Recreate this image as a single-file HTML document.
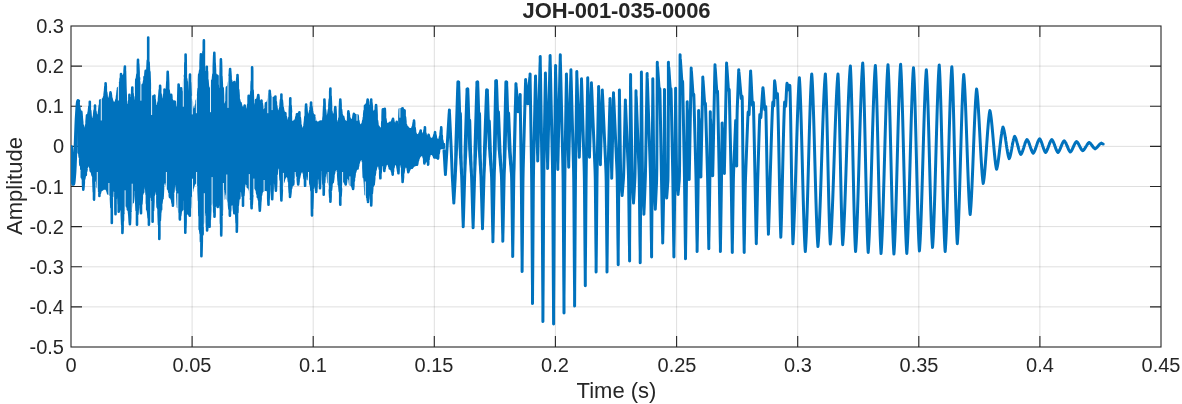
<!DOCTYPE html>
<html><head><meta charset="utf-8"><title>JOH-001-035-0006</title>
<style>
html,body{margin:0;padding:0;background:#fff;}
body{width:1182px;height:404px;position:relative;overflow:hidden;font-family:"Liberation Sans",sans-serif;color:#262626;}
.t,#title,#xlab,#ylab{will-change:transform;}
.t{position:absolute;font-size:20px;line-height:22px;height:22px;white-space:nowrap;}
.xt{width:100px;text-align:center;}
.yt{width:64px;text-align:right;}
#title{position:absolute;left:0;width:1233px;text-align:center;top:-1px;font-size:22px;line-height:24px;font-weight:bold;color:#262626;white-space:nowrap;letter-spacing:-0.1px}
#xlab{position:absolute;left:0;width:1233px;text-align:center;top:378.9px;font-size:22px;line-height:24px;white-space:nowrap;}
#ylab{position:absolute;left:-85px;top:174px;width:200px;height:24px;text-align:center;font-size:22px;line-height:24px;transform:rotate(-90deg);transform-origin:50% 50%;white-space:nowrap;}
</style></head><body>
<svg width="1182" height="404" viewBox="0 0 1182 404" style="position:absolute;left:0;top:0"><rect x="0" y="0" width="1182" height="404" fill="#fff"/><path d="M192.1,26V347M313.2,26V347M434.3,26V347M555.4,26V347M676.6,26V347M797.7,26V347M918.8,26V347M1039.9,26V347M71,66.1H1161M71,106.2H1161M71,146.4H1161M71,186.5H1161M71,226.6H1161M71,266.8H1161M71,306.9H1161" stroke="rgba(38,38,38,0.15)" stroke-width="1" fill="none"/><path d="M192.1,347v-11M192.1,26v11M313.2,347v-11M313.2,26v11M434.3,347v-11M434.3,26v11M555.4,347v-11M555.4,26v11M676.6,347v-11M676.6,26v11M797.7,347v-11M797.7,26v11M918.8,347v-11M918.8,26v11M1039.9,347v-11M1039.9,26v11M71,66.1h11M1161,66.1h-11M71,106.2h11M1161,106.2h-11M71,146.4h11M1161,146.4h-11M71,186.5h11M1161,186.5h-11M71,226.6h11M1161,226.6h-11M71,266.8h11M1161,266.8h-11M71,306.9h11M1161,306.9h-11" stroke="#262626" stroke-width="1.1" fill="none"/><rect x="71" y="26" width="1090" height="321" fill="none" stroke="#262626" stroke-width="1.1"/><clipPath id="c"><rect x="71" y="26" width="1090" height="321"/></clipPath><path clip-path="url(#c)" d="M71.0,147.0 L71.1,147.4 L71.3,148.4 L71.4,150.1 L71.5,152.4 L71.7,155.2 L71.8,158.4 L72.0,161.9 L72.1,165.5 L72.2,169.1 L72.4,172.6 L72.5,175.8 L72.7,178.6 L72.8,180.9 L72.9,182.6 L73.1,183.6 L73.2,184.0 L73.2,184.0 L73.5,183.2 L73.8,180.8 L74.1,177.0 L74.5,171.8 L74.8,165.6 L75.1,158.4 L75.4,150.6 L75.7,142.5 L76.0,134.4 L76.3,126.6 L76.6,119.4 L77.0,113.2 L77.3,108.0 L77.6,104.2 L77.9,101.8 L78.2,101.0" stroke="#0072bd" stroke-width="3.8" fill="none" stroke-linejoin="round" stroke-linecap="round"/><path clip-path="url(#c)" d="M78.6,102.3 L78.6,152.6 L79.0,153.0 L79.0,105.8 L79.4,108.3 L79.4,154.3 L79.8,157.2 L79.8,110.0 L80.2,111.0 L80.2,162.2 L80.4,165.0 L80.4,111.2 L80.6,111.5 L80.6,165.0 L81.0,166.0 L81.0,111.7 L81.3,111.7 L81.3,168.7 L81.4,169.2 L81.4,112.5 L81.8,118.0 L81.8,176.3 L81.8,177.3 L81.8,118.5 L82.2,122.1 L82.2,177.5 L82.6,179.0 L82.6,125.1 L83.0,127.0 L83.0,183.2 L83.3,189.6 L83.3,128.0 L83.4,128.2 L83.4,188.4 L83.8,182.7 L83.8,128.8 L84.2,129.0 L84.2,178.9 L84.6,176.7 L84.6,129.0 L84.6,129.0 L84.6,176.6 L85.0,175.4 L85.0,128.9 L85.4,128.5 L85.4,174.9 L85.8,174.9 L85.8,127.3 L86.2,125.1 L86.2,171.4 L86.6,168.8 L86.6,121.4 L87.0,116.0 L87.0,167.1 L87.0,166.9 L87.0,115.4 L87.4,115.4 L87.4,165.9 L87.8,165.3 L87.8,115.1 L88.2,114.3 L88.2,165.0 L88.6,165.0 L88.6,112.8 L88.8,111.9 L88.8,165.0 L89.0,165.0 L89.0,110.3 L89.4,106.5 L89.4,165.1 L89.8,165.7 L89.8,101.8 L89.8,102.7 L89.8,165.8 L90.2,167.3 L90.2,110.7 L90.6,115.8 L90.6,169.8 L90.8,171.1 L90.8,117.1 L91.0,118.7 L91.0,171.1 L91.4,171.3 L91.4,120.0 L91.8,120.3 L91.8,172.0 L92.0,172.5 L92.0,120.3 L92.2,120.3 L92.2,173.3 L92.5,174.9 L92.5,120.3 L92.6,120.2 L92.6,174.9 L93.0,175.9 L93.0,119.8 L93.4,118.8 L93.4,180.6 L93.8,192.0 L93.8,117.0 L94.0,115.9 L94.0,199.6 L94.2,191.0 L94.2,114.2 L94.6,110.3 L94.6,181.2 L95.0,176.8 L95.0,105.5 L95.0,106.2 L95.0,176.5 L95.4,175.0 L95.4,111.4 L95.7,113.9 L95.7,174.9 L95.8,174.9 L95.8,114.5 L96.2,116.1 L96.2,175.0 L96.6,176.0 L96.6,116.6 L96.9,116.6 L96.9,177.9 L97.0,178.3 L97.0,116.6 L97.4,116.6 L97.4,182.6 L97.7,187.2 L97.7,116.4 L97.8,116.3 L97.8,187.2 L98.2,187.5 L98.2,115.7 L98.6,114.4 L98.6,188.5 L99.0,191.0 L99.0,112.4 L99.4,109.5 L99.4,195.7 L99.4,195.9 L99.4,109.3 L99.8,105.3 L99.8,193.4 L100.2,191.8 L100.2,100.5 L100.2,100.5 L100.2,191.7 L100.6,190.6 L100.6,100.5 L101.0,100.5 L101.0,190.0 L101.4,189.8 L101.4,100.4 L101.8,100.2 L101.8,189.7 L101.9,189.7 L101.9,100.1 L102.2,99.9 L102.2,189.4 L102.6,189.1 L102.6,99.4 L102.6,99.3 L102.6,189.0 L103.0,188.8 L103.0,99.3 L103.4,99.0 L103.4,188.7 L103.8,188.5 L103.8,98.3 L104.2,96.9 L104.2,188.5 L104.6,188.5 L104.6,94.6 L105.0,91.2 L105.0,188.5 L105.1,188.5 L105.1,90.0 L105.4,86.3 L105.4,188.5 L105.6,188.5 L105.6,83.3 L105.8,86.7 L105.8,188.5 L106.2,188.7 L106.2,92.3 L106.6,95.9 L106.6,189.1 L107.0,189.7 L107.0,98.0 L107.4,99.0 L107.4,190.7 L107.8,192.1 L107.8,99.3 L108.1,99.3 L108.1,193.4 L108.2,193.4 L108.2,99.3 L108.6,99.2 L108.6,193.4 L109.0,193.5 L109.0,99.0 L109.4,98.3 L109.4,193.8 L109.8,194.2 L109.8,97.0 L110.1,95.8 L110.1,194.7 L110.2,194.7 L110.2,94.9 L110.5,92.4 L110.5,195.3 L110.6,195.5 L110.6,92.8 L111.0,95.8 L111.0,199.2 L111.4,207.8 L111.4,98.1 L111.8,99.9 L111.8,223.0 L111.8,222.5 L111.8,99.9 L112.2,101.2 L112.2,196.4 L112.6,182.2 L112.6,102.1 L113.0,102.6 L113.0,176.2 L113.4,174.9 L113.4,102.9 L113.5,102.9 L113.5,174.9 L113.8,175.0 L113.8,103.0 L114.2,103.0 L114.2,176.4 L114.3,177.0 L114.3,103.0 L114.6,103.0 L114.6,181.2 L115.0,191.2 L115.0,102.9 L115.4,102.6 L115.4,208.5 L115.5,214.2 L115.5,102.5 L115.8,102.0 L115.8,198.5 L116.2,185.3 L116.2,100.9 L116.6,99.3 L116.6,179.2 L117.0,177.4 L117.0,97.1 L117.2,95.4 L117.2,177.3 L117.4,177.4 L117.4,94.1 L117.8,90.2 L117.8,179.2 L118.0,181.7 L118.0,88.2 L118.2,88.2 L118.2,186.8 L118.6,204.1 L118.6,88.0 L118.7,88.0 L118.7,211.8 L119.0,210.0 L119.0,87.6 L119.4,86.6 L119.4,208.1 L119.8,207.3 L119.8,84.9 L120.2,82.3 L120.2,207.0 L120.5,207.0 L120.5,80.0 L120.6,78.5 L120.6,207.0 L121.0,207.4 L121.0,74.1 L121.0,74.3 L121.0,207.6 L121.4,209.9 L121.4,75.7 L121.8,76.5 L121.8,215.2 L122.2,224.8 L122.2,76.9 L122.4,77.0 L122.4,232.9 L122.6,228.6 L122.6,77.0 L122.9,77.0 L122.9,221.0 L123.0,219.7 L123.0,77.0 L123.4,76.9 L123.4,213.3 L123.8,209.1 L123.8,76.2 L124.2,74.3 L124.2,206.5 L124.6,205.1 L124.6,70.8 L124.9,66.6 L124.9,204.7 L125.0,204.6 L125.0,71.1 L125.4,87.2 L125.4,204.6 L125.4,204.6 L125.4,87.5 L125.8,98.0 L125.8,204.6 L126.2,204.7 L126.2,104.5 L126.6,107.8 L126.6,205.1 L127.0,205.9 L127.0,109.0 L127.4,109.2 L127.4,207.1 L127.4,207.1 L127.4,109.2 L127.8,109.1 L127.8,209.0 L127.9,209.5 L127.9,109.0 L128.2,108.2 L128.2,209.6 L128.6,210.2 L128.6,105.9 L129.0,101.4 L129.0,212.2 L129.4,215.8 L129.4,94.9 L129.4,95.3 L129.4,216.2 L129.8,223.0 L129.8,99.3 L129.9,99.7 L129.9,224.3 L130.2,217.6 L130.2,101.2 L130.6,101.7 L130.6,211.5 L130.8,208.7 L130.8,101.8 L131.0,101.8 L131.0,207.3 L131.4,204.6 L131.4,101.1 L131.8,98.0 L131.8,203.0 L132.2,202.3 L132.2,91.0 L132.3,87.5 L132.3,202.2 L132.6,202.1 L132.6,93.5 L132.8,97.6 L132.8,202.1 L133.0,196.8 L133.0,100.0 L133.4,104.0 L133.4,189.6 L133.8,187.4 L133.8,106.0 L134.1,106.5 L134.1,187.2 L134.2,187.2 L134.2,106.6 L134.6,106.7 L134.6,187.4 L134.6,187.4 L134.6,106.7 L135.0,106.3 L135.0,188.4 L135.4,190.6 L135.4,103.7 L135.8,96.9 L135.8,194.7 L136.2,201.1 L136.2,83.8 L136.3,79.5 L136.3,203.2 L136.6,210.5 L136.6,79.4 L137.0,78.2 L137.0,223.4 L137.0,224.8 L137.0,77.9 L137.4,74.4 L137.4,214.5 L137.8,207.4 L137.8,66.6 L138.0,59.7 L138.0,204.9 L138.2,203.7 L138.2,63.9 L138.6,72.0 L138.6,202.3 L139.0,202.1 L139.0,77.8 L139.0,78.0 L139.0,202.1 L139.4,202.2 L139.4,81.6 L139.8,84.0 L139.8,202.8 L140.2,204.4 L140.2,85.2 L140.6,85.6 L140.6,207.7 L141.0,213.2 L141.0,85.7 L141.4,85.7 L141.4,203.8 L141.8,197.7 L141.8,85.6 L142.2,85.5 L142.2,194.2 L142.6,192.6 L142.6,85.2 L143.0,84.8 L143.0,192.2 L143.2,192.1 L143.2,84.5 L143.4,84.4 L143.4,189.1 L143.8,184.6 L143.8,83.7 L144.2,80.9 L144.2,182.7 L144.5,182.3 L144.5,77.0 L144.6,77.0 L144.6,182.3 L144.7,182.3 L144.7,77.0 L145.0,76.5 L145.0,182.3 L145.4,182.9 L145.4,74.4 L145.7,70.9 L145.7,184.0 L145.8,184.6 L145.8,71.1 L146.2,71.8 L146.2,188.2 L146.6,194.3 L146.6,72.1 L146.9,72.1 L146.9,202.1 L147.0,203.8 L147.0,72.1 L147.2,71.8 L147.2,209.5 L147.4,209.5 L147.4,70.3 L147.8,60.5 L147.8,210.2 L148.2,212.4 L148.2,37.6 L148.2,39.2 L148.2,212.6 L148.6,217.8 L148.6,62.2 L148.9,69.9 L148.9,224.8 L149.0,219.1 L149.0,70.8 L149.4,72.1 L149.4,197.6 L149.4,196.8 L149.4,72.2 L149.8,83.9 L149.8,186.3 L150.2,181.8 L150.2,91.4 L150.6,95.2 L150.6,181.0 L150.7,181.0 L150.7,95.5 L151.0,96.6 L151.0,181.3 L151.4,183.2 L151.4,96.8 L151.8,96.8 L151.8,189.0 L152.2,200.5 L152.2,96.8 L152.6,96.7 L152.6,219.8 L152.6,221.7 L152.6,96.7 L153.0,96.6 L153.0,210.6 L153.4,201.4 L153.4,96.5 L153.8,96.2 L153.8,195.0 L154.2,190.9 L154.2,95.8 L154.4,95.7 L154.4,189.7 L154.6,188.6 L154.6,99.1 L155.0,103.2 L155.0,187.5 L155.4,187.2 L155.4,105.5 L155.6,106.1 L155.6,187.2 L155.8,187.2 L155.8,106.5 L156.2,106.7 L156.2,187.8 L156.3,188.3 L156.3,106.7 L156.6,106.7 L156.6,189.7 L157.0,194.2 L157.0,106.6 L157.4,106.3 L157.4,202.0 L157.6,206.9 L157.6,106.0 L157.8,105.5 L157.8,207.1 L158.2,208.5 L158.2,104.1 L158.6,102.0 L158.6,213.5 L159.0,224.6 L159.0,99.1 L159.3,95.9 L159.3,239.0 L159.4,235.1 L159.4,95.0 L159.8,89.8 L159.8,220.6 L160.1,215.0 L160.1,85.7 L160.2,88.3 L160.2,213.0 L160.6,210.0 L160.6,94.1 L161.0,97.9 L161.0,209.5 L161.1,209.5 L161.1,98.3 L161.4,100.2 L161.4,203.3 L161.8,199.7 L161.8,101.4 L162.2,101.7 L162.2,198.5 L162.5,198.4 L162.5,101.8 L162.6,101.8 L162.6,196.7 L163.0,188.8 L163.0,101.6 L163.4,100.7 L163.4,184.1 L163.8,181.9 L163.8,98.6 L164.2,94.4 L164.2,181.1 L164.5,181.0 L164.5,89.5 L164.6,89.8 L164.6,181.0 L165.0,181.1 L165.0,91.1 L165.4,91.7 L165.4,181.2 L165.8,181.6 L165.8,91.9 L166.0,91.9 L166.0,182.0 L166.2,182.4 L166.2,91.8 L166.6,91.0 L166.6,183.6 L167.0,185.4 L167.0,88.0 L167.4,81.2 L167.4,187.8 L167.5,188.5 L167.5,79.0 L167.7,71.7 L167.7,188.5 L167.8,188.5 L167.8,73.7 L168.2,83.7 L168.2,188.7 L168.6,189.3 L168.6,90.1 L169.0,93.7 L169.0,190.5 L169.4,192.5 L169.4,95.2 L169.8,95.6 L169.8,195.6 L170.0,197.1 L170.0,95.6 L170.2,95.6 L170.2,197.1 L170.6,197.2 L170.6,95.5 L171.0,95.2 L171.0,197.5 L171.2,197.8 L171.2,94.9 L171.4,97.0 L171.4,198.1 L171.8,199.2 L171.8,99.9 L172.2,101.3 L172.2,200.8 L172.6,203.2 L172.6,101.7 L172.9,101.8 L172.9,205.8 L173.0,203.3 L173.0,101.8 L173.4,101.8 L173.4,192.0 L173.8,185.4 L173.8,101.8 L174.2,101.8 L174.2,182.2 L174.6,181.1 L174.6,101.8 L174.9,101.8 L174.9,181.0 L175.0,181.0 L175.0,103.6 L175.4,109.6 L175.4,181.2 L175.8,181.7 L175.8,112.7 L176.2,114.0 L176.2,183.2 L176.6,185.8 L176.6,114.2 L176.6,114.2 L176.6,186.2 L177.0,190.1 L177.0,114.0 L177.4,112.5 L177.4,196.3 L177.8,205.0 L177.8,108.2 L177.9,106.9 L177.9,207.0 L178.2,207.1 L178.2,99.7 L178.6,85.5 L178.6,207.6 L178.6,207.7 L178.6,84.6 L179.0,89.4 L179.0,209.3 L179.4,212.6 L179.4,91.5 L179.8,91.9 L179.8,218.3 L179.9,219.4 L179.9,91.9 L180.2,91.8 L180.2,215.9 L180.6,212.9 L180.6,91.1 L181.0,89.0 L181.0,211.1 L181.1,210.7 L181.1,88.2 L181.4,91.9 L181.4,210.0 L181.8,209.6 L181.8,95.0 L182.2,96.4 L182.2,209.5 L182.3,209.4 L182.3,96.6 L182.6,96.8 L182.6,200.0 L182.8,193.8 L182.8,96.8 L183.0,96.8 L183.0,190.3 L183.4,185.0 L183.4,95.9 L183.8,92.0 L183.8,182.8 L184.2,182.3 L184.2,83.3 L184.3,79.5 L184.3,182.3 L184.6,183.5 L184.6,79.2 L185.0,75.3 L185.0,198.9 L185.3,232.8 L185.3,66.5 L185.4,62.6 L185.4,228.1 L185.6,221.7 L185.6,54.5 L185.8,67.7 L185.8,214.6 L186.2,210.0 L186.2,78.9 L186.5,81.7 L186.5,209.5 L186.6,209.5 L186.6,81.9 L186.8,82.0 L186.8,209.6 L187.0,210.4 L187.0,92.0 L187.3,99.3 L187.3,213.2 L187.4,213.2 L187.4,100.6 L187.8,101.8 L187.8,213.2 L187.8,213.2 L187.8,101.8 L188.2,101.6 L188.2,213.3 L188.6,213.6 L188.6,100.4 L189.0,97.3 L189.0,214.0 L189.4,214.8 L189.4,91.4 L189.8,82.7 L189.8,215.7 L189.8,214.4 L189.8,81.5 L190.0,74.6 L190.0,207.9 L190.2,203.3 L190.2,82.6 L190.6,94.0 L190.6,196.7 L191.0,193.4 L191.0,99.6 L191.4,101.6 L191.4,192.3 L191.7,192.2 L191.7,101.8 L191.8,102.6 L191.8,191.9 L192.2,189.9 L192.2,107.0 L192.6,109.3 L192.6,188.2 L193.0,186.8 L193.0,110.3 L193.4,110.4 L193.4,185.6 L193.5,185.4 L193.5,110.4 L193.8,110.4 L193.8,184.7 L194.2,183.9 L194.2,110.3 L194.6,110.0 L194.6,183.3 L195.0,182.9 L195.0,109.4 L195.4,108.3 L195.4,182.6 L195.8,182.4 L195.8,106.7 L196.2,104.4 L196.2,182.3 L196.6,182.3 L196.6,101.4 L196.7,100.6 L196.7,182.3 L197.0,182.3 L197.0,100.5 L197.2,100.3 L197.2,182.3 L197.4,182.3 L197.4,99.9 L197.8,98.2 L197.8,183.0 L198.2,185.5 L198.2,94.7 L198.6,88.7 L198.6,191.0 L199.0,200.7 L199.0,79.5 L199.2,74.6 L199.2,206.4 L199.4,215.8 L199.4,74.5 L199.7,74.1 L199.7,229.1 L199.8,229.3 L199.8,73.6 L200.2,70.3 L200.2,230.1 L200.6,233.6 L200.6,63.1 L200.9,54.3 L200.9,239.2 L201.0,241.8 L201.0,54.8 L201.4,56.4 L201.4,256.3 L201.8,241.1 L201.8,57.0 L202.2,57.2 L202.2,235.2 L202.4,234.4 L202.4,57.2 L202.6,57.2 L202.6,234.3 L202.6,234.3 L202.6,57.2 L203.0,56.0 L203.0,223.5 L203.4,221.8 L203.4,52.2 L203.4,51.9 L203.4,221.2 L203.8,212.0 L203.8,42.7 L203.9,40.4 L203.9,210.9 L204.2,207.1 L204.2,71.5 L204.6,91.5 L204.6,205.0 L205.0,204.6 L205.0,98.5 L205.1,99.0 L205.1,204.6 L205.4,204.6 L205.4,99.3 L205.4,99.3 L205.4,204.6 L205.8,205.7 L205.8,98.4 L206.2,93.3 L206.2,208.9 L206.6,215.7 L206.6,80.1 L206.8,66.7 L206.8,221.9 L207.0,227.2 L207.0,71.2 L207.1,73.4 L207.1,230.5 L207.4,225.5 L207.4,79.8 L207.8,85.2 L207.8,222.5 L208.2,221.9 L208.2,88.1 L208.3,88.6 L208.3,221.9 L208.6,221.9 L208.6,89.2 L209.0,89.4 L209.0,222.7 L209.1,223.0 L209.1,89.4 L209.4,89.4 L209.4,225.1 L209.6,226.8 L209.6,89.4 L209.8,89.3 L209.8,219.8 L210.2,210.8 L210.2,88.9 L210.6,88.2 L210.6,205.0 L211.0,201.6 L211.0,87.0 L211.4,85.2 L211.4,200.1 L211.8,199.6 L211.8,82.7 L212.0,80.7 L212.0,199.6 L212.2,199.6 L212.2,80.7 L212.6,80.3 L212.6,199.8 L213.0,200.6 L213.0,78.5 L213.4,74.4 L213.4,202.5 L213.8,205.8 L213.8,66.9 L214.2,55.2 L214.2,211.1 L214.3,212.3 L214.3,52.9 L214.5,60.2 L214.5,216.8 L214.6,214.5 L214.6,62.5 L215.0,70.0 L215.0,206.1 L215.4,201.6 L215.4,74.0 L215.8,75.5 L215.8,199.9 L216.2,199.6 L216.2,75.8 L216.2,75.8 L216.2,199.6 L216.6,199.7 L216.6,75.8 L217.0,75.8 L217.0,200.6 L217.4,203.1 L217.4,75.8 L217.5,76.0 L217.5,204.0 L217.7,207.0 L217.7,85.1 L217.8,87.2 L217.8,205.9 L218.2,201.0 L218.2,95.0 L218.6,97.7 L218.6,198.4 L219.0,197.4 L219.0,98.1 L219.0,98.1 L219.0,197.3 L219.4,197.1 L219.4,97.7 L219.5,97.4 L219.5,197.1 L219.8,197.4 L219.8,95.2 L220.2,88.8 L220.2,200.1 L220.6,207.9 L220.6,76.4 L220.9,59.2 L220.9,221.3 L221.0,223.8 L221.0,61.6 L221.2,70.0 L221.2,235.4 L221.4,226.3 L221.4,76.4 L221.8,84.3 L221.8,215.0 L222.2,210.4 L222.2,87.5 L222.6,88.2 L222.6,209.5 L222.7,209.5 L222.7,88.2 L223.0,96.7 L223.0,199.4 L223.4,191.7 L223.4,103.7 L223.8,107.5 L223.8,188.2 L224.2,187.3 L224.2,108.9 L224.4,109.2 L224.4,187.2 L224.6,187.2 L224.6,109.2 L224.7,109.2 L224.7,187.2 L225.0,187.4 L225.0,109.1 L225.4,108.4 L225.4,187.9 L225.8,189.2 L225.8,106.3 L226.2,102.1 L226.2,191.4 L226.6,194.9 L226.6,94.9 L226.9,87.5 L226.9,198.4 L227.0,198.4 L227.0,87.4 L227.4,87.4 L227.4,198.5 L227.8,198.9 L227.8,87.0 L228.2,86.2 L228.2,199.8 L228.6,201.7 L228.6,84.7 L229.0,82.3 L229.0,204.6 L229.4,208.8 L229.4,78.7 L229.8,73.9 L229.8,214.6 L229.9,215.7 L229.9,73.0 L230.1,69.1 L230.1,211.2 L230.2,209.8 L230.2,70.8 L230.6,76.5 L230.6,205.4 L231.0,203.1 L231.0,80.2 L231.4,82.2 L231.4,202.2 L231.8,202.1 L231.8,83.0 L231.8,83.1 L231.8,202.1 L232.2,202.1 L232.2,83.2 L232.3,83.2 L232.3,202.2 L232.6,202.4 L232.6,83.2 L233.0,83.2 L233.0,203.2 L233.4,204.9 L233.4,83.0 L233.8,82.7 L233.8,207.6 L234.2,211.7 L234.2,82.2 L234.3,82.0 L234.3,213.2 L234.6,211.2 L234.6,83.7 L235.0,85.1 L235.0,209.8 L235.4,209.5 L235.4,85.6 L235.6,85.7 L235.6,209.5 L235.8,209.7 L235.8,85.7 L236.2,85.6 L236.2,212.7 L236.6,222.9 L236.6,84.7 L236.8,83.7 L236.8,231.7 L237.0,224.0 L237.0,82.2 L237.4,77.3 L237.4,212.7 L237.5,209.9 L237.5,75.1 L237.8,81.9 L237.8,205.3 L238.2,201.0 L238.2,89.9 L238.6,95.6 L238.6,199.0 L239.0,198.4 L239.0,99.4 L239.3,101.0 L239.3,198.3 L239.4,196.3 L239.4,101.6 L239.8,102.6 L239.8,191.6 L240.2,188.9 L240.2,103.0 L240.5,103.0 L240.5,187.8 L240.6,187.6 L240.6,103.6 L241.0,105.4 L241.0,187.2 L241.2,187.2 L241.2,106.3 L241.4,106.7 L241.4,187.2 L241.8,187.8 L241.8,107.4 L242.2,107.8 L242.2,190.3 L242.6,196.1 L242.6,108.0 L243.0,108.0 L243.0,205.8 L243.0,205.2 L243.0,108.0 L243.4,107.9 L243.4,195.7 L243.8,189.3 L243.8,107.7 L244.2,107.1 L244.2,185.3 L244.6,183.2 L244.6,105.9 L244.7,105.5 L244.7,182.9 L245.0,182.4 L245.0,107.8 L245.4,110.0 L245.4,182.3 L245.5,182.3 L245.5,110.2 L245.8,111.1 L245.8,182.3 L246.2,182.4 L246.2,111.6 L246.6,111.7 L246.6,182.8 L246.7,182.9 L246.7,111.7 L247.0,111.6 L247.0,183.5 L247.4,184.7 L247.4,111.0 L247.8,108.9 L247.8,186.5 L247.9,187.2 L247.9,107.8 L248.2,104.6 L248.2,187.2 L248.6,187.4 L248.6,97.3 L248.7,95.7 L248.7,187.4 L249.0,187.7 L249.0,96.2 L249.4,96.6 L249.4,188.5 L249.8,189.9 L249.8,96.8 L250.2,96.8 L250.2,192.0 L250.4,193.5 L250.4,96.8 L250.6,96.8 L250.6,195.0 L251.0,199.1 L251.0,95.6 L251.4,91.2 L251.4,204.4 L251.6,208.2 L251.6,86.1 L251.8,81.4 L251.8,204.5 L252.1,198.0 L252.1,67.2 L252.2,70.9 L252.2,197.0 L252.6,192.1 L252.6,90.2 L253.0,101.6 L253.0,189.2 L253.4,187.7 L253.4,107.2 L253.8,109.0 L253.8,187.3 L254.1,187.2 L254.1,109.2 L254.2,109.2 L254.2,187.2 L254.6,187.2 L254.6,109.1 L255.0,108.4 L255.0,187.4 L255.4,187.6 L255.4,106.7 L255.8,103.6 L255.8,188.1 L256.1,188.7 L256.1,100.0 L256.2,100.0 L256.2,189.0 L256.6,190.2 L256.6,100.0 L257.0,99.7 L257.0,191.9 L257.4,194.1 L257.4,99.1 L257.8,97.8 L257.8,196.9 L257.8,197.1 L257.8,97.7 L258.2,95.9 L258.2,197.2 L258.3,197.3 L258.3,95.1 L258.6,97.9 L258.6,197.9 L259.0,199.9 L259.0,100.7 L259.4,102.3 L259.4,203.9 L259.8,210.5 L259.8,102.9 L259.8,102.9 L259.8,210.7 L260.2,204.0 L260.2,103.0 L260.3,103.0 L260.3,202.4 L260.6,198.8 L260.6,103.0 L261.0,102.6 L261.0,195.2 L261.4,192.9 L261.4,101.3 L261.5,100.6 L261.5,192.4 L261.8,191.7 L261.8,103.6 L262.2,107.3 L262.2,191.1 L262.6,190.9 L262.6,109.6 L262.8,110.3 L262.8,190.9 L263.0,190.7 L263.0,110.9 L263.4,111.5 L263.4,190.4 L263.8,190.1 L263.8,111.7 L264.0,111.7 L264.0,190.0 L264.2,189.9 L264.2,111.7 L264.6,111.5 L264.6,189.8 L265.0,189.7 L265.0,110.7 L265.4,108.8 L265.4,189.7 L265.8,189.7 L265.8,105.5 L266.0,103.2 L266.0,189.7 L266.2,182.1 L266.2,103.2 L266.6,103.2 L266.6,182.4 L267.0,183.6 L267.0,103.0 L267.4,102.6 L267.4,186.2 L267.8,190.8 L267.8,101.8 L268.2,100.6 L268.2,198.1 L268.5,204.7 L268.5,99.5 L268.6,99.0 L268.6,200.0 L269.0,189.0 L269.0,96.7 L269.4,93.7 L269.4,183.3 L269.7,181.4 L269.7,90.9 L269.8,91.6 L269.8,181.2 L270.2,180.8 L270.2,94.4 L270.2,94.5 L270.2,180.8 L270.6,181.0 L270.6,96.3 L271.0,97.4 L271.0,182.0 L271.4,184.9 L271.4,98.0 L271.8,98.2 L271.8,190.5 L272.2,199.3 L272.2,98.3 L272.2,98.3 L272.2,199.0 L272.6,188.4 L272.6,98.3 L273.0,98.2 L273.0,182.6 L273.4,180.1 L273.4,98.2 L273.8,98.0 L273.8,179.6 L273.9,179.6 L273.9,98.0 L274.2,97.8 L274.2,179.6 L274.6,180.1 L274.6,97.5 L275.0,97.1 L275.0,181.4 L275.4,184.2 L275.4,96.5 L275.4,96.6 L275.4,184.3 L275.8,189.1 L275.8,101.9 L275.9,103.0 L275.9,190.7 L276.2,182.4 L276.2,105.8 L276.6,108.6 L276.6,174.4 L277.0,169.2 L277.0,110.4 L277.4,111.3 L277.4,166.3 L277.8,165.1 L277.8,111.8 L278.2,111.9 L278.2,164.8 L278.4,164.8 L278.4,111.9 L278.6,111.9 L278.6,164.8 L279.0,165.1 L279.0,111.7 L279.4,111.2 L279.4,166.2 L279.8,168.7 L279.8,110.0 L280.2,107.9 L280.2,173.1 L280.6,179.8 L280.6,104.6 L281.0,99.9 L281.0,189.5 L281.4,200.5 L281.4,94.6 L281.4,95.3 L281.4,199.2 L281.8,190.6 L281.8,100.2 L282.2,104.2 L282.2,185.5 L282.6,183.0 L282.6,107.2 L283.0,109.4 L283.0,182.2 L283.3,182.1 L283.3,110.8 L283.4,111.0 L283.4,181.7 L283.8,180.0 L283.8,112.1 L284.2,112.7 L284.2,178.7 L284.6,177.6 L284.6,113.0 L285.0,113.1 L285.0,176.9 L285.3,176.5 L285.3,113.1 L285.4,113.9 L285.4,176.4 L285.8,176.1 L285.8,116.8 L286.2,118.8 L286.2,176.0 L286.6,175.9 L286.6,120.2 L287.0,121.1 L287.0,175.9 L287.0,175.9 L287.0,121.2 L287.4,121.6 L287.4,175.9 L287.8,176.2 L287.8,121.7 L288.2,121.8 L288.2,177.1 L288.3,177.4 L288.3,121.8 L288.6,121.7 L288.6,178.9 L289.0,181.9 L289.0,120.6 L289.4,117.5 L289.4,186.4 L289.8,192.8 L289.8,111.1 L290.0,106.0 L290.0,196.9 L290.2,194.9 L290.2,100.3 L290.3,98.3 L290.3,194.3 L290.6,191.3 L290.6,105.5 L291.0,111.9 L291.0,188.7 L291.4,186.8 L291.4,116.3 L291.8,119.2 L291.8,185.6 L292.2,185.0 L292.2,120.8 L292.6,121.6 L292.6,184.6 L293.0,184.6 L293.0,121.8 L293.2,121.8 L293.2,184.5 L293.4,182.1 L293.4,121.8 L293.8,121.8 L293.8,177.8 L294.2,174.9 L294.2,121.6 L294.6,121.4 L294.6,173.3 L295.0,172.5 L295.0,121.0 L295.4,120.3 L295.4,172.2 L295.7,172.2 L295.7,119.6 L295.8,119.3 L295.8,172.2 L296.2,172.3 L296.2,118.0 L296.6,116.2 L296.6,172.8 L296.9,173.7 L296.9,114.4 L297.0,114.4 L297.0,174.0 L297.4,176.2 L297.4,114.3 L297.8,114.3 L297.8,179.7 L298.2,184.5 L298.2,114.1 L298.2,114.1 L298.2,184.3 L298.6,180.9 L298.6,113.8 L299.0,113.2 L299.0,178.0 L299.4,175.8 L299.4,112.4 L299.4,112.4 L299.4,175.7 L299.8,174.1 L299.8,117.7 L300.2,121.9 L300.2,172.8 L300.6,172.0 L300.6,125.0 L301.0,127.0 L301.0,171.4 L301.4,171.1 L301.4,128.3 L301.8,128.9 L301.8,171.0 L302.2,170.9 L302.2,129.2 L302.4,129.2 L302.4,170.9 L302.6,170.9 L302.6,129.2 L302.6,129.2 L302.6,171.0 L303.0,171.1 L303.0,129.2 L303.4,128.9 L303.4,171.7 L303.8,173.0 L303.8,128.3 L304.2,126.9 L304.2,175.3 L304.6,178.9 L304.6,124.7 L305.0,121.3 L305.0,184.1 L305.1,185.8 L305.1,120.2 L305.4,116.6 L305.4,179.5 L305.8,174.2 L305.8,110.3 L306.1,104.5 L306.1,172.1 L306.2,171.7 L306.2,106.1 L306.6,111.0 L306.6,171.0 L306.8,170.9 L306.8,112.9 L307.0,113.8 L307.0,170.9 L307.4,171.2 L307.4,115.1 L307.8,115.6 L307.8,172.4 L308.1,174.1 L308.1,115.6 L308.2,115.6 L308.2,175.1 L308.6,179.5 L308.6,115.5 L308.6,115.5 L308.6,179.6 L309.0,179.7 L309.0,115.2 L309.4,114.4 L309.4,180.0 L309.8,180.8 L309.8,113.0 L310.2,110.8 L310.2,182.3 L310.6,184.5 L310.6,108.0 L310.6,107.6 L310.6,184.6 L311.0,185.4 L311.0,103.1 L311.1,102.5 L311.1,185.7 L311.4,190.3 L311.4,106.3 L311.8,109.7 L311.8,202.8 L312.0,215.5 L312.0,111.2 L312.2,112.1 L312.2,208.8 L312.6,196.1 L312.6,113.8 L313.0,114.8 L313.0,188.2 L313.4,184.1 L313.4,115.3 L313.8,115.6 L313.8,182.4 L314.2,182.1 L314.2,115.6 L314.3,115.6 L314.3,182.1 L314.6,182.1 L314.6,117.4 L315.0,119.2 L315.0,182.6 L315.4,183.9 L315.4,120.5 L315.8,121.5 L315.8,186.7 L316.2,191.3 L316.2,122.2 L316.2,122.3 L316.2,191.9 L316.6,184.5 L316.6,122.6 L317.0,122.9 L317.0,178.8 L317.4,175.5 L317.4,123.0 L317.8,123.0 L317.8,173.9 L318.0,173.6 L318.0,123.0 L318.2,123.0 L318.2,173.5 L318.5,173.4 L318.5,123.0 L318.6,123.0 L318.6,173.4 L319.0,174.1 L319.0,122.9 L319.4,122.6 L319.4,177.0 L319.8,184.0 L319.8,122.1 L320.0,121.8 L320.0,188.3 L320.2,179.8 L320.2,121.8 L320.6,121.8 L320.6,170.7 L321.0,166.3 L321.0,121.8 L321.4,121.8 L321.4,164.9 L321.7,164.8 L321.7,121.8 L321.8,121.8 L321.8,164.8 L322.2,165.3 L322.2,121.8 L322.4,121.8 L322.4,166.4 L322.6,167.7 L322.6,121.8 L323.0,121.3 L323.0,173.4 L323.4,184.1 L323.4,119.2 L323.7,116.4 L323.7,194.8 L323.8,191.4 L323.8,114.5 L324.2,106.0 L324.2,182.7 L324.4,179.1 L324.4,99.6 L324.6,103.5 L324.6,176.8 L325.0,173.3 L325.0,109.9 L325.4,113.8 L325.4,171.6 L325.8,171.0 L325.8,115.9 L326.1,116.6 L326.1,170.9 L326.2,170.9 L326.2,116.7 L326.6,116.8 L326.6,171.0 L326.6,171.1 L326.6,116.8 L327.0,116.8 L327.0,171.6 L327.4,172.9 L327.4,116.6 L327.8,116.0 L327.8,175.5 L328.2,179.6 L328.2,114.7 L328.4,113.9 L328.4,182.1 L328.6,182.1 L328.6,112.7 L329.0,109.6 L329.0,182.7 L329.4,184.8 L329.4,105.2 L329.8,99.3 L329.8,189.4 L330.2,197.5 L330.2,91.8 L330.4,88.5 L330.4,201.8 L330.6,196.6 L330.6,96.0 L331.0,105.3 L331.0,190.1 L331.4,185.9 L331.4,111.3 L331.8,114.8 L331.8,183.5 L332.2,182.4 L332.2,116.4 L332.6,116.8 L332.6,182.1 L332.8,182.1 L332.8,116.8 L333.0,116.8 L333.0,180.3 L333.4,176.7 L333.4,116.7 L333.8,116.2 L333.8,174.0 L334.2,171.9 L334.2,115.2 L334.6,113.2 L334.6,170.4 L335.0,169.4 L335.0,110.2 L335.3,107.0 L335.3,169.0 L335.4,168.9 L335.4,108.9 L335.8,116.0 L335.8,168.6 L336.2,168.5 L336.2,120.6 L336.5,123.1 L336.5,168.5 L336.6,168.5 L336.6,123.5 L337.0,124.9 L337.0,168.6 L337.4,169.4 L337.4,125.4 L337.8,125.5 L337.8,171.2 L337.8,171.3 L337.8,125.5 L338.2,125.4 L338.2,175.1 L338.6,181.1 L338.6,124.6 L338.8,123.8 L338.8,184.5 L339.0,184.6 L339.0,122.4 L339.4,118.2 L339.4,186.1 L339.8,191.3 L339.8,111.4 L340.2,101.3 L340.2,202.6 L340.3,204.8 L340.3,99.5 L340.6,104.8 L340.6,196.2 L341.0,189.1 L341.0,109.5 L341.4,112.8 L341.4,184.6 L341.8,182.1 L341.8,114.9 L342.2,116.1 L342.2,181.1 L342.6,180.8 L342.6,116.7 L342.7,116.8 L342.7,180.8 L343.0,180.8 L343.0,116.8 L343.2,116.8 L343.2,180.9 L343.4,180.9 L343.4,117.8 L343.8,119.5 L343.8,181.0 L344.2,181.3 L344.2,120.7 L344.6,121.3 L344.6,181.8 L345.0,182.5 L345.0,121.7 L345.4,121.8 L345.4,183.5 L345.7,184.5 L345.7,121.8 L345.8,121.8 L345.8,183.5 L346.2,180.2 L346.2,121.7 L346.6,121.4 L346.6,178.3 L347.0,177.4 L347.0,120.7 L347.4,119.3 L347.4,177.2 L347.7,177.1 L347.7,117.8 L347.8,117.0 L347.8,177.1 L348.2,177.2 L348.2,113.8 L348.4,111.4 L348.4,177.3 L348.6,177.5 L348.6,112.9 L349.0,115.7 L349.0,178.2 L349.4,179.6 L349.4,117.8 L349.8,119.1 L349.8,181.8 L350.2,184.6 L350.2,119.9 L350.2,119.9 L350.2,184.6 L350.6,184.6 L350.6,120.4 L351.0,120.5 L351.0,184.7 L351.4,184.9 L351.4,120.5 L351.8,120.5 L351.8,185.3 L352.2,186.0 L352.2,120.3 L352.6,119.8 L352.6,187.0 L353.0,188.5 L353.0,118.7 L353.1,118.2 L353.1,189.0 L353.4,185.5 L353.4,117.0 L353.8,114.4 L353.8,181.1 L353.9,180.4 L353.9,113.9 L354.2,114.3 L354.2,177.5 L354.6,174.6 L354.6,114.7 L355.0,115.0 L355.0,172.5 L355.4,170.9 L355.4,115.2 L355.8,115.4 L355.8,169.8 L356.2,169.1 L356.2,115.5 L356.6,115.6 L356.6,168.7 L357.0,168.5 L357.0,115.6 L357.4,115.6 L357.4,168.5 L357.6,168.5 L357.6,115.6 L357.8,117.6 L357.8,167.1 L358.2,164.9 L358.2,120.6 L358.6,122.7 L358.6,163.1 L359.0,161.7 L359.0,124.1 L359.4,124.9 L359.4,160.6 L359.8,159.8 L359.8,125.3 L360.2,125.5 L360.2,159.3 L360.6,158.9 L360.6,125.5 L360.6,125.5 L360.6,158.9 L361.0,158.7 L361.0,125.5 L361.4,125.4 L361.4,158.6 L361.8,158.6 L361.8,125.1 L362.0,124.8 L362.0,158.6 L362.2,158.6 L362.2,124.5 L362.6,123.6 L362.6,159.2 L363.0,161.7 L363.0,122.2 L363.4,120.3 L363.4,167.5 L363.8,177.1 L363.8,118.1 L363.8,117.8 L363.8,177.1 L364.2,177.4 L364.2,114.6 L364.6,110.7 L364.6,179.0 L365.0,183.3 L365.0,105.8 L365.0,105.7 L365.0,183.4 L365.4,191.5 L365.4,105.7 L365.5,105.7 L365.5,194.3 L365.8,194.5 L365.8,105.5 L366.2,105.2 L366.2,194.6 L366.6,195.1 L366.6,104.5 L367.0,103.3 L367.0,196.1 L367.4,197.8 L367.4,101.5 L367.7,99.5 L367.7,199.8 L367.8,200.4 L367.8,100.5 L368.0,102.7 L368.0,201.9 L368.2,195.3 L368.2,104.8 L368.6,107.1 L368.6,188.0 L369.0,185.1 L369.0,108.0 L369.4,108.2 L369.4,184.6 L369.5,184.6 L369.5,108.2 L369.8,108.1 L369.8,184.7 L370.2,186.2 L370.2,107.5 L370.6,105.7 L370.6,190.5 L371.0,199.2 L371.0,102.1 L371.2,99.5 L371.2,205.5 L371.4,200.9 L371.4,102.6 L371.8,107.2 L371.8,193.7 L372.2,189.0 L372.2,110.2 L372.6,112.0 L372.6,186.3 L373.0,185.0 L373.0,112.8 L373.4,113.1 L373.4,184.6 L373.7,184.6 L373.7,113.1 L373.8,113.1 L373.8,183.1 L374.2,178.9 L374.2,113.0 L374.6,112.7 L374.6,175.4 L375.0,172.5 L375.0,111.9 L375.4,110.3 L375.4,170.2 L375.8,168.4 L375.8,107.9 L376.1,105.0 L376.1,167.2 L376.2,167.1 L376.2,106.3 L376.6,114.8 L376.6,166.1 L377.0,165.5 L377.0,120.6 L377.4,124.1 L377.4,165.1 L377.8,164.8 L377.8,125.9 L378.2,126.6 L378.2,164.8 L378.6,164.8 L378.6,126.7 L378.6,126.7 L378.6,164.8 L379.0,164.9 L379.0,127.7 L379.4,128.4 L379.4,166.0 L379.8,169.0 L379.8,128.9 L380.2,129.1 L380.2,175.0 L380.4,178.3 L380.4,129.1 L380.6,129.2 L380.6,173.1 L381.0,167.2 L381.0,129.2 L381.1,129.2 L381.1,166.2 L381.4,164.0 L381.4,129.1 L381.8,127.9 L381.8,162.6 L382.2,162.3 L382.2,124.1 L382.3,121.9 L382.3,162.3 L382.6,162.3 L382.6,116.3 L382.8,109.5 L382.8,162.4 L383.0,162.6 L383.0,109.4 L383.4,109.4 L383.4,163.6 L383.8,165.8 L383.8,109.3 L384.2,109.2 L384.2,169.5 L384.3,170.9 L384.3,109.2 L384.6,109.1 L384.6,169.0 L384.8,167.8 L384.8,108.9 L385.0,112.9 L385.0,166.9 L385.4,165.4 L385.4,118.9 L385.8,122.3 L385.8,164.4 L386.2,163.9 L386.2,123.8 L386.6,124.2 L386.6,163.6 L386.8,163.5 L386.8,124.3 L387.0,124.3 L387.0,163.5 L387.3,163.5 L387.3,124.3 L387.4,124.2 L387.4,163.5 L387.8,163.6 L387.8,124.2 L388.2,124.1 L388.2,163.8 L388.6,164.3 L388.6,124.0 L389.0,123.7 L389.0,165.2 L389.4,166.6 L389.4,123.4 L389.8,123.0 L389.8,168.5 L389.8,168.5 L389.8,123.0 L390.2,123.0 L390.2,168.5 L390.6,168.6 L390.6,122.9 L391.0,122.8 L391.0,168.9 L391.4,169.5 L391.4,122.5 L391.8,122.0 L391.8,170.5 L392.2,171.9 L392.2,121.2 L392.6,120.1 L392.6,173.9 L392.7,174.6 L392.7,119.7 L393.0,118.8 L393.0,171.6 L393.0,171.4 L393.0,119.0 L393.4,121.3 L393.4,167.9 L393.8,165.6 L393.8,122.9 L394.2,123.8 L394.2,164.3 L394.6,163.7 L394.6,124.1 L395.0,124.3 L395.0,163.5 L395.2,163.5 L395.2,124.3 L395.4,124.3 L395.4,163.5 L395.8,163.6 L395.8,124.1 L396.2,123.5 L396.2,163.8 L396.6,164.3 L396.6,122.2 L396.7,121.8 L396.7,164.5 L397.0,165.2 L397.0,126.1 L397.4,128.6 L397.4,166.6 L397.8,168.7 L397.8,129.2 L397.9,129.2 L397.9,169.5 L398.2,171.5 L398.2,129.1 L398.4,128.7 L398.4,173.3 L398.6,170.0 L398.6,128.1 L399.0,124.6 L399.0,164.7 L399.4,162.1 L399.4,117.1 L399.7,109.5 L399.7,161.3 L399.8,161.1 L399.8,109.4 L400.2,109.4 L400.2,161.0 L400.2,161.0 L400.2,109.4 L400.6,109.4 L400.6,161.2 L401.0,161.9 L401.0,109.3 L401.4,109.2 L401.4,163.7 L401.8,167.2 L401.8,108.9 L402.2,108.6 L402.2,172.8 L402.6,181.2 L402.6,108.2 L402.6,108.2 L402.6,182.0 L403.0,177.2 L403.0,109.3 L403.4,110.1 L403.4,173.1 L403.8,170.2 L403.8,110.5 L404.2,110.6 L404.2,168.2 L404.6,166.9 L404.6,110.6 L404.6,110.6 L404.6,166.9 L405.0,166.3 L405.0,117.1 L405.4,121.6 L405.4,166.0 L405.8,166.0 L405.8,124.5 L405.9,124.7 L405.9,166.0 L406.2,166.0 L406.2,126.0 L406.6,126.6 L406.6,166.2 L407.0,166.6 L407.0,126.7 L407.1,126.7 L407.1,166.8 L407.4,167.5 L407.4,127.3 L407.8,127.9 L407.8,169.0 L408.2,171.3 L408.2,128.4 L408.3,128.5 L408.3,172.2 L408.6,171.3 L408.6,128.7 L409.0,128.9 L409.0,170.2 L409.4,169.3 L409.4,129.1 L409.8,129.2 L409.8,168.7 L410.2,168.3 L410.2,129.2 L410.6,129.2 L410.6,168.0 L410.8,167.9 L410.8,129.2 L411.0,129.2 L411.0,167.8 L411.4,167.7 L411.4,129.2 L411.8,128.9 L411.8,167.7 L412.0,167.7 L412.0,128.7 L412.2,128.5 L412.2,167.4 L412.6,166.8 L412.6,127.7 L413.0,126.4 L413.0,166.3 L413.4,165.9 L413.4,124.6 L413.8,122.2 L413.8,165.5 L414.0,165.4 L414.0,120.5 L414.2,123.1 L414.2,165.3 L414.6,165.1 L414.6,127.7 L415.0,130.9 L415.0,164.9 L415.4,164.9 L415.4,133.1 L415.8,134.4 L415.8,164.8 L416.2,164.8 L416.2,135.1 L416.6,135.4 L416.6,164.8 L417.0,164.8 L417.0,135.4 L417.0,135.4 L417.0,164.7 L417.4,162.7 L417.4,135.4 L417.8,135.3 L417.8,161.0 L418.2,159.5 L418.2,135.2 L418.6,135.0 L418.6,158.3 L419.0,157.3 L419.0,134.6 L419.4,134.0 L419.4,156.6 L419.8,156.0 L419.8,133.3 L420.2,132.2 L420.2,155.5 L420.6,155.2 L420.6,130.8 L420.7,130.5 L420.7,155.2 L421.0,155.0 L421.0,132.6 L421.4,134.3 L421.4,154.9 L421.8,154.9 L421.8,135.2 L422.2,135.4 L422.2,154.9 L422.4,154.9 L422.4,135.4 L422.6,135.4 L422.6,154.9 L423.0,155.1 L423.0,135.3 L423.4,134.9 L423.4,155.9 L423.8,157.7 L423.8,134.0 L424.2,132.4 L424.2,161.0 L424.4,163.5 L424.4,131.2 L424.6,129.9 L424.6,162.6 L424.9,161.4 L424.9,127.2 L425.0,128.6 L425.0,161.1 L425.4,160.3 L425.4,133.3 L425.8,136.1 L425.8,159.9 L426.2,159.8 L426.2,137.4 L426.4,137.7 L426.4,159.8 L426.6,159.8 L426.6,137.8 L426.9,137.9 L426.9,159.9 L427.0,160.0 L427.0,137.9 L427.4,137.8 L427.4,160.8 L427.8,162.4 L427.8,137.4 L428.1,136.7 L428.1,164.7 L428.2,163.8 L428.2,136.5 L428.6,134.8 L428.6,159.5 L428.6,159.3 L428.6,134.7 L429.0,136.3 L429.0,156.6 L429.4,154.9 L429.4,137.5 L429.8,138.3 L429.8,154.0 L430.2,153.7 L430.2,138.8 L430.6,139.0 L430.6,153.6 L431.0,153.6 L431.0,139.1 L431.4,139.1 L431.4,153.6 L431.4,153.7 L431.4,139.1 L431.8,139.1 L431.8,153.7 L432.2,153.9 L432.2,139.0 L432.6,138.8 L432.6,154.2 L433.0,154.6 L433.0,138.5 L433.4,137.9 L433.4,155.2 L433.8,156.0 L433.8,137.1 L434.2,136.0 L434.2,157.0 L434.3,157.3 L434.3,135.5 L434.6,134.4 L434.6,157.3 L435.0,157.3 L435.0,132.5 L435.1,132.2 L435.1,157.3 L435.4,157.4 L435.4,134.7 L435.8,136.9 L435.8,157.4 L436.2,157.5 L436.2,138.4 L436.6,139.4 L436.6,157.6 L437.0,157.8 L437.0,140.0 L437.4,140.3 L437.4,158.0 L437.8,158.3 L437.8,140.3 L438.0,140.3 L438.0,158.6 L438.2,156.9 L438.2,140.3 L438.6,140.3 L438.6,153.7 L439.0,151.2 L439.0,140.0 L439.4,139.3 L439.4,149.3 L439.8,148.0 L439.8,138.2 L440.2,136.3 L440.2,147.9 L440.6,147.9 L440.6,133.7 L441.0,130.0 L441.0,147.9 L441.2,147.9 L441.2,127.3 L441.4,130.2 L441.4,147.9 L441.7,147.9 L441.7,135.4 L441.8,136.2 L441.8,147.9 L442.2,147.9 L442.2,140.1 L442.6,142.5 L442.6,147.9 L443.0,147.9 L443.0,143.6 L443.4,144.0 L443.4,147.9 L443.7,147.9 L443.7,144.1 L443.8,144.1 L443.8,147.9" stroke="#0072bd" stroke-width="2.6" fill="none" stroke-linejoin="round" stroke-linecap="butt"/><path clip-path="url(#c)" d="M101.3,97.3V120.1M118.4,83.2V100.1M140.9,80.3V100.3M151.6,89.5V114.6M183.3,77.0V106.3M192.3,96.2V114.0M196.4,96.4V112.8M210.5,80.2V111.8M228.0,76.5V107.5M267.8,93.7V112.8M272.1,94.5V109.7M292.6,112.8V120.4M316.1,116.1V120.4M346.4,115.2V120.4M357.0,113.3V120.4M399.9,107.2V117.3M97.3,191.0V172.4M108.9,196.8V183.4M125.1,212.3V190.7M132.2,210.8V184.1M166.4,190.5V172.4M177.8,212.8V193.8M192.5,195.0V179.1M196.6,186.0V172.4M204.3,226.6V193.6M212.1,206.0V177.5M223.4,213.9V183.4M226.8,201.8V174.9M249.3,198.0V174.5M253.9,194.9V179.0M264.1,192.9V180.4M283.4,189.3V173.3M295.2,179.7V172.4M308.5,183.2V172.4M328.2,189.0V172.4M342.6,188.0V172.4M349.9,186.8V176.8M365.3,197.2V181.9" stroke="#fff" stroke-width="0.9" fill="none" stroke-linecap="round"/><path clip-path="url(#c)" d="M444.0,150.8 L444.1,152.1 L444.2,153.4 L444.3,154.8 L444.4,156.6 L444.5,158.4 L444.6,160.2 L444.7,162.0 L444.8,163.8 L444.9,165.6 L445.0,167.4 L445.1,169.2 L445.2,170.8 L445.3,172.1 L445.4,173.1 L445.4,174.6 L445.5,172.2 L445.6,171.1 L445.7,169.7 L445.8,168.1 L445.9,166.5 L446.0,164.8 L446.1,163.2 L446.2,161.6 L446.3,159.9 L446.4,158.3 L446.5,156.7 L446.6,155.1 L446.7,153.4 L446.8,151.8 L446.9,150.2 L447.0,148.5 L447.1,146.9 L447.2,145.3 L447.3,143.7 L447.4,142.0 L447.5,140.4 L447.6,138.8 L447.7,137.1 L447.8,135.5 L447.9,133.9 L448.0,132.3 L448.1,130.6 L448.2,129.0 L448.3,127.4 L448.4,125.7 L448.5,124.1 L448.6,122.5 L448.7,120.9 L448.8,119.2 L448.9,117.6 L449.0,116.0 L449.1,114.4 L449.2,113.2 L449.3,112.2 L449.4,110.0 L449.4,112.1 L449.5,113.5 L449.6,115.1 L449.7,117.1 L449.8,119.2 L449.9,121.3 L450.0,123.4 L450.1,125.5 L450.2,127.6 L450.3,129.7 L450.4,131.8 L450.5,133.9 L450.6,136.0 L450.7,138.2 L450.8,140.3 L450.9,142.4 L451.0,144.5 L451.1,146.7 L451.2,148.9 L451.3,151.4 L451.4,153.8 L451.5,156.3 L451.6,158.8 L451.7,161.3 L451.8,163.8 L451.9,166.4 L452.0,168.9 L452.1,171.3 L452.2,173.7 L452.3,176.1 L452.4,178.0 L452.5,179.9 L452.6,181.7 L452.7,183.5 L452.8,185.3 L452.9,187.1 L453.0,188.9 L453.1,190.6 L453.2,192.4 L453.3,194.2 L453.4,196.0 L453.5,197.8 L453.6,199.3 L453.7,200.6 L453.8,201.6 L453.8,203.1 L453.9,200.6 L454.0,199.3 L454.1,197.8 L454.2,196.0 L454.3,194.2 L454.4,192.4 L454.5,190.6 L454.6,188.9 L454.7,187.1 L454.8,185.3 L454.9,183.5 L455.0,181.7 L455.1,179.9 L455.2,177.9 L455.3,175.8 L455.4,173.0 L455.5,170.0 L455.6,167.0 L455.7,163.9 L455.8,160.7 L455.9,157.6 L456.0,154.5 L456.1,151.3 L456.2,148.2 L456.3,145.0 L456.4,141.8 L456.5,138.6 L456.6,135.4 L456.7,132.3 L456.8,129.1 L456.9,125.9 L457.0,122.7 L457.1,119.5 L457.2,116.3 L457.3,113.2 L457.4,110.0 L457.5,106.8 L457.6,103.6 L457.7,100.4 L457.8,97.2 L457.9,94.1 L458.0,91.0 L458.1,88.4 L458.2,86.2 L458.3,82.0 L458.3,85.3 L458.4,87.3 L458.5,89.8 L458.6,92.7 L458.7,96.0 L458.8,99.3 L458.9,102.6 L459.0,105.8 L459.1,108.8 L459.2,111.5 L459.3,113.6 L459.4,114.0 L459.5,114.1 L459.6,114.0 L459.7,113.6 L459.8,113.3 L459.9,113.2 L460.0,114.4 L460.1,116.7 L460.2,121.1 L460.3,132.1 L460.4,143.3 L460.5,147.5 L460.6,151.7 L460.7,154.9 L460.8,157.0 L460.9,159.2 L461.0,161.3 L461.1,163.5 L461.2,165.6 L461.3,167.8 L461.4,169.9 L461.5,172.2 L461.6,174.5 L461.7,176.9 L461.8,180.0 L461.9,183.2 L462.0,186.5 L462.1,189.8 L462.2,193.2 L462.3,196.6 L462.4,199.9 L462.5,203.3 L462.6,206.6 L462.7,210.0 L462.8,213.4 L462.9,216.7 L463.0,219.6 L463.1,222.0 L463.2,223.9 L463.2,226.8 L463.3,222.0 L463.4,219.6 L463.5,216.7 L463.6,213.4 L463.7,210.0 L463.8,206.6 L463.9,203.3 L464.0,199.9 L464.1,196.6 L464.2,193.2 L464.3,189.8 L464.4,186.5 L464.5,183.1 L464.6,179.7 L464.7,176.4 L464.8,173.0 L464.9,169.6 L465.0,166.2 L465.1,162.8 L465.2,159.3 L465.3,155.9 L465.4,152.6 L465.5,149.2 L465.6,146.0 L465.7,142.9 L465.8,139.7 L465.9,136.6 L466.0,133.5 L466.1,130.4 L466.2,127.3 L466.3,124.2 L466.4,121.1 L466.5,118.0 L466.6,114.9 L466.7,111.8 L466.8,108.7 L466.9,105.6 L467.0,102.5 L467.1,99.4 L467.2,96.6 L467.3,94.2 L467.4,92.3 L467.4,89.0 L467.5,93.0 L467.6,95.2 L467.7,97.9 L467.8,101.0 L467.9,104.3 L468.0,107.6 L468.1,110.9 L468.2,114.0 L468.3,116.9 L468.4,119.5 L468.5,120.7 L468.6,121.0 L468.7,121.0 L468.8,120.8 L468.9,120.4 L469.0,120.1 L469.1,120.0 L469.2,120.2 L469.3,120.7 L469.4,123.1 L469.5,126.6 L469.6,130.5 L469.7,134.7 L469.8,138.9 L469.9,142.8 L470.0,146.6 L470.1,149.2 L470.2,151.4 L470.3,153.4 L470.4,155.2 L470.5,156.9 L470.6,158.7 L470.7,160.5 L470.8,162.2 L470.9,164.0 L471.0,165.8 L471.1,167.6 L471.2,169.3 L471.3,171.1 L471.4,173.0 L471.5,175.0 L471.6,177.1 L471.7,180.2 L471.8,183.4 L471.9,186.7 L472.0,190.1 L472.1,193.5 L472.2,197.0 L472.3,200.4 L472.4,203.8 L472.5,207.2 L472.6,210.7 L472.7,214.1 L472.8,217.5 L472.9,220.5 L473.0,222.9 L473.1,224.9 L473.1,227.8 L473.2,222.9 L473.3,220.5 L473.4,217.5 L473.5,214.1 L473.6,210.7 L473.7,207.2 L473.8,203.8 L473.9,200.4 L474.0,197.0 L474.1,193.5 L474.2,190.1 L474.3,186.7 L474.4,183.3 L474.5,179.8 L474.6,176.4 L474.7,173.0 L474.8,169.6 L474.9,166.2 L475.0,162.8 L475.1,159.3 L475.2,155.9 L475.3,152.5 L475.4,149.1 L475.5,145.6 L475.6,142.2 L475.7,138.7 L475.8,135.3 L475.9,131.8 L476.0,128.3 L476.1,124.9 L476.2,121.4 L476.3,118.0 L476.4,114.5 L476.5,111.0 L476.6,107.6 L476.7,104.1 L476.8,100.6 L476.9,97.2 L477.0,93.7 L477.1,90.5 L477.2,87.9 L477.3,85.7 L477.3,82.0 L477.4,86.1 L477.5,88.3 L477.6,90.9 L477.7,94.0 L477.8,97.3 L477.9,100.6 L478.0,103.9 L478.1,107.1 L478.2,109.9 L478.3,112.6 L478.4,113.8 L478.5,114.0 L478.6,114.1 L478.7,113.8 L478.8,113.5 L478.9,113.2 L479.0,113.3 L479.1,114.1 L479.2,115.7 L479.3,121.2 L479.4,128.8 L479.5,136.5 L479.6,144.4 L479.7,148.5 L479.8,151.6 L479.9,154.2 L480.0,156.3 L480.1,158.3 L480.2,160.3 L480.3,162.3 L480.4,164.3 L480.5,166.3 L480.6,168.4 L480.7,170.4 L480.8,172.5 L480.9,174.7 L481.0,177.0 L481.1,180.2 L481.2,183.5 L481.3,186.9 L481.4,190.4 L481.5,193.9 L481.6,197.4 L481.7,200.9 L481.8,204.3 L481.9,207.8 L482.0,211.3 L482.1,214.8 L482.2,218.3 L482.3,221.3 L482.4,223.8 L482.5,225.8 L482.5,228.8 L482.6,223.8 L482.7,221.3 L482.8,218.3 L482.9,214.8 L483.0,211.3 L483.1,207.8 L483.2,204.3 L483.3,200.9 L483.4,197.4 L483.5,193.9 L483.6,190.4 L483.7,186.9 L483.8,183.4 L483.9,180.0 L484.0,176.6 L484.1,173.4 L484.2,170.2 L484.3,167.0 L484.4,163.9 L484.5,160.8 L484.6,157.7 L484.7,154.6 L484.8,151.5 L484.9,148.5 L485.0,145.6 L485.1,142.8 L485.2,139.9 L485.3,137.1 L485.4,134.4 L485.5,131.6 L485.6,128.8 L485.7,126.0 L485.8,123.2 L485.9,120.4 L486.0,117.6 L486.1,114.8 L486.2,112.0 L486.3,109.2 L486.4,106.4 L486.5,103.6 L486.6,100.9 L486.7,98.1 L486.8,95.8 L486.9,93.9 L487.0,90.0 L487.0,92.8 L487.1,94.8 L487.2,97.3 L487.3,100.2 L487.4,103.5 L487.5,106.8 L487.6,110.1 L487.7,113.4 L487.8,116.4 L487.9,119.1 L488.0,121.4 L488.1,121.9 L488.2,122.0 L488.3,121.9 L488.4,121.6 L488.5,121.3 L488.6,121.0 L488.7,120.9 L488.8,121.0 L488.9,121.6 L489.0,123.8 L489.1,126.3 L489.2,129.0 L489.3,131.9 L489.4,134.8 L489.5,137.7 L489.6,140.6 L489.7,143.4 L489.8,146.1 L489.9,148.4 L490.0,150.3 L490.1,152.0 L490.2,153.7 L490.3,155.3 L490.4,156.8 L490.5,158.4 L490.6,160.0 L490.7,161.6 L490.8,163.2 L490.9,164.8 L491.0,166.4 L491.1,168.0 L491.2,169.5 L491.3,171.1 L491.4,172.9 L491.5,174.9 L491.6,177.1 L491.7,180.8 L491.8,185.3 L491.9,190.0 L492.0,194.9 L492.1,199.9 L492.2,205.0 L492.3,210.0 L492.4,215.0 L492.5,220.0 L492.6,225.1 L492.7,229.6 L492.8,233.4 L492.9,236.5 L492.9,241.7 L493.0,235.4 L493.1,232.0 L493.2,227.9 L493.3,223.1 L493.4,218.1 L493.5,213.1 L493.6,208.0 L493.7,203.0 L493.8,198.0 L493.9,193.0 L494.0,188.0 L494.1,182.9 L494.2,178.0 L494.3,173.0 L494.4,168.1 L494.5,163.3 L494.6,158.4 L494.7,153.5 L494.8,148.6 L494.9,143.6 L495.0,138.6 L495.1,133.6 L495.2,128.5 L495.3,123.5 L495.4,118.5 L495.5,113.4 L495.6,108.4 L495.7,103.4 L495.8,98.3 L495.9,93.6 L496.0,89.5 L496.1,86.0 L496.1,80.8 L496.2,85.2 L496.3,87.0 L496.4,89.4 L496.5,92.4 L496.6,95.7 L496.7,99.0 L496.8,102.3 L496.9,105.5 L497.0,108.4 L497.1,111.0 L497.2,112.5 L497.3,112.8 L497.4,112.8 L497.5,112.6 L497.6,112.3 L497.7,112.0 L497.8,111.7 L497.9,111.7 L498.0,111.9 L498.1,113.1 L498.2,115.2 L498.3,117.5 L498.4,120.0 L498.5,122.6 L498.6,125.3 L498.7,127.9 L498.8,130.5 L498.9,133.1 L499.0,135.8 L499.1,138.4 L499.2,141.0 L499.3,143.5 L499.4,145.9 L499.5,148.2 L499.6,149.8 L499.7,151.3 L499.8,152.8 L499.9,154.1 L500.0,155.5 L500.1,156.9 L500.2,158.2 L500.3,159.6 L500.4,161.0 L500.5,162.4 L500.6,163.7 L500.7,165.1 L500.8,166.5 L500.9,167.8 L501.0,169.2 L501.1,170.6 L501.2,171.9 L501.3,173.5 L501.4,175.3 L501.5,177.4 L501.6,181.1 L501.7,185.5 L501.8,190.1 L501.9,195.0 L502.0,200.0 L502.1,204.9 L502.2,209.9 L502.3,214.8 L502.4,219.8 L502.5,224.7 L502.6,229.2 L502.7,233.0 L502.8,236.0 L502.8,241.2 L502.9,235.0 L503.0,231.7 L503.1,227.7 L503.2,222.9 L503.3,218.0 L503.4,213.0 L503.5,208.1 L503.6,203.1 L503.7,198.1 L503.8,193.2 L503.9,188.3 L504.0,183.4 L504.1,178.5 L504.2,173.9 L504.3,169.5 L504.4,165.1 L504.5,160.8 L504.6,156.4 L504.7,152.1 L504.8,147.8 L504.9,143.4 L505.0,139.0 L505.1,134.6 L505.2,130.2 L505.3,125.8 L505.4,121.4 L505.5,117.0 L505.6,112.7 L505.7,108.3 L505.8,103.9 L505.9,99.5 L506.0,95.1 L506.1,91.3 L506.2,88.0 L506.3,82.0 L506.3,85.4 L506.4,87.1 L506.5,89.3 L506.6,92.0 L506.7,95.3 L506.8,98.6 L506.9,101.9 L507.0,105.2 L507.1,108.3 L507.2,111.0 L507.3,113.5 L507.4,113.9 L507.5,114.1 L507.6,114.0 L507.7,113.7 L507.8,113.4 L507.9,113.0 L508.0,112.9 L508.1,113.0 L508.2,113.3 L508.3,115.3 L508.4,117.4 L508.5,119.7 L508.6,122.3 L508.7,124.8 L508.8,127.4 L508.9,129.9 L509.0,132.4 L509.1,135.0 L509.2,137.5 L509.3,140.1 L509.4,142.6 L509.5,145.0 L509.6,147.3 L509.7,149.1 L509.8,150.6 L509.9,152.1 L510.0,153.5 L510.1,154.9 L510.2,156.3 L510.3,157.6 L510.4,159.0 L510.5,160.4 L510.6,161.7 L510.7,163.1 L510.8,164.5 L510.9,165.9 L511.0,167.2 L511.1,168.6 L511.2,170.0 L511.3,171.3 L511.4,172.8 L511.5,174.8 L511.6,177.2 L511.7,181.0 L511.8,187.3 L511.9,194.1 L512.0,201.3 L512.1,208.9 L512.2,216.4 L512.3,223.9 L512.4,231.5 L512.5,238.3 L512.6,244.0 L512.7,248.7 L512.7,256.5 L512.8,247.2 L512.9,242.1 L513.0,236.0 L513.1,228.9 L513.2,221.3 L513.3,213.8 L513.4,206.3 L513.5,198.7 L513.6,191.4 L513.7,184.4 L513.8,177.6 L513.9,172.6 L514.0,167.8 L514.1,163.2 L514.2,158.9 L514.3,154.6 L514.4,150.3 L514.5,146.0 L514.6,141.7 L514.7,137.4 L514.8,133.1 L514.9,128.8 L515.0,124.5 L515.1,120.2 L515.2,115.9 L515.3,111.7 L515.4,107.4 L515.5,103.1 L515.6,98.8 L515.7,94.7 L515.8,91.0 L515.9,87.7 L516.0,83.8 L516.0,86.2 L516.1,86.5 L516.2,87.1 L516.3,88.2 L516.4,89.4 L516.5,90.7 L516.6,91.9 L516.7,93.2 L516.8,94.5 L516.9,95.7 L517.0,97.0 L517.1,98.2 L517.2,99.5 L517.3,100.8 L517.4,102.0 L517.5,103.3 L517.6,104.5 L517.7,105.8 L517.8,107.0 L517.9,108.3 L518.0,109.3 L518.1,110.3 L518.2,111.8 L518.2,110.8 L518.3,110.3 L518.4,109.7 L518.5,109.0 L518.6,108.1 L518.7,107.2 L518.8,106.3 L518.9,105.5 L519.0,104.6 L519.1,103.7 L519.2,102.8 L519.3,102.0 L519.4,101.1 L519.5,100.2 L519.6,99.3 L519.7,98.4 L519.8,97.6 L519.9,96.9 L520.0,96.9 L520.1,97.4 L520.2,94.4 L520.2,100.2 L520.3,105.9 L520.4,112.3 L520.5,119.2 L520.6,126.4 L520.7,133.7 L520.8,141.0 L520.9,148.2 L521.0,155.5 L521.1,163.1 L521.2,170.9 L521.3,179.3 L521.4,189.6 L521.5,200.3 L521.6,211.2 L521.7,222.4 L521.8,233.5 L521.9,243.7 L522.0,252.3 L522.1,259.3 L522.1,271.4 L522.2,257.9 L522.3,250.5 L522.4,241.6 L522.5,231.0 L522.6,219.8 L522.7,208.7 L522.8,198.1 L522.9,188.1 L523.0,179.0 L523.1,173.8 L523.2,169.0 L523.3,164.9 L523.4,161.2 L523.5,157.5 L523.6,153.8 L523.7,150.1 L523.8,146.4 L523.9,142.7 L524.0,139.0 L524.1,135.3 L524.2,131.5 L524.3,127.8 L524.4,124.1 L524.5,120.4 L524.6,116.7 L524.7,113.0 L524.8,109.3 L524.9,105.6 L525.0,101.9 L525.1,98.2 L525.2,94.5 L525.3,90.8 L525.4,87.4 L525.5,84.4 L525.6,81.7 L525.6,79.6 L525.7,81.7 L525.8,82.1 L525.9,82.8 L526.0,83.9 L526.1,85.0 L526.2,86.1 L526.3,87.1 L526.4,88.2 L526.5,89.3 L526.6,90.4 L526.7,91.5 L526.8,92.6 L526.9,93.7 L527.0,94.8 L527.1,95.8 L527.2,96.9 L527.3,98.0 L527.4,99.1 L527.5,100.2 L527.6,101.2 L527.7,102.0 L527.8,102.6 L527.8,103.8 L527.9,102.2 L528.0,101.3 L528.1,100.1 L528.2,98.9 L528.3,97.5 L528.4,96.2 L528.5,94.8 L528.6,93.5 L528.7,92.1 L528.8,90.8 L528.9,89.4 L529.0,88.1 L529.1,86.8 L529.2,85.4 L529.3,84.1 L529.4,82.7 L529.5,81.4 L529.6,80.0 L529.7,78.7 L529.8,77.6 L529.9,77.0 L530.0,77.0 L530.1,73.9 L530.1,79.0 L530.2,83.9 L530.3,89.4 L530.4,95.4 L530.5,101.7 L530.6,108.0 L530.7,114.3 L530.8,120.6 L530.9,126.9 L531.0,133.2 L531.1,139.5 L531.2,145.8 L531.3,152.1 L531.4,158.5 L531.5,165.6 L531.6,173.2 L531.7,182.1 L531.8,195.3 L531.9,209.1 L532.0,223.6 L532.1,238.5 L532.2,253.5 L532.3,267.1 L532.4,278.5 L532.5,287.8 L532.5,303.6 L532.6,285.1 L532.7,275.2 L532.8,263.1 L532.9,248.9 L533.0,233.9 L533.1,219.1 L533.2,205.0 L533.3,191.6 L533.4,179.7 L533.5,172.9 L533.6,166.8 L533.7,161.4 L533.8,156.7 L533.9,152.0 L534.0,147.2 L534.1,142.5 L534.2,137.7 L534.3,133.0 L534.4,128.3 L534.5,123.5 L534.6,118.8 L534.7,114.0 L534.8,109.3 L534.9,104.5 L535.0,99.8 L535.1,95.1 L535.2,90.3 L535.3,86.2 L535.4,82.6 L535.5,79.7 L535.5,75.9 L535.6,81.4 L535.7,84.0 L535.8,87.2 L535.9,90.9 L536.0,94.8 L536.1,98.6 L536.2,102.4 L536.3,106.2 L536.4,110.1 L536.5,113.9 L536.6,117.7 L536.7,121.5 L536.8,125.3 L536.9,129.2 L537.0,133.0 L537.1,136.8 L537.2,140.6 L537.3,144.4 L537.4,148.3 L537.5,151.7 L537.6,154.6 L537.7,156.8 L537.7,161.0 L537.8,155.9 L537.9,153.0 L538.0,149.5 L538.1,145.5 L538.2,141.3 L538.3,137.0 L538.4,132.8 L538.5,128.6 L538.6,124.4 L538.7,120.2 L538.8,115.9 L538.9,111.7 L539.0,107.5 L539.1,103.3 L539.2,99.1 L539.3,94.9 L539.4,90.6 L539.5,86.4 L539.6,82.2 L539.7,78.0 L539.8,73.8 L539.9,69.5 L540.0,66.0 L540.1,63.3 L540.2,61.3 L540.2,56.5 L540.3,64.9 L540.4,69.7 L540.5,75.3 L540.6,81.6 L540.7,88.0 L540.8,94.4 L540.9,100.8 L541.0,107.2 L541.1,113.6 L541.2,120.0 L541.3,126.4 L541.4,132.8 L541.5,139.2 L541.6,145.6 L541.7,152.0 L541.8,158.6 L541.9,165.9 L542.0,174.0 L542.1,183.8 L542.2,198.8 L542.3,214.5 L542.4,231.0 L542.5,248.0 L542.6,265.1 L542.7,280.5 L542.8,293.5 L542.9,304.0 L542.9,321.6 L543.0,300.2 L543.1,288.8 L543.2,274.9 L543.3,258.5 L543.4,241.4 L543.5,224.5 L543.6,208.3 L543.7,192.9 L543.8,179.3 L543.9,170.8 L544.0,163.0 L544.1,156.1 L544.2,149.7 L544.3,143.3 L544.4,137.0 L544.5,130.6 L544.6,124.2 L544.7,117.8 L544.8,111.5 L544.9,105.1 L545.0,98.7 L545.1,92.4 L545.2,86.7 L545.3,81.8 L545.4,77.7 L545.4,72.9 L545.5,79.3 L545.6,82.1 L545.7,85.5 L545.8,89.8 L545.9,94.1 L546.0,98.4 L546.1,102.6 L546.2,106.9 L546.3,111.2 L546.4,115.5 L546.5,119.8 L546.6,124.1 L546.7,128.4 L546.8,132.7 L546.9,136.9 L547.0,141.2 L547.1,145.5 L547.2,149.8 L547.3,154.1 L547.4,158.0 L547.5,161.2 L547.6,163.8 L547.6,168.4 L547.7,162.8 L547.8,159.8 L547.9,156.0 L548.0,151.7 L548.1,147.1 L548.2,142.6 L548.3,138.0 L548.4,133.5 L548.5,128.9 L548.6,124.3 L548.7,119.8 L548.8,115.2 L548.9,110.7 L549.0,106.1 L549.1,101.6 L549.2,97.0 L549.3,92.4 L549.4,87.9 L549.5,83.3 L549.6,78.8 L549.7,74.2 L549.8,69.6 L549.9,65.7 L550.0,62.4 L550.1,59.7 L550.1,55.6 L550.2,61.9 L550.3,65.2 L550.4,69.1 L550.5,73.6 L550.6,78.2 L550.7,82.9 L550.8,87.5 L550.9,92.1 L551.0,96.7 L551.1,101.4 L551.2,106.0 L551.3,110.6 L551.4,115.2 L551.5,119.8 L551.6,124.5 L551.7,129.1 L551.8,133.7 L551.9,138.3 L552.0,142.9 L552.1,147.6 L552.2,152.2 L552.3,156.8 L552.4,161.4 L552.5,166.7 L552.6,172.9 L552.7,180.1 L552.8,193.0 L552.9,208.3 L553.0,224.5 L553.1,241.7 L553.2,259.1 L553.3,275.8 L553.4,290.1 L553.5,301.8 L553.6,324.1 L553.6,306.6 L553.7,296.1 L553.8,283.0 L553.9,267.5 L554.0,250.1 L554.1,232.7 L554.2,215.8 L554.3,199.3 L554.4,183.5 L554.5,171.0 L554.6,160.0 L554.7,149.5 L554.8,139.5 L554.9,129.7 L555.0,119.9 L555.1,110.1 L555.2,100.3 L555.3,90.9 L555.4,82.6 L555.5,75.3 L555.6,65.5 L555.6,72.4 L555.7,74.4 L555.8,77.5 L555.9,81.6 L556.0,86.3 L556.1,91.0 L556.2,95.6 L556.3,100.3 L556.4,105.0 L556.5,109.7 L556.6,114.4 L556.7,119.0 L556.8,123.7 L556.9,128.4 L557.0,133.1 L557.1,137.7 L557.2,142.4 L557.3,147.1 L557.4,151.8 L557.5,156.3 L557.6,160.2 L557.7,163.4 L557.8,169.6 L557.8,165.2 L557.9,162.4 L558.0,159.0 L558.1,154.9 L558.2,150.3 L558.3,145.6 L558.4,141.0 L558.5,136.3 L558.6,131.7 L558.7,127.1 L558.8,122.4 L558.9,117.8 L559.0,113.1 L559.1,108.5 L559.2,103.9 L559.3,99.2 L559.4,94.6 L559.5,90.0 L559.6,85.3 L559.7,80.7 L559.8,76.0 L559.9,71.4 L560.0,67.0 L560.1,63.3 L560.2,60.2 L560.3,54.8 L560.3,59.6 L560.4,62.2 L560.5,65.5 L560.6,69.4 L560.7,73.6 L560.8,77.9 L560.9,82.1 L561.0,86.4 L561.1,90.6 L561.2,94.8 L561.3,99.1 L561.4,103.3 L561.5,107.6 L561.6,111.8 L561.7,116.1 L561.8,120.3 L561.9,124.6 L562.0,128.8 L562.1,133.1 L562.2,137.3 L562.3,141.6 L562.4,145.8 L562.5,150.1 L562.6,154.3 L562.7,158.5 L562.8,162.8 L562.9,167.7 L563.0,173.5 L563.1,180.1 L563.2,192.3 L563.3,206.5 L563.4,221.5 L563.5,237.4 L563.6,253.5 L563.7,268.9 L563.8,281.9 L563.9,292.7 L564.0,313.0 L564.0,296.5 L564.1,286.6 L564.2,274.4 L564.3,260.0 L564.4,243.9 L564.5,227.9 L564.6,212.3 L564.7,197.5 L564.8,183.4 L564.9,173.9 L565.0,166.0 L565.1,158.9 L565.2,152.4 L565.3,146.1 L565.4,139.8 L565.5,133.5 L565.6,127.2 L565.7,120.9 L565.8,114.6 L565.9,108.3 L566.0,102.0 L566.1,95.7 L566.2,89.8 L566.3,84.6 L566.4,80.2 L566.4,73.9 L566.5,79.4 L566.6,81.8 L566.7,84.9 L566.8,88.7 L566.9,92.9 L567.0,97.1 L567.1,101.3 L567.2,105.5 L567.3,109.7 L567.4,113.8 L567.5,118.0 L567.6,122.2 L567.7,126.4 L567.8,130.6 L567.9,134.8 L568.0,139.0 L568.1,143.2 L568.2,147.3 L568.3,151.5 L568.4,155.6 L568.5,159.0 L568.6,161.8 L568.7,167.2 L568.7,162.8 L568.8,160.1 L568.9,156.8 L569.0,152.9 L569.1,148.5 L569.2,144.1 L569.3,139.7 L569.4,135.4 L569.5,131.0 L569.6,126.6 L569.7,122.2 L569.8,117.9 L569.9,113.5 L570.0,109.1 L570.1,104.7 L570.2,100.3 L570.3,96.0 L570.4,91.6 L570.5,87.2 L570.6,82.8 L570.7,79.0 L570.8,75.8 L570.9,73.2 L570.9,69.7 L571.0,75.1 L571.1,77.7 L571.2,80.8 L571.3,84.5 L571.4,88.3 L571.5,92.0 L571.6,95.7 L571.7,99.5 L571.8,103.2 L571.9,106.9 L572.0,110.6 L572.1,114.4 L572.2,118.1 L572.3,121.8 L572.4,125.6 L572.5,129.3 L572.6,133.0 L572.7,136.7 L572.8,140.5 L572.9,144.2 L573.0,147.9 L573.1,151.6 L573.2,155.4 L573.3,159.1 L573.4,162.8 L573.5,166.9 L573.6,171.7 L573.7,177.4 L573.8,186.0 L573.9,199.0 L574.0,212.9 L574.1,227.7 L574.2,242.9 L574.3,258.2 L574.4,271.5 L574.5,282.7 L574.6,291.7 L574.6,306.0 L574.7,285.4 L574.8,274.9 L574.9,262.1 L575.0,247.1 L575.1,231.9 L575.2,216.8 L575.3,202.3 L575.4,188.4 L575.5,176.3 L575.6,167.3 L575.7,158.8 L575.8,150.8 L575.9,143.2 L576.0,135.6 L576.1,128.0 L576.2,120.4 L576.3,112.8 L576.4,105.2 L576.5,97.6 L576.6,90.5 L576.7,84.1 L576.8,78.6 L576.8,71.6 L576.9,77.0 L577.0,78.6 L577.1,80.9 L577.2,84.0 L577.3,87.5 L577.4,91.0 L577.5,94.4 L577.6,97.9 L577.7,101.3 L577.8,104.8 L577.9,108.3 L578.0,111.7 L578.1,115.2 L578.2,118.6 L578.3,122.1 L578.4,125.6 L578.5,129.0 L578.6,132.5 L578.7,135.9 L578.8,139.4 L578.9,142.8 L579.0,146.3 L579.1,149.4 L579.2,151.9 L579.3,153.9 L579.3,157.3 L579.4,152.6 L579.5,150.1 L579.6,147.2 L579.7,143.8 L579.8,140.3 L579.9,136.7 L580.0,133.2 L580.1,129.7 L580.2,126.2 L580.3,122.6 L580.4,119.1 L580.5,115.6 L580.6,112.1 L580.7,108.6 L580.8,105.0 L580.9,101.5 L581.0,98.0 L581.1,94.5 L581.2,91.0 L581.3,87.7 L581.4,85.0 L581.5,82.7 L581.5,78.8 L581.6,82.9 L581.7,85.1 L581.8,87.8 L581.9,90.9 L582.0,94.3 L582.1,97.8 L582.2,101.2 L582.3,104.6 L582.4,108.0 L582.5,111.4 L582.6,114.8 L582.7,118.2 L582.8,121.6 L582.9,125.0 L583.0,128.4 L583.1,131.8 L583.2,135.2 L583.3,138.7 L583.4,142.1 L583.5,145.5 L583.6,148.9 L583.7,152.3 L583.8,155.7 L583.9,159.1 L584.0,162.5 L584.1,165.9 L584.2,170.0 L584.3,174.7 L584.4,180.0 L584.5,190.5 L584.6,201.9 L584.7,214.1 L584.8,226.9 L584.9,239.8 L585.0,251.8 L585.1,262.1 L585.2,270.5 L585.3,285.7 L585.3,271.6 L585.4,263.4 L585.5,253.5 L585.6,241.7 L585.7,228.8 L585.8,215.9 L585.9,203.5 L586.0,191.6 L586.1,180.2 L586.2,172.4 L586.3,165.3 L586.4,158.7 L586.5,152.6 L586.6,146.5 L586.7,140.5 L586.8,134.4 L586.9,128.3 L587.0,122.3 L587.1,116.2 L587.2,110.1 L587.3,104.1 L587.4,98.0 L587.5,92.5 L587.6,87.7 L587.7,83.6 L587.7,77.8 L587.8,83.9 L587.9,86.8 L588.0,90.3 L588.1,94.7 L588.2,99.3 L588.3,103.8 L588.4,108.4 L588.5,113.0 L588.6,117.6 L588.7,122.2 L588.8,126.8 L588.9,131.3 L589.0,135.9 L589.1,140.5 L589.2,144.9 L589.3,148.7 L589.4,151.9 L589.5,157.3 L589.5,153.0 L589.6,150.8 L589.7,148.0 L589.8,144.7 L589.9,140.9 L590.0,137.2 L590.1,133.4 L590.2,129.6 L590.3,125.9 L590.4,122.1 L590.5,118.3 L590.6,114.6 L590.7,110.8 L590.8,107.1 L590.9,103.3 L591.0,99.5 L591.1,95.8 L591.2,92.3 L591.3,89.2 L591.4,86.5 L591.4,82.8 L591.5,86.0 L591.6,87.4 L591.7,89.2 L591.8,91.4 L591.9,93.8 L592.0,96.3 L592.1,98.7 L592.2,101.1 L592.3,103.5 L592.4,106.0 L592.5,108.4 L592.6,110.8 L592.7,113.3 L592.8,115.7 L592.9,118.1 L593.0,120.6 L593.1,123.0 L593.2,125.4 L593.3,127.8 L593.4,130.3 L593.5,132.7 L593.6,135.1 L593.7,137.6 L593.8,140.0 L593.9,142.4 L594.0,144.8 L594.1,147.3 L594.2,149.7 L594.3,152.1 L594.4,154.6 L594.5,157.0 L594.6,159.4 L594.7,161.9 L594.8,164.3 L594.9,166.7 L595.0,169.2 L595.1,172.2 L595.2,175.9 L595.3,180.3 L595.4,189.7 L595.5,199.7 L595.6,210.3 L595.7,221.6 L595.8,232.9 L595.9,243.3 L596.0,252.1 L596.1,259.3 L596.1,272.1 L596.2,259.2 L596.3,251.9 L596.4,243.0 L596.5,232.5 L596.6,221.3 L596.7,210.0 L596.8,199.2 L596.9,188.7 L597.0,178.8 L597.1,172.0 L597.2,165.7 L597.3,159.7 L597.4,154.2 L597.5,148.7 L597.6,143.1 L597.7,137.6 L597.8,132.1 L597.9,126.5 L598.0,121.0 L598.1,115.5 L598.2,109.9 L598.3,104.4 L598.4,99.4 L598.5,95.2 L598.6,91.6 L598.6,86.5 L598.7,92.6 L598.8,95.5 L598.9,99.1 L599.0,103.5 L599.1,108.0 L599.2,112.5 L599.3,117.0 L599.4,121.5 L599.5,126.0 L599.6,130.6 L599.7,135.1 L599.8,139.6 L599.9,144.1 L600.0,148.6 L600.1,152.9 L600.2,156.5 L600.3,159.6 L600.4,164.7 L600.4,160.3 L600.5,158.0 L600.6,155.2 L600.7,151.7 L600.8,148.0 L600.9,144.2 L601.0,140.4 L601.1,136.6 L601.2,132.9 L601.3,129.1 L601.4,125.3 L601.5,121.5 L601.6,117.8 L601.7,114.0 L601.8,110.2 L601.9,106.4 L602.0,102.7 L602.1,99.2 L602.2,96.1 L602.3,93.5 L602.3,90.0 L602.4,93.1 L602.5,94.4 L602.6,96.0 L602.7,98.1 L602.8,100.4 L602.9,102.6 L603.0,104.8 L603.1,107.1 L603.2,109.3 L603.3,111.6 L603.4,113.8 L603.5,116.1 L603.6,118.3 L603.7,120.5 L603.8,122.8 L603.9,125.0 L604.0,127.3 L604.1,129.5 L604.2,131.8 L604.3,134.0 L604.4,136.3 L604.5,138.5 L604.6,140.7 L604.7,143.0 L604.8,145.2 L604.9,147.5 L605.0,149.7 L605.1,152.0 L605.2,154.2 L605.3,156.4 L605.4,158.7 L605.5,160.9 L605.6,163.2 L605.7,165.4 L605.8,167.7 L605.9,170.0 L606.0,172.9 L606.1,176.5 L606.2,181.2 L606.3,190.6 L606.4,200.7 L606.5,211.4 L606.6,222.6 L606.7,233.9 L606.8,244.2 L606.9,252.8 L607.0,259.9 L607.0,272.1 L607.1,258.6 L607.2,251.2 L607.3,242.2 L607.4,231.5 L607.5,220.3 L607.6,209.1 L607.7,198.4 L607.8,188.3 L607.9,179.1 L608.0,173.9 L608.1,169.2 L608.2,165.0 L608.3,161.3 L608.4,157.7 L608.5,154.0 L608.6,150.3 L608.7,146.7 L608.8,143.0 L608.9,139.3 L609.0,135.7 L609.1,132.0 L609.2,128.3 L609.3,124.7 L609.4,121.0 L609.5,117.3 L609.6,113.7 L609.7,110.0 L609.8,106.9 L609.9,104.3 L610.0,102.4 L610.0,98.6 L610.1,104.7 L610.2,108.1 L610.3,112.0 L610.4,116.6 L610.5,121.2 L610.6,125.8 L610.7,130.4 L610.8,135.0 L610.9,139.6 L611.0,144.2 L611.1,148.8 L611.2,153.4 L611.3,158.0 L611.4,162.6 L611.5,166.8 L611.6,170.3 L611.7,173.1 L611.7,178.3 L611.8,172.6 L611.9,169.3 L612.0,165.3 L612.1,160.6 L612.2,155.7 L612.3,150.8 L612.4,145.8 L612.5,140.9 L612.6,135.9 L612.7,131.0 L612.8,126.1 L612.9,121.1 L613.0,116.2 L613.1,111.2 L613.2,106.4 L613.3,102.1 L613.4,98.3 L613.5,92.7 L613.5,95.9 L613.6,96.7 L613.7,98.1 L613.8,99.9 L613.9,102.1 L614.0,104.3 L614.1,106.6 L614.2,108.8 L614.3,111.0 L614.4,113.2 L614.5,115.4 L614.6,117.7 L614.7,119.9 L614.8,122.1 L614.9,124.3 L615.0,126.6 L615.1,128.8 L615.2,131.0 L615.3,133.2 L615.4,135.4 L615.5,137.7 L615.6,139.9 L615.7,142.1 L615.8,144.3 L615.9,146.5 L616.0,148.8 L616.1,151.0 L616.2,153.2 L616.3,155.4 L616.4,157.7 L616.5,159.9 L616.6,162.1 L616.7,164.3 L616.8,166.5 L616.9,168.8 L617.0,171.3 L617.1,174.3 L617.2,177.8 L617.3,183.9 L617.4,192.1 L617.5,200.8 L617.6,210.0 L617.7,219.5 L617.8,228.9 L617.9,238.0 L618.0,245.4 L618.1,251.1 L618.2,264.7 L618.2,252.6 L618.3,243.2 L618.4,232.1 L618.5,219.3 L618.6,205.1 L618.7,191.0 L618.8,176.9 L618.9,162.8 L619.0,148.7 L619.1,134.6 L619.2,121.7 L619.3,110.4 L619.4,100.6 L619.4,90.0 L619.5,101.2 L619.6,105.0 L619.7,110.3 L619.8,117.1 L619.9,124.2 L620.0,131.3 L620.1,138.3 L620.2,145.4 L620.3,152.5 L620.4,159.3 L620.5,165.7 L620.6,171.7 L620.7,175.5 L620.8,177.7 L620.9,179.6 L621.0,181.0 L621.1,182.3 L621.2,183.6 L621.3,184.9 L621.4,186.2 L621.5,187.4 L621.6,188.7 L621.7,190.0 L621.8,191.3 L621.9,192.5 L622.0,193.4 L622.1,194.2 L622.1,195.6 L622.2,194.1 L622.3,193.2 L622.4,192.2 L622.5,191.0 L622.6,189.7 L622.7,188.4 L622.8,187.2 L622.9,185.9 L623.0,184.6 L623.1,183.3 L623.2,182.0 L623.3,180.7 L623.4,179.3 L623.5,177.7 L623.6,175.8 L623.7,172.7 L623.8,168.8 L623.9,164.7 L624.0,160.3 L624.1,155.8 L624.2,151.4 L624.3,146.9 L624.4,142.5 L624.5,138.0 L624.6,133.6 L624.7,129.1 L624.8,124.7 L624.9,120.2 L625.0,115.7 L625.1,111.5 L625.2,107.7 L625.3,104.5 L625.4,99.9 L625.4,103.2 L625.5,104.3 L625.6,105.9 L625.7,108.0 L625.8,110.4 L625.9,112.8 L626.0,115.2 L626.1,117.6 L626.2,119.9 L626.3,122.3 L626.4,124.7 L626.5,127.1 L626.6,129.5 L626.7,131.8 L626.8,134.2 L626.9,136.6 L627.0,139.0 L627.1,141.4 L627.2,143.8 L627.3,146.1 L627.4,148.5 L627.5,150.9 L627.6,153.3 L627.7,155.7 L627.8,158.0 L627.9,160.4 L628.0,162.8 L628.1,165.2 L628.2,167.6 L628.3,170.1 L628.4,173.0 L628.5,176.4 L628.6,181.1 L628.7,188.4 L628.8,196.2 L628.9,204.4 L629.0,212.9 L629.1,221.4 L629.2,229.9 L629.3,237.8 L629.4,243.6 L629.5,247.6 L629.6,261.0 L629.6,244.6 L629.7,231.0 L629.8,215.4 L629.9,197.8 L630.0,179.0 L630.1,160.2 L630.2,141.3 L630.3,123.3 L630.4,107.2 L630.5,92.9 L630.6,74.6 L630.6,86.3 L630.7,88.5 L630.8,92.6 L630.9,98.5 L631.0,105.5 L631.1,112.4 L631.2,119.3 L631.3,126.2 L631.4,133.2 L631.5,140.1 L631.6,147.0 L631.7,153.9 L631.8,160.6 L631.9,166.8 L632.0,172.8 L632.1,176.4 L632.2,179.0 L632.3,181.2 L632.4,183.1 L632.5,184.8 L632.6,186.6 L632.7,188.4 L632.8,190.2 L632.9,192.0 L633.0,193.7 L633.1,195.5 L633.2,197.3 L633.3,198.9 L633.4,200.2 L633.5,201.3 L633.5,203.1 L633.6,200.8 L633.7,199.6 L633.8,198.1 L633.9,196.4 L634.0,194.6 L634.1,192.8 L634.2,191.1 L634.3,189.3 L634.4,187.5 L634.5,185.7 L634.6,183.9 L634.7,182.2 L634.8,180.0 L634.9,177.4 L635.0,174.2 L635.1,167.9 L635.2,160.3 L635.3,152.1 L635.4,143.4 L635.5,134.6 L635.6,125.9 L635.7,117.1 L635.8,109.1 L635.9,101.9 L636.0,90.7 L636.0,95.6 L636.1,95.8 L636.2,96.8 L636.3,98.6 L636.4,101.3 L636.5,103.9 L636.6,106.6 L636.7,109.2 L636.8,111.9 L636.9,114.5 L637.0,117.1 L637.1,119.8 L637.2,122.4 L637.3,125.1 L637.4,127.7 L637.5,130.4 L637.6,133.0 L637.7,135.6 L637.8,138.3 L637.9,140.9 L638.0,143.6 L638.1,146.2 L638.2,148.9 L638.3,151.5 L638.4,154.2 L638.5,156.8 L638.6,159.4 L638.7,162.1 L638.8,164.7 L638.9,167.4 L639.0,170.3 L639.1,173.6 L639.2,177.4 L639.3,183.5 L639.4,191.4 L639.5,199.7 L639.6,208.4 L639.7,217.3 L639.8,226.2 L639.9,235.2 L640.0,242.5 L640.1,248.1 L640.2,251.9 L640.2,262.7 L640.3,242.9 L640.4,231.1 L640.5,217.6 L640.6,202.3 L640.7,186.9 L640.8,171.5 L640.9,156.1 L641.0,140.7 L641.1,125.3 L641.2,111.0 L641.3,98.4 L641.4,87.8 L641.4,72.1 L641.5,86.1 L641.6,92.2 L641.7,100.2 L641.8,110.0 L641.9,120.7 L642.0,131.4 L642.1,142.1 L642.2,152.3 L642.3,162.0 L642.4,171.0 L642.5,176.3 L642.6,180.1 L642.7,183.3 L642.8,186.0 L642.9,188.5 L643.0,191.0 L643.1,193.5 L643.2,196.0 L643.3,198.6 L643.4,201.1 L643.5,203.6 L643.6,206.1 L643.7,208.3 L643.8,210.2 L643.9,211.7 L643.9,214.2 L644.0,210.9 L644.1,209.2 L644.2,207.1 L644.3,204.6 L644.4,202.1 L644.5,199.6 L644.6,197.1 L644.7,194.6 L644.8,192.0 L644.9,189.5 L645.0,187.0 L645.1,184.5 L645.2,181.8 L645.3,178.8 L645.4,175.6 L645.5,170.7 L645.6,165.3 L645.7,159.6 L645.8,153.7 L645.9,147.7 L646.0,141.7 L646.1,135.7 L646.2,129.7 L646.3,123.7 L646.4,117.7 L646.5,111.7 L646.6,105.7 L646.7,99.7 L646.8,93.7 L646.9,88.1 L647.0,83.1 L647.1,78.8 L647.1,73.4 L647.2,77.9 L647.3,79.4 L647.4,81.6 L647.5,84.3 L647.6,87.4 L647.7,90.4 L647.8,93.4 L647.9,96.5 L648.0,99.5 L648.1,102.5 L648.2,105.5 L648.3,108.6 L648.4,111.6 L648.5,114.6 L648.6,117.7 L648.7,120.7 L648.8,123.7 L648.9,126.8 L649.0,129.8 L649.1,132.8 L649.2,135.9 L649.3,138.9 L649.4,141.9 L649.5,145.0 L649.6,148.0 L649.7,151.0 L649.8,154.0 L649.9,157.1 L650.0,160.1 L650.1,163.1 L650.2,166.2 L650.3,169.4 L650.4,173.0 L650.5,176.9 L650.6,182.5 L650.7,189.4 L650.8,196.5 L650.9,204.0 L651.0,211.7 L651.1,219.3 L651.2,226.9 L651.3,234.5 L651.4,240.4 L651.5,244.8 L651.6,257.0 L651.6,247.0 L651.7,237.2 L651.8,225.8 L651.9,212.9 L652.0,198.5 L652.1,184.1 L652.2,169.7 L652.3,155.4 L652.4,141.0 L652.5,126.6 L652.6,113.4 L652.7,101.9 L652.8,92.2 L652.8,78.8 L652.9,92.5 L653.0,98.5 L653.1,106.2 L653.2,115.7 L653.3,125.7 L653.4,135.7 L653.5,145.7 L653.6,155.2 L653.7,164.1 L653.8,172.5 L653.9,176.6 L654.0,180.0 L654.1,182.8 L654.2,185.0 L654.3,187.2 L654.4,189.4 L654.5,191.6 L654.6,193.8 L654.7,196.0 L654.8,198.1 L654.9,200.3 L655.0,202.5 L655.1,204.4 L655.2,206.0 L655.3,207.3 L655.3,209.2 L655.4,206.2 L655.5,204.7 L655.6,202.8 L655.7,200.6 L655.8,198.4 L655.9,196.3 L656.0,194.1 L656.1,191.9 L656.2,189.7 L656.3,187.5 L656.4,185.3 L656.5,183.1 L656.6,179.5 L656.7,174.3 L656.8,167.6 L656.9,149.3 L657.0,129.0 L657.1,108.9 L657.2,89.1 L657.3,62.2 L657.3,72.6 L657.4,68.8 L657.5,66.9 L657.6,66.9 L657.7,68.3 L657.8,69.8 L657.9,71.3 L658.0,72.7 L658.1,74.2 L658.2,75.7 L658.3,77.2 L658.4,78.6 L658.5,80.1 L658.6,81.6 L658.7,83.1 L658.8,84.5 L658.9,86.0 L659.0,87.3 L659.1,88.5 L659.2,89.4 L659.3,89.4 L659.4,89.2 L659.5,88.9 L659.6,88.5 L659.7,88.6 L659.8,89.1 L659.9,90.4 L660.0,94.9 L660.1,99.7 L660.2,105.1 L660.3,110.8 L660.4,116.5 L660.5,122.1 L660.6,127.8 L660.7,133.5 L660.8,139.2 L660.9,144.9 L661.0,150.6 L661.1,156.3 L661.2,162.0 L661.3,167.6 L661.4,173.3 L661.5,178.7 L661.6,184.0 L661.7,189.2 L661.8,194.4 L661.9,199.6 L662.0,204.8 L662.1,210.0 L662.2,215.2 L662.3,220.4 L662.4,225.6 L662.5,230.3 L662.6,234.2 L662.7,237.4 L662.7,242.9 L662.8,236.4 L662.9,232.9 L663.0,228.7 L663.1,223.8 L663.2,218.6 L663.3,213.4 L663.4,208.2 L663.5,203.0 L663.6,197.8 L663.7,192.6 L663.8,186.6 L663.9,179.5 L664.0,171.5 L664.1,156.3 L664.2,140.0 L664.3,124.9 L664.4,111.0 L664.5,89.5 L664.5,104.6 L664.6,110.7 L664.7,119.0 L664.8,129.4 L664.9,141.3 L665.0,152.5 L665.1,162.9 L665.2,172.2 L665.3,175.8 L665.4,178.7 L665.5,180.8 L665.6,182.3 L665.7,183.7 L665.8,185.2 L665.9,186.6 L666.0,188.1 L666.1,189.5 L666.2,191.0 L666.3,192.4 L666.4,193.9 L666.5,195.1 L666.6,196.1 L666.7,198.1 L666.7,196.8 L666.8,196.0 L666.9,194.9 L667.0,193.7 L667.1,192.2 L667.2,190.8 L667.3,189.3 L667.4,187.9 L667.5,186.4 L667.6,185.0 L667.7,183.5 L667.8,182.1 L667.9,180.4 L668.0,175.3 L668.1,166.8 L668.2,156.0 L668.3,123.2 L668.4,90.6 L668.4,62.2 L668.5,77.0 L668.6,70.3 L668.7,67.2 L668.8,67.8 L668.9,69.2 L669.0,70.7 L669.1,72.2 L669.2,73.6 L669.3,75.1 L669.4,76.6 L669.5,78.1 L669.6,79.5 L669.7,81.0 L669.8,82.5 L669.9,84.0 L670.0,85.4 L670.1,86.8 L670.2,88.0 L670.3,89.1 L670.4,89.4 L670.5,89.3 L670.6,89.0 L670.7,88.6 L670.8,88.5 L670.9,88.7 L671.0,89.4 L671.1,92.4 L671.2,96.5 L671.3,101.0 L671.4,105.9 L671.5,110.9 L671.6,115.9 L671.7,120.8 L671.8,125.8 L671.9,130.8 L672.0,135.8 L672.1,140.8 L672.2,145.8 L672.3,150.7 L672.4,155.7 L672.5,160.7 L672.6,165.9 L672.7,171.2 L672.8,176.7 L672.9,183.6 L673.0,190.8 L673.1,198.2 L673.2,205.8 L673.3,213.4 L673.4,221.0 L673.5,228.7 L673.6,236.0 L673.7,242.2 L673.8,247.3 L673.9,257.0 L673.9,249.2 L674.0,244.5 L674.1,238.8 L674.2,231.9 L674.3,224.3 L674.4,216.7 L674.5,209.0 L674.6,201.4 L674.7,193.5 L674.8,185.2 L674.9,176.5 L675.0,165.5 L675.1,153.4 L675.2,140.8 L675.3,127.9 L675.4,116.3 L675.5,106.4 L675.6,98.0 L675.6,88.2 L675.7,101.8 L675.8,107.7 L675.9,115.1 L676.0,124.0 L676.1,133.1 L676.2,142.1 L676.3,151.0 L676.4,159.4 L676.5,167.2 L676.6,173.6 L676.7,176.4 L676.8,178.6 L676.9,180.2 L677.0,181.4 L677.1,182.6 L677.2,183.8 L677.3,185.0 L677.4,186.2 L677.5,187.4 L677.6,188.6 L677.7,189.8 L677.8,191.0 L677.9,192.0 L678.0,192.8 L678.1,194.4 L678.1,193.2 L678.2,192.5 L678.3,191.6 L678.4,190.5 L678.5,189.3 L678.6,188.1 L678.7,186.9 L678.8,185.7 L678.9,184.5 L679.0,183.3 L679.1,182.1 L679.2,180.9 L679.3,179.4 L679.4,176.1 L679.5,171.1 L679.6,161.9 L679.7,141.4 L679.8,119.9 L679.9,98.6 L680.0,77.9 L680.1,54.8 L680.1,64.6 L680.2,61.1 L680.3,59.5 L680.4,59.8 L680.5,61.3 L680.6,62.8 L680.7,64.3 L680.8,65.7 L680.9,67.2 L681.0,68.7 L681.1,70.1 L681.2,71.6 L681.3,73.1 L681.4,74.6 L681.5,76.0 L681.6,77.5 L681.7,78.9 L681.8,80.2 L681.9,81.4 L682.0,82.0 L682.1,81.9 L682.2,81.7 L682.3,81.4 L682.4,81.1 L682.5,81.2 L682.6,81.8 L682.7,83.9 L682.8,88.2 L682.9,92.9 L683.0,97.9 L683.1,103.2 L683.2,108.6 L683.3,113.9 L683.4,119.2 L683.5,124.5 L683.6,129.8 L683.7,135.1 L683.8,140.5 L683.9,145.8 L684.0,151.1 L684.1,156.4 L684.2,161.8 L684.3,167.3 L684.4,173.1 L684.5,179.3 L684.6,186.8 L684.7,194.5 L684.8,202.3 L684.9,210.3 L685.0,218.3 L685.1,226.3 L685.2,234.3 L685.3,241.2 L685.4,247.0 L685.5,251.6 L685.5,258.7 L685.6,247.5 L685.7,241.8 L685.8,235.0 L685.9,227.1 L686.0,219.1 L686.1,211.1 L686.2,203.1 L686.3,195.0 L686.4,186.7 L686.5,178.2 L686.6,168.7 L686.7,158.5 L686.8,148.2 L686.9,137.6 L687.0,127.7 L687.1,118.8 L687.2,110.9 L687.2,101.8 L687.3,108.6 L687.4,110.0 L687.5,112.5 L687.6,116.1 L687.7,120.0 L687.8,123.9 L687.9,127.8 L688.0,131.8 L688.1,135.7 L688.2,139.6 L688.3,143.5 L688.4,147.5 L688.5,151.4 L688.6,155.3 L688.7,159.2 L688.8,163.1 L688.9,167.1 L689.0,170.4 L689.1,173.1 L689.2,175.1 L689.2,179.5 L689.3,172.5 L689.4,168.3 L689.5,163.5 L689.6,158.0 L689.7,152.4 L689.8,146.7 L689.9,141.1 L690.0,135.5 L690.1,129.8 L690.2,124.2 L690.3,118.5 L690.4,112.9 L690.5,107.3 L690.6,101.6 L690.7,96.0 L690.8,90.4 L690.9,84.7 L691.0,79.6 L691.1,75.0 L691.2,67.9 L691.2,71.0 L691.3,70.9 L691.4,71.4 L691.5,72.4 L691.6,73.9 L691.7,75.3 L691.8,76.8 L691.9,78.3 L692.0,79.8 L692.1,81.2 L692.2,82.7 L692.3,84.2 L692.4,85.6 L692.5,87.1 L692.6,88.6 L692.7,90.1 L692.8,91.5 L692.9,92.9 L693.0,94.1 L693.1,95.1 L693.2,95.1 L693.3,94.9 L693.4,94.6 L693.5,94.2 L693.6,94.1 L693.7,94.3 L693.8,94.8 L693.9,97.7 L694.0,100.9 L694.1,104.4 L694.2,108.2 L694.3,112.0 L694.4,115.8 L694.5,119.6 L694.6,123.4 L694.7,127.2 L694.8,131.0 L694.9,134.8 L695.0,138.6 L695.1,142.4 L695.2,146.2 L695.3,150.0 L695.4,153.8 L695.5,157.6 L695.6,161.4 L695.7,165.2 L695.8,169.2 L695.9,173.4 L696.0,177.8 L696.1,183.8 L696.2,190.0 L696.3,196.4 L696.4,203.0 L696.5,209.5 L696.6,216.1 L696.7,222.7 L696.8,229.3 L696.9,235.3 L697.0,240.3 L697.1,244.4 L697.1,251.5 L697.2,243.6 L697.3,239.3 L697.4,234.0 L697.5,227.8 L697.6,221.2 L697.7,214.6 L697.8,208.1 L697.9,201.5 L698.0,194.7 L698.1,187.1 L698.2,178.5 L698.3,167.9 L698.4,152.4 L698.5,137.6 L698.6,123.5 L698.6,110.5 L698.7,118.7 L698.8,118.1 L698.9,119.1 L699.0,121.7 L699.1,124.7 L699.2,127.7 L699.3,130.7 L699.4,133.7 L699.5,136.7 L699.6,139.7 L699.7,142.7 L699.8,145.7 L699.9,148.6 L700.0,151.6 L700.1,154.6 L700.2,157.6 L700.3,160.6 L700.4,163.6 L700.5,166.6 L700.6,169.3 L700.7,171.4 L700.8,173.0 L700.9,177.1 L700.9,172.0 L701.0,168.4 L701.1,164.2 L701.2,159.5 L701.3,154.4 L701.4,149.4 L701.5,144.3 L701.6,139.3 L701.7,134.2 L701.8,129.2 L701.9,124.1 L702.0,119.1 L702.1,114.0 L702.2,109.0 L702.3,103.9 L702.4,98.9 L702.5,93.8 L702.6,89.1 L702.7,84.8 L702.8,81.0 L702.8,77.1 L702.9,79.9 L703.0,80.3 L703.1,81.2 L703.2,82.5 L703.3,84.0 L703.4,85.5 L703.5,86.9 L703.6,88.4 L703.7,89.9 L703.8,91.4 L703.9,92.8 L704.0,94.3 L704.1,95.8 L704.2,97.3 L704.3,98.7 L704.4,100.2 L704.5,101.6 L704.6,102.8 L704.7,103.9 L704.8,104.3 L704.9,104.1 L705.0,103.9 L705.1,103.5 L705.2,103.3 L705.3,103.3 L705.4,103.6 L705.5,105.5 L705.6,108.3 L705.7,111.4 L705.8,114.8 L705.9,118.2 L706.0,121.7 L706.1,125.1 L706.2,128.6 L706.3,132.0 L706.4,135.5 L706.5,138.9 L706.6,142.4 L706.7,145.8 L706.8,149.3 L706.9,152.7 L707.0,156.2 L707.1,159.6 L707.2,163.1 L707.3,166.6 L707.4,170.2 L707.5,174.1 L707.6,178.3 L707.7,183.9 L707.8,189.6 L707.9,195.6 L708.0,201.7 L708.1,207.8 L708.2,213.9 L708.3,220.0 L708.4,226.1 L708.5,231.9 L708.6,236.9 L708.7,241.0 L708.8,248.8 L708.8,242.6 L708.9,238.9 L709.0,234.3 L709.1,228.8 L709.2,222.7 L709.3,216.6 L709.4,210.5 L709.5,204.4 L709.6,198.3 L709.7,191.7 L709.8,184.0 L709.9,175.3 L710.0,162.9 L710.1,146.6 L710.2,130.9 L710.3,111.7 L710.3,121.0 L710.4,119.2 L710.5,119.0 L710.6,120.6 L710.7,123.2 L710.8,125.8 L710.9,128.4 L711.0,131.0 L711.1,133.6 L711.2,136.1 L711.3,138.7 L711.4,141.3 L711.5,143.9 L711.6,146.5 L711.7,149.1 L711.8,151.7 L711.9,154.3 L712.0,156.9 L712.1,159.4 L712.2,162.0 L712.3,164.6 L712.4,167.2 L712.5,169.4 L712.6,171.1 L712.7,172.3 L712.7,175.8 L712.8,170.3 L712.9,166.6 L713.0,162.3 L713.1,157.5 L713.2,152.5 L713.3,147.5 L713.4,142.5 L713.5,137.6 L713.6,132.6 L713.7,127.6 L713.8,122.6 L713.9,117.6 L714.0,112.6 L714.1,107.6 L714.2,102.6 L714.3,97.7 L714.4,92.7 L714.5,87.7 L714.6,82.7 L714.7,77.9 L714.8,73.5 L714.9,69.7 L715.0,64.7 L715.0,67.5 L715.1,67.8 L715.2,68.5 L715.3,69.7 L715.4,71.2 L715.5,72.7 L715.6,74.1 L715.7,75.6 L715.8,77.1 L715.9,78.6 L716.0,80.0 L716.1,81.5 L716.2,83.0 L716.3,84.5 L716.4,85.9 L716.5,87.4 L716.6,88.8 L716.7,90.1 L716.8,91.3 L716.9,91.9 L717.0,91.8 L717.1,91.6 L717.2,91.3 L717.3,91.0 L717.4,91.1 L717.5,91.6 L717.6,93.6 L717.7,97.7 L717.8,102.2 L717.9,107.0 L718.0,112.1 L718.1,117.2 L718.2,122.3 L718.3,127.4 L718.4,132.5 L718.5,137.6 L718.6,142.6 L718.7,147.7 L718.8,152.8 L718.9,157.9 L719.0,163.0 L719.1,168.3 L719.2,173.6 L719.3,179.3 L719.4,185.6 L719.5,192.0 L719.6,198.5 L719.7,205.1 L719.8,211.7 L719.9,218.3 L720.0,224.8 L720.1,231.4 L720.2,237.1 L720.3,241.9 L720.4,245.7 L720.4,251.5 L720.5,242.4 L720.6,237.7 L720.7,232.1 L720.8,225.6 L720.9,219.0 L721.0,212.5 L721.1,205.9 L721.2,199.3 L721.3,192.7 L721.4,185.8 L721.5,178.8 L721.6,171.0 L721.7,162.3 L721.8,153.5 L721.9,145.0 L722.0,137.3 L722.1,130.3 L722.1,122.9 L722.2,127.6 L722.3,128.0 L722.4,129.1 L722.5,131.1 L722.6,133.3 L722.7,135.6 L722.8,137.9 L722.9,140.1 L723.0,142.4 L723.1,144.7 L723.2,146.9 L723.3,149.2 L723.4,151.5 L723.5,153.7 L723.6,156.0 L723.7,158.3 L723.8,160.5 L723.9,162.8 L724.0,165.1 L724.1,167.1 L724.2,168.7 L724.3,169.8 L724.4,173.4 L724.4,169.1 L724.5,165.5 L724.6,161.4 L724.7,156.8 L724.8,151.9 L724.9,146.9 L725.0,142.0 L725.1,137.0 L725.2,132.1 L725.3,127.1 L725.4,122.1 L725.5,117.2 L725.6,112.2 L725.7,107.3 L725.8,102.3 L725.9,97.4 L726.0,92.4 L726.1,87.5 L726.2,82.5 L726.3,77.6 L726.4,73.1 L726.5,69.1 L726.6,63.0 L726.6,65.7 L726.7,65.9 L726.8,66.4 L726.9,67.5 L727.0,69.0 L727.1,70.4 L727.2,71.9 L727.3,73.4 L727.4,74.9 L727.5,76.3 L727.6,77.8 L727.7,79.3 L727.8,80.8 L727.9,82.2 L728.0,83.7 L728.1,85.2 L728.2,86.6 L728.3,88.0 L728.4,89.2 L728.5,90.2 L728.6,90.1 L728.7,90.0 L728.8,89.7 L728.9,89.3 L729.0,89.2 L729.1,89.5 L729.2,90.3 L729.3,93.8 L729.4,97.6 L729.5,101.7 L729.6,106.2 L729.7,110.7 L729.8,115.2 L729.9,119.7 L730.0,124.2 L730.1,128.7 L730.2,133.2 L730.3,137.7 L730.4,142.2 L730.5,146.7 L730.6,151.2 L730.7,155.7 L730.8,160.2 L730.9,164.8 L731.0,169.5 L731.1,174.4 L731.2,179.9 L731.3,186.2 L731.4,192.7 L731.5,199.4 L731.6,206.1 L731.7,212.9 L731.8,219.6 L731.9,226.4 L732.0,233.0 L732.1,238.7 L732.2,243.4 L732.3,252.5 L732.3,246.2 L732.4,242.2 L732.5,237.3 L732.6,231.4 L732.7,224.6 L732.8,217.9 L732.9,211.1 L733.0,204.4 L733.1,197.6 L733.2,191.1 L733.3,185.0 L733.4,179.1 L733.5,175.3 L733.6,172.2 L733.7,169.4 L733.8,166.9 L733.9,164.4 L734.0,162.0 L734.1,159.5 L734.2,157.1 L734.3,154.6 L734.4,152.1 L734.5,149.7 L734.5,153.9 L734.6,147.2 L734.7,144.7 L734.8,142.3 L734.9,139.8 L735.0,137.4 L735.1,134.9 L735.2,132.5 L735.3,130.1 L735.4,127.7 L735.5,125.3 L735.6,122.9 L735.7,120.6 L735.8,121.9 L735.9,123.4 L736.0,125.1 L736.1,152.7 L736.2,156.3 L736.3,160.1 L736.4,164.1 L736.5,163.7 L736.6,161.5 L736.7,158.4 L736.7,165.9 L736.8,148.0 L736.9,131.8 L737.0,121.1 L737.1,115.5 L737.2,110.7 L737.3,107.4 L737.4,104.7 L737.5,102.1 L737.6,99.4 L737.7,96.7 L737.8,94.1 L737.9,91.4 L738.0,88.7 L738.1,86.0 L738.2,83.3 L738.3,80.7 L738.4,78.0 L738.5,75.6 L738.6,73.5 L738.7,71.6 L738.7,69.7 L738.8,71.4 L738.9,72.0 L739.0,72.8 L739.1,73.8 L739.2,75.0 L739.3,76.1 L739.4,77.2 L739.5,78.4 L739.6,79.5 L739.7,80.7 L739.8,81.8 L739.9,83.0 L740.0,84.2 L740.1,85.3 L740.2,86.5 L740.3,87.7 L740.4,88.8 L740.5,90.0 L740.6,91.1 L740.7,92.3 L740.8,93.4 L740.9,94.6 L741.0,95.7 L741.1,96.7 L741.2,97.7 L741.3,98.5 L741.4,98.7 L741.5,98.5 L741.6,98.1 L741.7,97.6 L741.8,97.0 L741.9,96.4 L742.0,96.2 L742.1,96.7 L742.2,97.9 L742.3,102.4 L742.4,110.4 L742.5,119.1 L742.6,128.7 L742.7,138.8 L742.8,148.8 L742.9,158.7 L743.0,168.4 L743.1,177.1 L743.2,184.9 L743.3,192.5 L743.4,199.8 L743.5,207.1 L743.6,214.2 L743.7,221.3 L743.8,228.2 L743.9,234.8 L744.0,240.3 L744.1,244.9 L744.2,252.5 L744.2,246.4 L744.3,242.6 L744.4,238.0 L744.5,232.5 L744.6,226.4 L744.7,220.3 L744.8,214.2 L744.9,208.0 L745.0,201.8 L745.1,195.9 L745.2,190.2 L745.3,184.9 L745.4,181.6 L745.5,178.5 L745.6,175.7 L745.7,173.1 L745.8,170.5 L745.9,167.8 L746.0,165.2 L746.1,162.5 L746.2,159.8 L746.3,157.1 L746.4,154.4 L746.5,151.7 L746.6,149.1 L746.7,146.4 L746.8,143.7 L746.9,141.1 L747.0,138.5 L747.1,135.9 L747.2,133.3 L747.3,130.7 L747.4,128.2 L747.5,125.8 L747.6,123.4 L747.7,121.0 L747.8,118.6 L747.9,116.4 L748.0,114.5 L748.1,112.7 L748.2,111.9 L748.3,112.0 L748.4,112.3 L748.5,112.8 L748.6,113.4 L748.7,114.0 L748.8,114.5 L748.9,114.7 L749.0,114.8 L749.1,113.8 L749.2,111.6 L749.3,109.1 L749.4,106.4 L749.5,103.5 L749.6,100.4 L749.7,97.4 L749.8,94.2 L749.9,91.1 L750.0,88.0 L750.1,85.0 L750.2,82.0 L750.3,79.0 L750.4,76.5 L750.5,74.3 L750.6,72.5 L750.6,70.9 L750.7,73.3 L750.8,74.5 L750.9,76.0 L751.0,77.9 L751.1,79.8 L751.2,81.8 L751.3,83.8 L751.4,85.8 L751.5,87.9 L751.6,90.0 L751.7,92.0 L751.8,94.1 L751.9,96.1 L752.0,98.0 L752.1,99.9 L752.2,101.7 L752.3,103.3 L752.4,104.6 L752.5,105.2 L752.6,105.0 L752.7,104.6 L752.8,104.1 L752.9,103.5 L753.0,102.9 L753.1,102.4 L753.2,102.3 L753.3,102.4 L753.4,104.1 L753.5,107.3 L753.6,110.9 L753.7,115.0 L753.8,119.3 L753.9,123.7 L754.0,128.2 L754.1,132.8 L754.2,137.6 L754.3,142.4 L754.4,147.3 L754.5,152.3 L754.6,157.3 L754.7,162.4 L754.8,167.5 L754.9,172.7 L755.0,177.9 L755.1,183.3 L755.2,188.9 L755.3,194.4 L755.4,199.9 L755.5,205.3 L755.6,210.6 L755.7,215.8 L755.8,220.9 L755.9,225.8 L756.0,230.6 L756.1,234.7 L756.2,238.1 L756.3,243.8 L756.3,240.7 L756.4,238.1 L756.5,234.9 L756.6,231.1 L756.7,226.7 L756.8,222.3 L756.9,217.7 L757.0,213.1 L757.1,208.4 L757.2,203.6 L757.3,198.8 L757.4,194.0 L757.5,189.3 L757.6,185.0 L757.7,181.3 L757.8,177.7 L757.9,174.2 L758.0,170.7 L758.1,167.2 L758.2,163.7 L758.3,160.2 L758.4,156.7 L758.5,153.3 L758.6,149.9 L758.7,146.5 L758.8,143.2 L758.9,139.9 L759.0,136.7 L759.1,133.6 L759.2,130.6 L759.3,127.7 L759.4,124.9 L759.5,122.1 L759.6,119.6 L759.7,117.3 L759.8,115.3 L759.9,114.4 L760.0,114.5 L760.1,114.8 L760.2,115.4 L760.3,116.0 L760.4,116.6 L760.5,117.2 L760.6,117.6 L760.7,117.9 L760.8,117.6 L760.9,116.7 L761.0,115.6 L761.1,114.4 L761.2,113.1 L761.3,111.7 L761.4,110.3 L761.5,108.8 L761.6,107.3 L761.7,105.7 L761.8,104.1 L761.9,102.6 L762.0,101.0 L762.1,99.4 L762.2,97.9 L762.3,96.4 L762.4,94.9 L762.5,93.5 L762.6,92.2 L762.7,90.9 L762.8,89.9 L762.9,89.0 L763.0,87.7 L763.0,88.5 L763.1,89.1 L763.2,90.0 L763.3,91.0 L763.4,92.2 L763.5,93.4 L763.6,94.7 L763.7,96.1 L763.8,97.4 L763.9,98.8 L764.0,100.2 L764.1,101.6 L764.2,102.9 L764.3,104.2 L764.4,105.5 L764.5,106.7 L764.6,107.8 L764.7,108.8 L764.8,109.5 L764.9,109.8 L765.0,109.5 L765.1,109.0 L765.2,108.4 L765.3,107.8 L765.4,107.2 L765.5,106.7 L765.6,106.5 L765.7,106.6 L765.8,108.3 L765.9,111.9 L766.0,115.9 L766.1,120.4 L766.2,125.2 L766.3,130.3 L766.4,135.5 L766.5,141.0 L766.6,146.6 L766.7,152.3 L766.8,158.1 L766.9,163.9 L767.0,169.8 L767.1,175.2 L767.2,180.6 L767.3,185.8 L767.4,191.0 L767.5,196.1 L767.6,201.0 L767.7,205.8 L767.8,210.4 L767.9,214.9 L768.0,219.1 L768.1,223.1 L768.2,226.6 L768.3,229.5 L768.4,231.9 L768.4,234.2 L768.5,231.2 L768.6,229.1 L768.7,226.6 L768.8,223.8 L768.9,220.8 L769.0,217.7 L769.1,214.5 L769.2,211.3 L769.3,207.9 L769.4,204.5 L769.5,200.9 L769.6,197.4 L769.7,193.8 L769.8,190.2 L769.9,186.8 L770.0,183.6 L770.1,180.4 L770.2,177.1 L770.3,173.9 L770.4,170.6 L770.5,167.3 L770.6,164.0 L770.7,160.7 L770.8,157.4 L770.9,154.1 L771.0,150.8 L771.1,147.5 L771.2,144.3 L771.3,141.1 L771.4,137.9 L771.5,134.8 L771.6,131.8 L771.7,128.8 L771.8,126.0 L771.9,123.2 L772.0,120.4 L772.1,117.8 L772.2,115.3 L772.3,112.8 L772.4,110.5 L772.5,108.3 L772.6,106.3 L772.7,104.4 L772.8,102.8 L772.9,102.1 L773.0,102.3 L773.1,102.8 L773.2,103.3 L773.3,104.0 L773.4,104.7 L773.5,105.2 L773.6,105.6 L773.7,105.8 L773.8,105.0 L773.9,102.8 L774.0,99.9 L774.1,96.6 L774.2,93.0 L774.3,89.5 L774.4,86.3 L774.5,83.6 L774.6,81.7 L774.6,80.8 L774.7,81.7 L774.8,82.1 L774.9,82.8 L775.0,83.6 L775.1,84.5 L775.2,85.4 L775.3,86.4 L775.4,87.5 L775.5,88.5 L775.6,89.6 L775.7,90.7 L775.8,91.7 L775.9,92.8 L776.0,93.8 L776.1,94.7 L776.2,95.6 L776.3,96.3 L776.4,97.0 L776.5,97.5 L776.6,97.6 L776.7,97.3 L776.8,96.8 L776.9,96.2 L777.0,95.5 L777.1,94.8 L777.2,94.3 L777.3,93.9 L777.4,93.7 L777.5,94.9 L777.6,97.4 L777.7,100.3 L777.8,103.5 L777.9,107.1 L778.0,110.8 L778.1,114.8 L778.2,119.0 L778.3,123.4 L778.4,127.9 L778.5,132.6 L778.6,137.5 L778.7,142.5 L778.8,147.6 L778.9,152.7 L779.0,158.0 L779.1,163.2 L779.2,168.5 L779.3,173.8 L779.4,179.0 L779.5,184.2 L779.6,189.3 L779.7,194.4 L779.8,199.3 L779.9,204.0 L780.0,208.6 L780.1,213.0 L780.2,217.2 L780.3,221.1 L780.4,224.8 L780.5,228.3 L780.6,231.3 L780.7,233.9 L780.8,236.0 L780.8,237.2 L780.9,234.3 L781.0,232.1 L781.1,229.5 L781.2,226.6 L781.3,223.5 L781.4,220.2 L781.5,216.7 L781.6,213.1 L781.7,209.4 L781.8,205.5 L781.9,201.4 L782.0,197.3 L782.1,193.1 L782.2,188.9 L782.3,184.8 L782.4,180.6 L782.5,176.4 L782.6,172.2 L782.7,167.9 L782.8,163.7 L782.9,159.4 L783.0,155.2 L783.1,151.0 L783.2,146.8 L783.3,142.8 L783.4,138.8 L783.5,134.9 L783.6,131.2 L783.7,127.5 L783.8,124.1 L783.9,120.7 L784.0,117.6 L784.1,114.6 L784.2,111.8 L784.3,109.1 L784.4,106.8 L784.5,104.6 L784.6,102.8 L784.7,102.0 L784.8,102.3 L784.9,102.8 L785.0,103.4 L785.1,104.1 L785.2,104.8 L785.3,105.4 L785.4,105.9 L785.5,106.3 L785.6,106.0 L785.7,104.9 L785.8,103.6 L785.9,102.1 L786.0,100.3 L786.1,98.4 L786.2,96.4 L786.3,94.3 L786.4,92.3 L786.5,90.3 L786.6,88.5 L786.7,86.8 L786.8,85.4 L786.9,84.2 L787.0,83.3 L787.0,83.5 L787.1,83.6 L787.2,83.8 L787.3,84.0 L787.4,84.3 L787.5,84.7 L787.6,85.1 L787.7,85.5 L787.8,85.9 L787.9,86.3 L788.0,86.8 L788.1,87.2 L788.2,87.6 L788.3,88.0 L788.4,88.4 L788.5,88.8 L788.6,89.1 L788.7,89.4 L788.8,89.7 L788.9,89.9 L789.0,89.8 L789.1,89.4 L789.2,88.9 L789.3,88.2 L789.4,87.5 L789.5,86.8 L789.6,86.2 L789.7,85.7 L789.8,85.4 L789.9,86.6 L790.0,89.4 L790.1,92.6 L790.2,96.3 L790.3,100.5 L790.4,105.0 L790.5,109.8 L790.6,115.0 L790.7,120.5 L790.8,126.3 L790.9,132.4 L791.0,138.6 L791.1,145.0 L791.2,151.5 L791.3,158.1 L791.4,164.8 L791.5,171.5 L791.6,178.1 L791.7,184.7 L791.8,191.1 L791.9,197.4 L792.0,203.5 L792.1,209.3 L792.2,214.8 L792.3,220.0 L792.4,224.9 L792.5,229.3 L792.6,233.4 L792.7,237.0 L792.8,240.1 L792.9,242.7 L792.9,243.8 L793.0,242.5 L793.1,241.0 L793.2,239.4 L793.3,237.7 L793.4,235.8 L793.5,233.8 L793.6,231.7 L793.7,229.6 L793.8,227.3 L793.9,225.0 L794.0,222.6 L794.1,220.1 L794.2,217.6 L794.3,215.2 L794.4,212.7 L794.5,210.1 L794.6,207.5 L794.7,204.8 L794.8,202.0 L794.9,199.2 L795.0,196.2 L795.1,193.3 L795.2,190.2 L795.3,187.2 L795.4,184.0 L795.5,180.9 L795.6,177.6 L795.7,174.4 L795.8,171.1 L795.9,167.8 L796.0,164.5 L796.1,161.2 L796.2,157.8 L796.3,154.5 L796.4,151.2 L796.5,147.8 L796.6,144.5 L796.7,141.2 L796.8,138.0 L796.9,134.7 L797.0,131.5 L797.1,128.4 L797.2,125.3 L797.3,122.2 L797.4,119.2 L797.5,116.3 L797.6,113.4 L797.7,110.6 L797.8,107.9 L797.9,105.2 L798.0,102.6 L798.1,100.2 L798.2,97.8 L798.3,95.5 L798.4,93.3 L798.5,91.2 L798.6,89.3 L798.7,87.4 L798.8,85.6 L798.9,84.0 L799.0,82.4 L799.1,81.0 L799.2,79.7 L799.3,78.6 L799.4,77.8 L799.4,78.3 L799.5,79.6 L799.6,81.0 L799.7,82.6 L799.8,84.3 L799.9,86.1 L800.0,88.1 L800.1,90.3 L800.2,92.6 L800.3,95.0 L800.4,97.5 L800.5,100.2 L800.6,103.0 L800.7,105.9 L800.8,108.9 L800.9,112.0 L801.0,115.2 L801.1,118.5 L801.2,121.9 L801.3,125.4 L801.4,129.0 L801.5,132.6 L801.6,136.3 L801.7,140.0 L801.8,143.8 L801.9,147.6 L802.0,151.5 L802.1,155.4 L802.2,159.3 L802.3,163.2 L802.4,167.2 L802.5,171.1 L802.6,175.0 L802.7,178.9 L802.8,182.7 L802.9,186.6 L803.0,190.3 L803.1,194.1 L803.2,197.7 L803.3,201.4 L803.4,204.9 L803.5,208.4 L803.6,211.7 L803.7,215.0 L803.8,218.2 L803.9,221.3 L804.0,224.3 L804.1,227.1 L804.2,229.9 L804.3,232.5 L804.4,235.0 L804.5,237.4 L804.6,239.7 L804.7,241.8 L804.8,243.7 L804.9,245.6 L805.0,247.2 L805.1,248.8 L805.2,250.2 L805.3,251.4 L805.3,251.5 L805.4,250.4 L805.5,249.2 L805.6,247.7 L805.7,246.2 L805.8,244.5 L805.9,242.8 L806.0,240.8 L806.1,238.8 L806.2,236.7 L806.3,234.4 L806.4,232.0 L806.5,229.6 L806.6,227.0 L806.7,224.3 L806.8,221.5 L806.9,218.6 L807.0,215.6 L807.1,212.6 L807.2,209.4 L807.3,206.2 L807.4,202.9 L807.5,199.6 L807.6,196.2 L807.7,192.7 L807.8,189.2 L807.9,185.6 L808.0,182.0 L808.1,178.4 L808.2,174.7 L808.3,171.0 L808.4,167.3 L808.5,163.6 L808.6,159.9 L808.7,156.2 L808.8,152.5 L808.9,148.8 L809.0,145.2 L809.1,141.6 L809.2,138.0 L809.3,134.4 L809.4,130.9 L809.5,127.5 L809.6,124.1 L809.7,120.8 L809.8,117.5 L809.9,114.4 L810.0,111.3 L810.1,108.2 L810.2,105.3 L810.3,102.5 L810.4,99.7 L810.5,97.1 L810.6,94.6 L810.7,92.1 L810.8,89.8 L810.9,87.6 L811.0,85.5 L811.1,83.6 L811.2,81.7 L811.3,80.0 L811.4,78.4 L811.5,76.9 L811.6,75.6 L811.7,74.4 L811.7,73.9 L811.8,74.5 L811.9,75.8 L812.0,77.2 L812.1,78.7 L812.2,80.4 L812.3,82.2 L812.4,84.1 L812.5,86.1 L812.6,88.3 L812.7,90.6 L812.8,93.0 L812.9,95.5 L813.0,98.1 L813.1,100.8 L813.2,103.7 L813.3,106.6 L813.4,109.7 L813.5,112.8 L813.6,116.0 L813.7,119.3 L813.8,122.6 L813.9,126.0 L814.0,129.5 L814.1,133.1 L814.2,136.7 L814.3,140.3 L814.4,144.0 L814.5,147.7 L814.6,151.4 L814.7,155.1 L814.8,158.9 L814.9,162.6 L815.0,166.3 L815.1,170.1 L815.2,173.8 L815.3,177.5 L815.4,181.1 L815.5,184.7 L815.6,188.3 L815.7,191.8 L815.8,195.3 L815.9,198.7 L816.0,202.1 L816.1,205.3 L816.2,208.5 L816.3,211.6 L816.4,214.6 L816.5,217.5 L816.6,220.3 L816.7,223.0 L816.8,225.6 L816.9,228.1 L817.0,230.5 L817.1,232.8 L817.2,234.9 L817.3,236.9 L817.4,238.8 L817.5,240.5 L817.6,242.2 L817.7,243.6 L817.8,245.0 L817.9,246.2 L817.9,246.6 L818.0,245.9 L818.1,244.9 L818.2,243.7 L818.3,242.5 L818.4,241.2 L818.5,239.8 L818.6,238.3 L818.7,236.7 L818.8,235.0 L818.9,233.3 L819.0,231.4 L819.1,229.5 L819.2,227.5 L819.3,225.4 L819.4,223.2 L819.5,221.0 L819.6,218.7 L819.7,216.3 L819.8,213.8 L819.9,211.3 L820.0,208.7 L820.1,206.1 L820.2,203.4 L820.3,200.6 L820.4,197.8 L820.5,195.0 L820.6,192.1 L820.7,189.1 L820.8,186.2 L820.9,183.2 L821.0,180.1 L821.1,177.1 L821.2,174.0 L821.3,170.9 L821.4,167.8 L821.5,164.7 L821.6,161.6 L821.7,158.5 L821.8,155.3 L821.9,152.2 L822.0,149.1 L822.1,146.0 L822.2,143.0 L822.3,139.9 L822.4,136.9 L822.5,133.9 L822.6,130.9 L822.7,128.0 L822.8,125.1 L822.9,122.3 L823.0,119.5 L823.1,116.7 L823.2,114.0 L823.3,111.4 L823.4,108.8 L823.5,106.3 L823.6,103.9 L823.7,101.5 L823.8,99.2 L823.9,97.0 L824.0,94.8 L824.1,92.7 L824.2,90.7 L824.3,88.8 L824.4,87.0 L824.5,85.2 L824.6,83.5 L824.7,82.0 L824.8,80.5 L824.9,79.1 L825.0,77.8 L825.1,76.6 L825.2,75.4 L825.3,74.4 L825.4,73.9 L825.4,74.5 L825.5,76.1 L825.6,77.8 L825.7,79.8 L825.8,82.0 L825.9,84.4 L826.0,86.9 L826.1,89.7 L826.2,92.6 L826.3,95.7 L826.4,99.0 L826.5,102.5 L826.6,106.1 L826.7,109.8 L826.8,113.7 L826.9,117.7 L827.0,121.8 L827.1,126.1 L827.2,130.4 L827.3,134.8 L827.4,139.2 L827.5,143.8 L827.6,148.3 L827.7,152.9 L827.8,157.5 L827.9,162.1 L828.0,166.7 L828.1,171.3 L828.2,175.9 L828.3,180.4 L828.4,184.8 L828.5,189.2 L828.6,193.5 L828.7,197.7 L828.8,201.7 L828.9,205.7 L829.0,209.5 L829.1,213.2 L829.2,216.8 L829.3,220.2 L829.4,223.4 L829.5,226.4 L829.6,229.3 L829.7,232.0 L829.8,234.5 L829.9,236.8 L830.0,238.9 L830.1,240.8 L830.2,242.5 L830.3,244.0 L830.3,244.1 L830.4,243.2 L830.5,242.2 L830.6,241.1 L830.7,239.9 L830.8,238.7 L830.9,237.3 L831.0,235.9 L831.1,234.4 L831.2,232.8 L831.3,231.1 L831.4,229.4 L831.5,227.5 L831.6,225.6 L831.7,223.7 L831.8,221.6 L831.9,219.5 L832.0,217.3 L832.1,215.0 L832.2,212.7 L832.3,210.3 L832.4,207.9 L832.5,205.4 L832.6,202.8 L832.7,200.2 L832.8,197.6 L832.9,194.9 L833.0,192.2 L833.1,189.4 L833.2,186.6 L833.3,183.8 L833.4,180.9 L833.5,178.0 L833.6,175.1 L833.7,172.1 L833.8,169.2 L833.9,166.2 L834.0,163.3 L834.1,160.3 L834.2,157.3 L834.3,154.3 L834.4,151.4 L834.5,148.4 L834.6,145.4 L834.7,142.5 L834.8,139.6 L834.9,136.7 L835.0,133.8 L835.1,131.0 L835.2,128.2 L835.3,125.4 L835.4,122.7 L835.5,120.0 L835.6,117.4 L835.7,114.8 L835.8,112.2 L835.9,109.8 L836.0,107.3 L836.1,105.0 L836.2,102.6 L836.3,100.4 L836.4,98.2 L836.5,96.1 L836.6,94.1 L836.7,92.1 L836.8,90.2 L836.9,88.4 L837.0,86.6 L837.1,85.0 L837.2,83.4 L837.3,81.9 L837.4,80.5 L837.5,79.1 L837.6,77.9 L837.7,76.7 L837.8,75.6 L837.9,74.6 L838.0,73.9 L838.0,74.2 L838.1,75.8 L838.2,77.6 L838.3,79.7 L838.4,82.0 L838.5,84.5 L838.6,87.2 L838.7,90.1 L838.8,93.3 L838.9,96.6 L839.0,100.1 L839.1,103.8 L839.2,107.7 L839.3,111.7 L839.4,115.9 L839.5,120.2 L839.6,124.6 L839.7,129.1 L839.8,133.7 L839.9,138.4 L840.0,143.2 L840.1,148.0 L840.2,152.9 L840.3,157.7 L840.4,162.6 L840.5,167.5 L840.6,172.3 L840.7,177.1 L840.8,181.9 L840.9,186.5 L841.0,191.1 L841.1,195.6 L841.2,200.0 L841.3,204.2 L841.4,208.3 L841.5,212.3 L841.6,216.1 L841.7,219.7 L841.8,223.2 L841.9,226.5 L842.0,229.5 L842.1,232.4 L842.2,235.0 L842.3,237.5 L842.4,239.7 L842.5,241.6 L842.6,243.4 L842.7,244.7 L842.7,244.5 L842.8,243.5 L842.9,242.5 L843.0,241.3 L843.1,240.0 L843.2,238.7 L843.3,237.2 L843.4,235.7 L843.5,234.1 L843.6,232.4 L843.7,230.6 L843.8,228.8 L843.9,226.8 L844.0,224.8 L844.1,222.7 L844.2,220.5 L844.3,218.3 L844.4,216.0 L844.5,213.6 L844.6,211.1 L844.7,208.6 L844.8,206.1 L844.9,203.4 L845.0,200.7 L845.1,198.0 L845.2,195.2 L845.3,192.4 L845.4,189.5 L845.5,186.6 L845.6,183.6 L845.7,180.6 L845.8,177.6 L845.9,174.6 L846.0,171.5 L846.1,168.4 L846.2,165.3 L846.3,162.2 L846.4,159.1 L846.5,155.9 L846.6,152.8 L846.7,149.7 L846.8,146.6 L846.9,143.5 L847.0,140.4 L847.1,137.3 L847.2,134.2 L847.3,131.2 L847.4,128.2 L847.5,125.2 L847.6,122.3 L847.7,119.4 L847.8,116.6 L847.9,113.7 L848.0,111.0 L848.1,108.3 L848.2,105.6 L848.3,103.0 L848.4,100.5 L848.5,98.0 L848.6,95.6 L848.7,93.3 L848.8,91.0 L848.9,88.8 L849.0,86.6 L849.1,84.6 L849.2,82.6 L849.3,80.7 L849.4,78.9 L849.5,77.2 L849.6,75.6 L849.7,74.0 L849.8,72.5 L849.9,71.1 L850.0,69.8 L850.1,68.6 L850.2,67.5 L850.3,66.5 L850.4,66.0 L850.4,66.6 L850.5,68.2 L850.6,70.0 L850.7,72.1 L850.8,74.3 L850.9,76.7 L851.0,79.3 L851.1,82.1 L851.2,85.1 L851.3,88.2 L851.4,91.6 L851.5,95.1 L851.6,98.7 L851.7,102.5 L851.8,106.5 L851.9,110.5 L852.0,114.7 L852.1,119.0 L852.2,123.4 L852.3,127.9 L852.4,132.5 L852.5,137.1 L852.6,141.8 L852.7,146.6 L852.8,151.3 L852.9,156.1 L853.0,160.9 L853.1,165.7 L853.2,170.5 L853.3,175.2 L853.4,179.9 L853.5,184.6 L853.6,189.2 L853.7,193.7 L853.8,198.1 L853.9,202.4 L854.0,206.6 L854.1,210.7 L854.2,214.6 L854.3,218.4 L854.4,222.1 L854.5,225.6 L854.6,229.0 L854.7,232.1 L854.8,235.2 L854.9,238.0 L855.0,240.6 L855.1,243.0 L855.2,245.3 L855.3,247.3 L855.4,249.2 L855.5,250.8 L855.6,251.6 L855.6,251.1 L855.7,250.0 L855.8,248.7 L855.9,247.3 L856.0,245.9 L856.1,244.3 L856.2,242.6 L856.3,240.8 L856.4,238.9 L856.5,236.9 L856.6,234.8 L856.7,232.6 L856.8,230.3 L856.9,227.9 L857.0,225.5 L857.1,222.9 L857.2,220.3 L857.3,217.5 L857.4,214.7 L857.5,211.9 L857.6,208.9 L857.7,205.9 L857.8,202.8 L857.9,199.7 L858.0,196.5 L858.1,193.2 L858.2,189.9 L858.3,186.6 L858.4,183.2 L858.5,179.8 L858.6,176.4 L858.7,172.9 L858.8,169.4 L858.9,165.9 L859.0,162.4 L859.1,158.8 L859.2,155.3 L859.3,151.8 L859.4,148.3 L859.5,144.8 L859.6,141.3 L859.7,137.8 L859.8,134.4 L859.9,131.0 L860.0,127.6 L860.1,124.2 L860.2,121.0 L860.3,117.7 L860.4,114.5 L860.5,111.4 L860.6,108.3 L860.7,105.3 L860.8,102.4 L860.9,99.5 L861.0,96.7 L861.1,94.0 L861.2,91.4 L861.3,88.8 L861.4,86.3 L861.5,84.0 L861.6,81.7 L861.7,79.5 L861.8,77.4 L861.9,75.5 L862.0,73.6 L862.1,71.8 L862.2,70.1 L862.3,68.5 L862.4,67.1 L862.5,65.7 L862.6,64.5 L862.7,63.3 L862.7,63.0 L862.8,64.0 L862.9,65.6 L863.0,67.4 L863.1,69.4 L863.2,71.5 L863.3,73.9 L863.4,76.4 L863.5,79.1 L863.6,82.0 L863.7,85.1 L863.8,88.3 L863.9,91.6 L864.0,95.1 L864.1,98.8 L864.2,102.6 L864.3,106.5 L864.4,110.5 L864.5,114.6 L864.6,118.9 L864.7,123.2 L864.8,127.6 L864.9,132.1 L865.0,136.6 L865.1,141.2 L865.2,145.8 L865.3,150.4 L865.4,155.1 L865.5,159.8 L865.6,164.4 L865.7,169.1 L865.8,173.7 L865.9,178.3 L866.0,182.8 L866.1,187.3 L866.2,191.7 L866.3,196.0 L866.4,200.3 L866.5,204.4 L866.6,208.4 L866.7,212.4 L866.8,216.2 L866.9,219.8 L867.0,223.3 L867.1,226.7 L867.2,229.9 L867.3,233.0 L867.4,235.9 L867.5,238.6 L867.6,241.2 L867.7,243.6 L867.8,245.8 L867.9,247.8 L868.0,249.6 L868.1,251.2 L868.2,252.4 L868.2,252.1 L868.3,251.0 L868.4,249.8 L868.5,248.5 L868.6,247.0 L868.7,245.5 L868.8,243.8 L868.9,242.1 L869.0,240.2 L869.1,238.3 L869.2,236.2 L869.3,234.1 L869.4,231.8 L869.5,229.5 L869.6,227.0 L869.7,224.5 L869.8,221.9 L869.9,219.3 L870.0,216.5 L870.1,213.7 L870.2,210.8 L870.3,207.8 L870.4,204.7 L870.5,201.6 L870.6,198.5 L870.7,195.3 L870.8,192.0 L870.9,188.7 L871.0,185.4 L871.1,182.0 L871.2,178.6 L871.3,175.2 L871.4,171.7 L871.5,168.2 L871.6,164.8 L871.7,161.3 L871.8,157.8 L871.9,154.3 L872.0,150.8 L872.1,147.3 L872.2,143.8 L872.3,140.4 L872.4,137.0 L872.5,133.6 L872.6,130.3 L872.7,126.9 L872.8,123.7 L872.9,120.4 L873.0,117.3 L873.1,114.1 L873.2,111.1 L873.3,108.1 L873.4,105.2 L873.5,102.3 L873.6,99.5 L873.7,96.8 L873.8,94.2 L873.9,91.6 L874.0,89.2 L874.1,86.8 L874.2,84.5 L874.3,82.3 L874.4,80.3 L874.5,78.3 L874.6,76.4 L874.7,74.6 L874.8,72.9 L874.9,71.3 L875.0,69.9 L875.1,68.5 L875.2,67.2 L875.3,66.1 L875.4,65.5 L875.4,66.0 L875.5,67.5 L875.6,69.2 L875.7,71.0 L875.8,73.0 L875.9,75.2 L876.0,77.5 L876.1,80.0 L876.2,82.6 L876.3,85.4 L876.4,88.3 L876.5,91.4 L876.6,94.6 L876.7,98.0 L876.8,101.5 L876.9,105.1 L877.0,108.8 L877.1,112.6 L877.2,116.5 L877.3,120.5 L877.4,124.6 L877.5,128.8 L877.6,133.0 L877.7,137.3 L877.8,141.7 L877.9,146.0 L878.0,150.4 L878.1,154.8 L878.2,159.3 L878.3,163.7 L878.4,168.1 L878.5,172.5 L878.6,176.9 L878.7,181.2 L878.8,185.5 L878.9,189.8 L879.0,193.9 L879.1,198.0 L879.2,202.0 L879.3,206.0 L879.4,209.8 L879.5,213.5 L879.6,217.1 L879.7,220.6 L879.8,224.0 L879.9,227.2 L880.0,230.3 L880.1,233.3 L880.2,236.1 L880.3,238.7 L880.4,241.2 L880.5,243.5 L880.6,245.7 L880.7,247.7 L880.8,249.5 L880.9,251.2 L881.0,252.7 L881.0,253.4 L881.1,252.8 L881.2,251.6 L881.3,250.3 L881.4,248.8 L881.5,247.3 L881.6,245.6 L881.7,243.8 L881.8,241.9 L881.9,239.9 L882.0,237.8 L882.1,235.6 L882.2,233.3 L882.3,230.9 L882.4,228.4 L882.5,225.8 L882.6,223.1 L882.7,220.3 L882.8,217.4 L882.9,214.4 L883.0,211.4 L883.1,208.3 L883.2,205.1 L883.3,201.9 L883.4,198.6 L883.5,195.2 L883.6,191.8 L883.7,188.3 L883.8,184.8 L883.9,181.3 L884.0,177.7 L884.1,174.1 L884.2,170.5 L884.3,166.9 L884.4,163.2 L884.5,159.6 L884.6,155.9 L884.7,152.3 L884.8,148.6 L884.9,145.0 L885.0,141.4 L885.1,137.8 L885.2,134.3 L885.3,130.8 L885.4,127.3 L885.5,123.9 L885.6,120.5 L885.7,117.2 L885.8,113.9 L885.9,110.7 L886.0,107.6 L886.1,104.5 L886.2,101.5 L886.3,98.6 L886.4,95.8 L886.5,93.1 L886.6,90.5 L886.7,87.9 L886.8,85.5 L886.9,83.1 L887.0,80.9 L887.1,78.7 L887.2,76.7 L887.3,74.8 L887.4,73.0 L887.5,71.3 L887.6,69.7 L887.7,68.2 L887.8,66.9 L887.9,65.6 L888.0,64.7 L888.0,65.0 L888.1,66.4 L888.2,67.9 L888.3,69.6 L888.4,71.5 L888.5,73.5 L888.6,75.6 L888.7,78.0 L888.8,80.4 L888.9,83.0 L889.0,85.8 L889.1,88.7 L889.2,91.7 L889.3,94.8 L889.4,98.1 L889.5,101.5 L889.6,105.0 L889.7,108.6 L889.8,112.3 L889.9,116.0 L890.0,119.9 L890.1,123.9 L890.2,127.9 L890.3,131.9 L890.4,136.1 L890.5,140.3 L890.6,144.5 L890.7,148.7 L890.8,153.0 L890.9,157.2 L891.0,161.5 L891.1,165.8 L891.2,170.1 L891.3,174.3 L891.4,178.5 L891.5,182.7 L891.6,186.8 L891.7,190.9 L891.8,194.9 L891.9,198.9 L892.0,202.7 L892.1,206.5 L892.2,210.2 L892.3,213.8 L892.4,217.3 L892.5,220.7 L892.6,223.9 L892.7,227.1 L892.8,230.1 L892.9,233.0 L893.0,235.8 L893.1,238.4 L893.2,240.8 L893.3,243.1 L893.4,245.3 L893.5,247.3 L893.6,249.2 L893.7,250.9 L893.8,252.4 L893.9,253.8 L893.9,254.1 L894.0,253.2 L894.1,251.9 L894.2,250.4 L894.3,248.9 L894.4,247.2 L894.5,245.4 L894.6,243.5 L894.7,241.5 L894.8,239.3 L894.9,237.0 L895.0,234.7 L895.1,232.2 L895.2,229.6 L895.3,226.9 L895.4,224.1 L895.5,221.2 L895.6,218.2 L895.7,215.1 L895.8,211.9 L895.9,208.7 L896.0,205.4 L896.1,202.0 L896.2,198.5 L896.3,195.0 L896.4,191.4 L896.5,187.8 L896.6,184.1 L896.7,180.4 L896.8,176.7 L896.9,172.9 L897.0,169.1 L897.1,165.3 L897.2,161.5 L897.3,157.7 L897.4,153.9 L897.5,150.1 L897.6,146.3 L897.7,142.5 L897.8,138.8 L897.9,135.1 L898.0,131.4 L898.1,127.8 L898.2,124.2 L898.3,120.7 L898.4,117.2 L898.5,113.8 L898.6,110.5 L898.7,107.2 L898.8,104.0 L898.9,100.9 L899.0,97.9 L899.1,95.0 L899.2,92.1 L899.3,89.4 L899.4,86.8 L899.5,84.3 L899.6,81.9 L899.7,79.6 L899.8,77.4 L899.9,75.3 L900.0,73.4 L900.1,71.5 L900.2,69.8 L900.3,68.3 L900.4,66.8 L900.5,65.5 L900.6,64.3 L900.6,64.2 L900.7,65.5 L900.8,66.9 L900.9,68.5 L901.0,70.2 L901.1,72.1 L901.2,74.1 L901.3,76.2 L901.4,78.5 L901.5,80.9 L901.6,83.5 L901.7,86.2 L901.8,89.0 L901.9,91.9 L902.0,95.0 L902.1,98.1 L902.2,101.4 L902.3,104.7 L902.4,108.2 L902.5,111.7 L902.6,115.3 L902.7,119.1 L902.8,122.8 L902.9,126.7 L903.0,130.6 L903.1,134.5 L903.2,138.5 L903.3,142.5 L903.4,146.6 L903.5,150.7 L903.6,154.8 L903.7,158.9 L903.8,163.0 L903.9,167.1 L904.0,171.1 L904.1,175.2 L904.2,179.2 L904.3,183.2 L904.4,187.2 L904.5,191.1 L904.6,194.9 L904.7,198.7 L904.8,202.4 L904.9,206.0 L905.0,209.5 L905.1,213.0 L905.2,216.3 L905.3,219.6 L905.4,222.7 L905.5,225.8 L905.6,228.7 L905.7,231.5 L905.8,234.2 L905.9,236.7 L906.0,239.1 L906.1,241.4 L906.2,243.6 L906.3,245.6 L906.4,247.4 L906.5,249.2 L906.6,250.7 L906.7,252.2 L906.8,253.4 L906.8,253.3 L906.9,252.1 L907.0,250.8 L907.1,249.4 L907.2,247.8 L907.3,246.1 L907.4,244.3 L907.5,242.4 L907.6,240.4 L907.7,238.3 L907.8,236.0 L907.9,233.7 L908.0,231.2 L908.1,228.6 L908.2,225.9 L908.3,223.2 L908.4,220.3 L908.5,217.4 L908.6,214.3 L908.7,211.2 L908.8,208.0 L908.9,204.8 L909.0,201.4 L909.1,198.0 L909.2,194.6 L909.3,191.1 L909.4,187.5 L909.5,183.9 L909.6,180.3 L909.7,176.6 L909.8,172.9 L909.9,169.2 L910.0,165.5 L910.1,161.8 L910.2,158.0 L910.3,154.3 L910.4,150.6 L910.5,146.9 L910.6,143.2 L910.7,139.6 L910.8,136.0 L910.9,132.4 L911.0,128.8 L911.1,125.3 L911.2,121.9 L911.3,118.5 L911.4,115.2 L911.5,112.0 L911.6,108.8 L911.7,105.7 L911.8,102.7 L911.9,99.8 L912.0,96.9 L912.1,94.2 L912.2,91.6 L912.3,89.0 L912.4,86.6 L912.5,84.3 L912.6,82.1 L912.7,80.0 L912.8,78.0 L912.9,76.1 L913.0,74.4 L913.1,72.7 L913.2,71.2 L913.3,69.8 L913.4,68.6 L913.5,67.7 L913.5,68.0 L913.6,69.3 L913.7,70.8 L913.8,72.5 L913.9,74.3 L914.0,76.3 L914.1,78.4 L914.2,80.6 L914.3,83.0 L914.4,85.5 L914.5,88.2 L914.6,91.0 L914.7,93.9 L914.8,97.0 L914.9,100.1 L915.0,103.4 L915.1,106.8 L915.2,110.3 L915.3,113.9 L915.4,117.5 L915.5,121.3 L915.6,125.1 L915.7,129.0 L915.8,132.9 L915.9,136.9 L916.0,141.0 L916.1,145.0 L916.2,149.1 L916.3,153.3 L916.4,157.4 L916.5,161.5 L916.6,165.7 L916.7,169.8 L916.8,173.9 L916.9,178.0 L917.0,182.0 L917.1,186.0 L917.2,189.9 L917.3,193.8 L917.4,197.6 L917.5,201.4 L917.6,205.0 L917.7,208.6 L917.8,212.1 L917.9,215.4 L918.0,218.7 L918.1,221.9 L918.2,224.9 L918.3,227.8 L918.4,230.6 L918.5,233.3 L918.6,235.8 L918.7,238.2 L918.8,240.4 L918.9,242.5 L919.0,244.4 L919.1,246.2 L919.2,247.9 L919.3,249.3 L919.4,250.7 L919.4,250.9 L919.5,250.0 L919.6,248.8 L919.7,247.5 L919.8,246.0 L919.9,244.5 L920.0,242.9 L920.1,241.1 L920.2,239.3 L920.3,237.3 L920.4,235.3 L920.5,233.1 L920.6,230.8 L920.7,228.5 L920.8,226.0 L920.9,223.5 L921.0,220.9 L921.1,218.2 L921.2,215.4 L921.3,212.5 L921.4,209.6 L921.5,206.6 L921.6,203.5 L921.7,200.4 L921.8,197.2 L921.9,193.9 L922.0,190.6 L922.1,187.3 L922.2,183.9 L922.3,180.5 L922.4,177.1 L922.5,173.6 L922.6,170.1 L922.7,166.6 L922.8,163.1 L922.9,159.6 L923.0,156.1 L923.1,152.6 L923.2,149.1 L923.3,145.6 L923.4,142.2 L923.5,138.8 L923.6,135.4 L923.7,132.0 L923.8,128.7 L923.9,125.4 L924.0,122.2 L924.1,119.0 L924.2,115.9 L924.3,112.8 L924.4,109.8 L924.5,106.9 L924.6,104.1 L924.7,101.3 L924.8,98.7 L924.9,96.1 L925.0,93.6 L925.1,91.2 L925.2,88.8 L925.3,86.6 L925.4,84.5 L925.5,82.5 L925.6,80.6 L925.7,78.7 L925.8,77.0 L925.9,75.4 L926.0,74.0 L926.1,72.6 L926.2,71.3 L926.3,70.2 L926.3,69.7 L926.4,70.3 L926.5,71.6 L926.6,73.0 L926.7,74.6 L926.8,76.3 L926.9,78.1 L927.0,80.1 L927.1,82.2 L927.2,84.4 L927.3,86.7 L927.4,89.2 L927.5,91.8 L927.6,94.5 L927.7,97.3 L927.8,100.2 L927.9,103.3 L928.0,106.4 L928.1,109.6 L928.2,112.9 L928.3,116.3 L928.4,119.7 L928.5,123.2 L928.6,126.8 L928.7,130.5 L928.8,134.1 L928.9,137.9 L929.0,141.6 L929.1,145.5 L929.2,149.3 L929.3,153.1 L929.4,157.0 L929.5,160.8 L929.6,164.7 L929.7,168.5 L929.8,172.3 L929.9,176.1 L930.0,179.9 L930.1,183.6 L930.2,187.3 L930.3,190.9 L930.4,194.5 L930.5,198.0 L930.6,201.5 L930.7,204.8 L930.8,208.1 L930.9,211.3 L931.0,214.4 L931.1,217.4 L931.2,220.3 L931.3,223.1 L931.4,225.8 L931.5,228.3 L931.6,230.8 L931.7,233.1 L931.8,235.3 L931.9,237.4 L932.0,239.3 L932.1,241.1 L932.2,242.8 L932.3,244.3 L932.4,245.7 L932.5,247.0 L932.5,247.4 L932.6,246.7 L932.7,245.4 L932.8,244.1 L932.9,242.6 L933.0,241.0 L933.1,239.3 L933.2,237.5 L933.3,235.6 L933.4,233.5 L933.5,231.3 L933.6,229.1 L933.7,226.7 L933.8,224.2 L933.9,221.6 L934.0,218.9 L934.1,216.2 L934.2,213.3 L934.3,210.3 L934.4,207.3 L934.5,204.2 L934.6,201.0 L934.7,197.8 L934.8,194.5 L934.9,191.1 L935.0,187.7 L935.1,184.2 L935.2,180.7 L935.3,177.1 L935.4,173.5 L935.5,169.9 L935.6,166.3 L935.7,162.6 L935.8,159.0 L935.9,155.3 L936.0,151.7 L936.1,148.0 L936.2,144.4 L936.3,140.7 L936.4,137.1 L936.5,133.6 L936.6,130.0 L936.7,126.5 L936.8,123.1 L936.9,119.7 L937.0,116.3 L937.1,113.0 L937.2,109.8 L937.3,106.7 L937.4,103.6 L937.5,100.6 L937.6,97.7 L937.7,94.9 L937.8,92.2 L937.9,89.5 L938.0,87.0 L938.1,84.6 L938.2,82.2 L938.3,80.0 L938.4,77.9 L938.5,75.9 L938.6,74.0 L938.7,72.2 L938.8,70.6 L938.9,69.0 L939.0,67.6 L939.1,66.3 L939.2,65.2 L939.2,65.0 L939.3,66.0 L939.4,67.5 L939.5,69.1 L939.6,70.9 L939.7,72.8 L939.8,74.9 L939.9,77.1 L940.0,79.5 L940.1,82.0 L940.2,84.7 L940.3,87.5 L940.4,90.4 L940.5,93.5 L940.6,96.6 L940.7,99.9 L940.8,103.3 L940.9,106.8 L941.0,110.4 L941.1,114.1 L941.2,117.9 L941.3,121.8 L941.4,125.7 L941.5,129.7 L941.6,133.8 L941.7,137.9 L941.8,142.0 L941.9,146.2 L942.0,150.4 L942.1,154.6 L942.2,158.8 L942.3,163.0 L942.4,167.2 L942.5,171.4 L942.6,175.6 L942.7,179.7 L942.8,183.8 L942.9,187.8 L943.0,191.8 L943.1,195.7 L943.2,199.6 L943.3,203.3 L943.4,207.0 L943.5,210.6 L943.6,214.1 L943.7,217.4 L943.8,220.7 L943.9,223.9 L944.0,226.9 L944.1,229.8 L944.2,232.5 L944.3,235.2 L944.4,237.6 L944.5,240.0 L944.6,242.2 L944.7,244.2 L944.8,246.1 L944.9,247.9 L945.0,249.4 L945.1,250.9 L945.2,251.6 L945.2,251.2 L945.3,249.9 L945.4,248.6 L945.5,247.1 L945.6,245.5 L945.7,243.8 L945.8,242.0 L945.9,240.1 L946.0,238.0 L946.1,235.9 L946.2,233.6 L946.3,231.2 L946.4,228.7 L946.5,226.1 L946.6,223.4 L946.7,220.6 L946.8,217.7 L946.9,214.8 L947.0,211.7 L947.1,208.6 L947.2,205.4 L947.3,202.1 L947.4,198.8 L947.5,195.4 L947.6,191.9 L947.7,188.4 L947.8,184.8 L947.9,181.2 L948.0,177.6 L948.1,174.0 L948.2,170.3 L948.3,166.6 L948.4,162.9 L948.5,159.2 L948.6,155.4 L948.7,151.7 L948.8,148.0 L948.9,144.4 L949.0,140.7 L949.1,137.1 L949.2,133.5 L949.3,129.9 L949.4,126.4 L949.5,123.0 L949.6,119.6 L949.7,116.2 L949.8,112.9 L949.9,109.7 L950.0,106.6 L950.1,103.5 L950.2,100.6 L950.3,97.7 L950.4,94.9 L950.5,92.2 L950.6,89.6 L950.7,87.1 L950.8,84.7 L950.9,82.5 L951.0,80.3 L951.1,78.2 L951.2,76.3 L951.3,74.5 L951.4,72.8 L951.5,71.2 L951.6,69.7 L951.7,68.4 L951.8,67.2 L951.8,66.7 L951.9,67.5 L952.0,69.0 L952.1,70.6 L952.2,72.5 L952.3,74.5 L952.4,76.7 L952.5,79.0 L952.6,81.6 L952.7,84.2 L952.8,87.1 L952.9,90.1 L953.0,93.2 L953.1,96.4 L953.2,99.8 L953.3,103.4 L953.4,107.0 L953.5,110.8 L953.6,114.6 L953.7,118.6 L953.8,122.6 L953.9,126.7 L954.0,130.9 L954.1,135.1 L954.2,139.4 L954.3,143.7 L954.4,148.0 L954.5,152.4 L954.6,156.8 L954.7,161.1 L954.8,165.5 L954.9,169.8 L955.0,174.1 L955.1,178.3 L955.2,182.5 L955.3,186.6 L955.4,190.7 L955.5,194.7 L955.6,198.5 L955.7,202.3 L955.8,206.0 L955.9,209.6 L956.0,213.0 L956.1,216.3 L956.2,219.5 L956.3,222.5 L956.4,225.4 L956.5,228.1 L956.6,230.6 L956.7,233.0 L956.8,235.3 L956.9,237.3 L957.0,239.2 L957.1,241.0 L957.2,242.5 L957.3,243.7 L957.3,243.6 L957.4,242.4 L957.5,241.2 L957.6,239.8 L957.7,238.3 L957.8,236.7 L957.9,235.0 L958.0,233.2 L958.1,231.2 L958.2,229.2 L958.3,227.0 L958.4,224.7 L958.5,222.3 L958.6,219.8 L958.7,217.3 L958.8,214.6 L958.9,211.8 L959.0,209.0 L959.1,206.0 L959.2,203.0 L959.3,200.0 L959.4,196.8 L959.5,193.6 L959.6,190.4 L959.7,187.0 L959.8,183.7 L959.9,180.3 L960.0,176.8 L960.1,173.4 L960.2,169.9 L960.3,166.4 L960.4,162.9 L960.5,159.3 L960.6,155.8 L960.7,152.3 L960.8,148.8 L960.9,145.3 L961.0,141.8 L961.1,138.4 L961.2,135.0 L961.3,131.6 L961.4,128.3 L961.5,125.0 L961.6,121.8 L961.7,118.7 L961.8,115.6 L961.9,112.6 L962.0,109.6 L962.1,106.8 L962.2,104.0 L962.3,101.3 L962.4,98.7 L962.5,96.2 L962.6,93.8 L962.7,91.6 L962.8,89.4 L962.9,87.3 L963.0,85.3 L963.1,83.5 L963.2,81.8 L963.3,80.1 L963.4,78.6 L963.5,77.3 L963.6,76.0 L963.7,74.9 L963.7,74.6 L963.8,75.3 L963.9,76.3 L964.0,77.4 L964.1,78.6 L964.2,79.9 L964.3,81.3 L964.4,82.8 L964.5,84.4 L964.6,86.0 L964.7,87.8 L964.8,89.7 L964.9,91.6 L965.0,93.6 L965.1,95.7 L965.2,97.9 L965.3,100.2 L965.4,102.5 L965.5,104.9 L965.6,107.4 L965.7,109.9 L965.8,112.5 L965.9,115.1 L966.0,117.8 L966.1,120.5 L966.2,123.3 L966.3,126.1 L966.4,128.9 L966.5,131.8 L966.6,134.6 L966.7,137.5 L966.8,140.5 L966.9,143.4 L967.0,146.3 L967.1,149.2 L967.2,152.1 L967.3,155.0 L967.4,157.9 L967.5,160.7 L967.6,163.6 L967.7,166.4 L967.8,169.1 L967.9,171.8 L968.0,174.5 L968.1,177.1 L968.2,179.7 L968.3,182.2 L968.4,184.7 L968.5,187.1 L968.6,189.4 L968.7,191.6 L968.8,193.8 L968.9,195.9 L969.0,197.9 L969.1,199.8 L969.2,201.7 L969.3,203.4 L969.4,205.1 L969.5,206.6 L969.6,208.1 L969.7,209.5 L969.8,210.7 L969.9,211.9 L970.0,213.0 L970.1,214.0 L970.2,214.5 L970.2,214.2 L970.3,213.3 L970.4,212.3 L970.5,211.3 L970.6,210.2 L970.7,209.0 L970.8,207.7 L970.9,206.3 L971.0,204.8 L971.1,203.2 L971.2,201.6 L971.3,199.9 L971.4,198.1 L971.5,196.2 L971.6,194.3 L971.7,192.3 L971.8,190.2 L971.9,188.1 L972.0,185.9 L972.1,183.7 L972.2,181.4 L972.3,179.0 L972.4,176.6 L972.5,174.2 L972.6,171.7 L972.7,169.2 L972.8,166.7 L972.9,164.1 L973.0,161.5 L973.1,159.0 L973.2,156.3 L973.3,153.7 L973.4,151.1 L973.5,148.5 L973.6,145.9 L973.7,143.3 L973.8,140.7 L973.9,138.1 L974.0,135.6 L974.1,133.1 L974.2,130.6 L974.3,128.1 L974.4,125.7 L974.5,123.3 L974.6,121.0 L974.7,118.7 L974.8,116.5 L974.9,114.3 L975.0,112.2 L975.1,110.2 L975.2,108.2 L975.3,106.3 L975.4,104.5 L975.5,102.8 L975.6,101.1 L975.7,99.5 L975.8,98.0 L975.9,96.5 L976.0,95.2 L976.1,93.9 L976.2,92.7 L976.3,91.7 L976.4,90.7 L976.5,89.7 L976.6,89.0 L976.6,89.0 L976.7,89.6 L976.8,90.3 L976.9,91.0 L977.0,91.8 L977.1,92.7 L977.2,93.6 L977.3,94.6 L977.4,95.6 L977.5,96.7 L977.6,97.9 L977.7,99.1 L977.8,100.4 L977.9,101.7 L978.0,103.1 L978.1,104.5 L978.2,106.0 L978.3,107.5 L978.4,109.0 L978.5,110.6 L978.6,112.3 L978.7,114.0 L978.8,115.7 L978.9,117.4 L979.0,119.2 L979.1,121.0 L979.2,122.9 L979.3,124.7 L979.4,126.6 L979.5,128.5 L979.6,130.3 L979.7,132.3 L979.8,134.2 L979.9,136.1 L980.0,138.0 L980.1,139.9 L980.2,141.8 L980.3,143.7 L980.4,145.6 L980.5,147.5 L980.6,149.3 L980.7,151.1 L980.8,152.9 L980.9,154.7 L981.0,156.5 L981.1,158.2 L981.2,159.9 L981.3,161.5 L981.4,163.1 L981.5,164.7 L981.6,166.2 L981.7,167.7 L981.8,169.2 L981.9,170.5 L982.0,171.9 L982.1,173.1 L982.2,174.4 L982.3,175.5 L982.4,176.6 L982.5,177.7 L982.6,178.7 L982.7,179.6 L982.8,180.5 L982.9,181.3 L983.0,182.0 L983.1,182.7 L983.2,183.3 L983.2,183.4 L983.3,183.0 L983.4,182.5 L983.5,182.0 L983.6,181.4 L983.7,180.7 L983.8,180.1 L983.9,179.3 L984.0,178.5 L984.1,177.7 L984.2,176.8 L984.3,175.9 L984.4,175.0 L984.5,174.0 L984.6,172.9 L984.7,171.8 L984.8,170.7 L984.9,169.6 L985.0,168.4 L985.1,167.2 L985.2,165.9 L985.3,164.7 L985.4,163.4 L985.5,162.0 L985.6,160.7 L985.7,159.3 L985.8,157.9 L985.9,156.5 L986.0,155.1 L986.1,153.7 L986.2,152.2 L986.3,150.8 L986.4,149.3 L986.5,147.8 L986.6,146.4 L986.7,144.9 L986.8,143.5 L986.9,142.0 L987.0,140.6 L987.1,139.1 L987.2,137.7 L987.3,136.3 L987.4,134.9 L987.5,133.5 L987.6,132.2 L987.7,130.8 L987.8,129.5 L987.9,128.3 L988.0,127.0 L988.1,125.8 L988.2,124.6 L988.3,123.4 L988.4,122.3 L988.5,121.2 L988.6,120.2 L988.7,119.2 L988.8,118.2 L988.9,117.3 L989.0,116.4 L989.1,115.6 L989.2,114.8 L989.3,114.0 L989.4,113.3 L989.5,112.7 L989.6,112.1 L989.7,111.5 L989.8,111.0 L989.9,110.6 L989.9,110.6 L990.0,110.9 L990.1,111.3 L990.2,111.8 L990.3,112.3 L990.4,112.8 L990.5,113.4 L990.6,114.0 L990.7,114.6 L990.8,115.3 L990.9,116.0 L991.0,116.7 L991.1,117.5 L991.2,118.3 L991.3,119.2 L991.4,120.0 L991.5,120.9 L991.6,121.9 L991.7,122.8 L991.8,123.8 L991.9,124.8 L992.0,125.8 L992.1,126.9 L992.2,128.0 L992.3,129.1 L992.4,130.2 L992.5,131.3 L992.6,132.4 L992.7,133.6 L992.8,134.7 L992.9,135.9 L993.0,137.1 L993.1,138.2 L993.2,139.4 L993.3,140.6 L993.4,141.8 L993.5,143.0 L993.6,144.1 L993.7,145.3 L993.8,146.5 L993.9,147.6 L994.0,148.7 L994.1,149.9 L994.2,151.0 L994.3,152.0 L994.4,153.1 L994.5,154.2 L994.6,155.2 L994.7,156.2 L994.8,157.2 L994.9,158.1 L995.0,159.1 L995.1,160.0 L995.2,160.8 L995.3,161.7 L995.4,162.5 L995.5,163.2 L995.6,164.0 L995.7,164.7 L995.8,165.4 L995.9,166.0 L996.0,166.6 L996.1,167.1 L996.2,167.7 L996.3,168.1 L996.4,168.6 L996.5,169.0 L996.6,169.3 L996.6,169.3 L996.7,169.0 L996.8,168.7 L996.9,168.3 L997.0,167.9 L997.1,167.5 L997.2,167.1 L997.3,166.7 L997.4,166.2 L997.5,165.7 L997.6,165.1 L997.7,164.5 L997.8,163.9 L997.9,163.3 L998.0,162.7 L998.1,162.0 L998.2,161.3 L998.3,160.6 L998.4,159.9 L998.5,159.1 L998.6,158.4 L998.7,157.6 L998.8,156.8 L998.9,156.0 L999.0,155.1 L999.1,154.3 L999.2,153.5 L999.3,152.6 L999.4,151.7 L999.5,150.9 L999.6,150.0 L999.7,149.1 L999.8,148.2 L999.9,147.4 L1000.0,146.5 L1000.1,145.6 L1000.2,144.7 L1000.3,143.9 L1000.4,143.0 L1000.5,142.2 L1000.6,141.3 L1000.7,140.5 L1000.8,139.7 L1000.9,138.9 L1001.0,138.1 L1001.1,137.3 L1001.2,136.6 L1001.3,135.8 L1001.4,135.1 L1001.5,134.4 L1001.6,133.8 L1001.7,133.1 L1001.8,132.5 L1001.9,131.9 L1002.0,131.3 L1002.1,130.8 L1002.2,130.3 L1002.3,129.8 L1002.4,129.3 L1002.5,128.9 L1002.6,128.5 L1002.7,128.1 L1002.8,127.8 L1002.9,127.5 L1003.0,127.2 L1003.0,127.1 L1003.1,127.3 L1003.2,127.5 L1003.3,127.8 L1003.4,128.1 L1003.5,128.4 L1003.6,128.7 L1003.7,129.1 L1003.8,129.5 L1003.9,129.9 L1004.0,130.3 L1004.1,130.7 L1004.2,131.2 L1004.3,131.7 L1004.4,132.2 L1004.5,132.7 L1004.6,133.2 L1004.7,133.8 L1004.8,134.4 L1004.9,135.0 L1005.0,135.6 L1005.1,136.2 L1005.2,136.8 L1005.3,137.4 L1005.4,138.1 L1005.5,138.7 L1005.6,139.4 L1005.7,140.1 L1005.8,140.8 L1005.9,141.4 L1006.0,142.1 L1006.1,142.8 L1006.2,143.5 L1006.3,144.2 L1006.4,144.8 L1006.5,145.5 L1006.6,146.2 L1006.7,146.9 L1006.8,147.5 L1006.9,148.2 L1007.0,148.8 L1007.1,149.4 L1007.2,150.1 L1007.3,150.7 L1007.4,151.3 L1007.5,151.8 L1007.6,152.4 L1007.7,152.9 L1007.8,153.5 L1007.9,154.0 L1008.0,154.5 L1008.1,154.9 L1008.2,155.4 L1008.3,155.8 L1008.4,156.2 L1008.5,156.6 L1008.6,157.0 L1008.7,157.3 L1008.8,157.6 L1008.9,157.9 L1009.0,158.2 L1009.1,158.4 L1009.2,158.6 L1009.2,158.7 L1009.3,158.5 L1009.4,158.3 L1009.5,158.1 L1009.6,157.8 L1009.7,157.6 L1009.8,157.3 L1009.9,157.0 L1010.0,156.7 L1010.1,156.3 L1010.2,156.0 L1010.3,155.6 L1010.4,155.2 L1010.5,154.8 L1010.6,154.3 L1010.7,153.9 L1010.8,153.4 L1010.9,152.9 L1011.0,152.4 L1011.1,151.9 L1011.2,151.4 L1011.3,150.9 L1011.4,150.4 L1011.5,149.8 L1011.6,149.3 L1011.7,148.7 L1011.8,148.2 L1011.9,147.6 L1012.0,147.1 L1012.1,146.5 L1012.2,146.0 L1012.3,145.5 L1012.4,144.9 L1012.5,144.4 L1012.6,143.9 L1012.7,143.3 L1012.8,142.8 L1012.9,142.3 L1013.0,141.8 L1013.1,141.4 L1013.2,140.9 L1013.3,140.5 L1013.4,140.0 L1013.5,139.6 L1013.6,139.2 L1013.7,138.9 L1013.8,138.5 L1013.9,138.2 L1014.0,137.8 L1014.1,137.5 L1014.2,137.3 L1014.3,137.0 L1014.4,136.8 L1014.5,136.6 L1014.6,136.4 L1014.7,136.3 L1014.7,136.4 L1014.8,136.5 L1014.9,136.6 L1015.0,136.8 L1015.1,137.0 L1015.2,137.1 L1015.3,137.3 L1015.4,137.6 L1015.5,137.8 L1015.6,138.0 L1015.7,138.3 L1015.8,138.5 L1015.9,138.8 L1016.0,139.1 L1016.1,139.4 L1016.2,139.7 L1016.3,140.0 L1016.4,140.4 L1016.5,140.7 L1016.6,141.0 L1016.7,141.4 L1016.8,141.7 L1016.9,142.1 L1017.0,142.5 L1017.1,142.9 L1017.2,143.2 L1017.3,143.6 L1017.4,144.0 L1017.5,144.4 L1017.6,144.8 L1017.7,145.2 L1017.8,145.6 L1017.9,146.0 L1018.0,146.4 L1018.1,146.8 L1018.2,147.1 L1018.3,147.5 L1018.4,147.9 L1018.5,148.3 L1018.6,148.7 L1018.7,149.0 L1018.8,149.4 L1018.9,149.7 L1019.0,150.1 L1019.1,150.4 L1019.2,150.7 L1019.3,151.1 L1019.4,151.4 L1019.5,151.7 L1019.6,151.9 L1019.7,152.2 L1019.8,152.5 L1019.9,152.7 L1020.0,153.0 L1020.1,153.2 L1020.2,153.4 L1020.3,153.6 L1020.4,153.8 L1020.5,154.0 L1020.6,154.1 L1020.7,154.3 L1020.8,154.4 L1020.8,154.4 L1020.9,154.4 L1021.0,154.3 L1021.1,154.2 L1021.2,154.0 L1021.3,153.9 L1021.4,153.7 L1021.5,153.6 L1021.6,153.4 L1021.7,153.2 L1021.8,153.0 L1021.9,152.8 L1022.0,152.6 L1022.1,152.3 L1022.2,152.1 L1022.3,151.9 L1022.4,151.6 L1022.5,151.3 L1022.6,151.1 L1022.7,150.8 L1022.8,150.5 L1022.9,150.2 L1023.0,149.9 L1023.1,149.6 L1023.2,149.3 L1023.3,149.0 L1023.4,148.7 L1023.5,148.4 L1023.6,148.1 L1023.7,147.7 L1023.8,147.4 L1023.9,147.1 L1024.0,146.8 L1024.1,146.4 L1024.2,146.1 L1024.3,145.8 L1024.4,145.5 L1024.5,145.2 L1024.6,144.9 L1024.7,144.5 L1024.8,144.2 L1024.9,143.9 L1025.0,143.6 L1025.1,143.4 L1025.2,143.1 L1025.3,142.8 L1025.4,142.5 L1025.5,142.3 L1025.6,142.0 L1025.7,141.8 L1025.8,141.5 L1025.9,141.3 L1026.0,141.1 L1026.1,140.9 L1026.2,140.7 L1026.3,140.5 L1026.4,140.4 L1026.5,140.2 L1026.6,140.0 L1026.7,139.9 L1026.8,139.8 L1026.9,139.7 L1027.0,139.5 L1027.0,139.5 L1027.1,139.6 L1027.2,139.7 L1027.3,139.8 L1027.4,139.9 L1027.5,140.0 L1027.6,140.2 L1027.7,140.3 L1027.8,140.5 L1027.9,140.7 L1028.0,140.9 L1028.1,141.1 L1028.2,141.3 L1028.3,141.5 L1028.4,141.7 L1028.5,141.9 L1028.6,142.1 L1028.7,142.4 L1028.8,142.6 L1028.9,142.9 L1029.0,143.1 L1029.1,143.4 L1029.2,143.7 L1029.3,144.0 L1029.4,144.2 L1029.5,144.5 L1029.6,144.8 L1029.7,145.1 L1029.8,145.4 L1029.9,145.7 L1030.0,146.0 L1030.1,146.3 L1030.2,146.6 L1030.3,146.9 L1030.4,147.2 L1030.5,147.5 L1030.6,147.8 L1030.7,148.1 L1030.8,148.3 L1030.9,148.6 L1031.0,148.9 L1031.1,149.2 L1031.2,149.4 L1031.3,149.7 L1031.4,150.0 L1031.5,150.2 L1031.6,150.5 L1031.7,150.7 L1031.8,150.9 L1031.9,151.2 L1032.0,151.4 L1032.1,151.6 L1032.2,151.8 L1032.3,152.0 L1032.4,152.1 L1032.5,152.3 L1032.6,152.5 L1032.7,152.6 L1032.8,152.7 L1032.9,152.9 L1033.0,153.0 L1033.1,153.1 L1033.2,153.2 L1033.2,153.2 L1033.3,153.1 L1033.4,153.0 L1033.5,152.9 L1033.6,152.8 L1033.7,152.7 L1033.8,152.5 L1033.9,152.4 L1034.0,152.2 L1034.1,152.0 L1034.2,151.8 L1034.3,151.6 L1034.4,151.4 L1034.5,151.2 L1034.6,151.0 L1034.7,150.8 L1034.8,150.6 L1034.9,150.3 L1035.0,150.1 L1035.1,149.8 L1035.2,149.6 L1035.3,149.3 L1035.4,149.0 L1035.5,148.7 L1035.6,148.5 L1035.7,148.2 L1035.8,147.9 L1035.9,147.6 L1036.0,147.3 L1036.1,147.0 L1036.2,146.7 L1036.3,146.4 L1036.4,146.1 L1036.5,145.8 L1036.6,145.5 L1036.7,145.2 L1036.8,144.9 L1036.9,144.6 L1037.0,144.3 L1037.1,144.0 L1037.2,143.7 L1037.3,143.4 L1037.4,143.2 L1037.5,142.9 L1037.6,142.6 L1037.7,142.4 L1037.8,142.1 L1037.9,141.8 L1038.0,141.6 L1038.1,141.4 L1038.2,141.1 L1038.3,140.9 L1038.4,140.7 L1038.5,140.5 L1038.6,140.3 L1038.7,140.1 L1038.8,139.9 L1038.9,139.7 L1039.0,139.6 L1039.1,139.4 L1039.2,139.3 L1039.3,139.2 L1039.4,139.0 L1039.5,138.9 L1039.6,138.8 L1039.7,138.8 L1039.7,138.8 L1039.8,138.9 L1039.9,139.0 L1040.0,139.2 L1040.1,139.3 L1040.2,139.4 L1040.3,139.6 L1040.4,139.8 L1040.5,140.0 L1040.6,140.2 L1040.7,140.4 L1040.8,140.6 L1040.9,140.8 L1041.0,141.0 L1041.1,141.3 L1041.2,141.5 L1041.3,141.8 L1041.4,142.0 L1041.5,142.3 L1041.6,142.6 L1041.7,142.8 L1041.8,143.1 L1041.9,143.4 L1042.0,143.7 L1042.1,144.0 L1042.2,144.3 L1042.3,144.6 L1042.4,144.9 L1042.5,145.2 L1042.6,145.5 L1042.7,145.9 L1042.8,146.2 L1042.9,146.5 L1043.0,146.8 L1043.1,147.1 L1043.2,147.4 L1043.3,147.7 L1043.4,148.0 L1043.5,148.3 L1043.6,148.5 L1043.7,148.8 L1043.8,149.1 L1043.9,149.4 L1044.0,149.6 L1044.1,149.9 L1044.2,150.1 L1044.3,150.3 L1044.4,150.6 L1044.5,150.8 L1044.6,151.0 L1044.7,151.2 L1044.8,151.4 L1044.9,151.6 L1045.0,151.7 L1045.1,151.9 L1045.2,152.0 L1045.3,152.1 L1045.4,152.3 L1045.5,152.4 L1045.6,152.5 L1045.6,152.5 L1045.7,152.4 L1045.8,152.3 L1045.9,152.2 L1046.0,152.0 L1046.1,151.9 L1046.2,151.8 L1046.3,151.6 L1046.4,151.5 L1046.5,151.3 L1046.6,151.1 L1046.7,150.9 L1046.8,150.7 L1046.9,150.5 L1047.0,150.3 L1047.1,150.1 L1047.2,149.9 L1047.3,149.7 L1047.4,149.4 L1047.5,149.2 L1047.6,148.9 L1047.7,148.7 L1047.8,148.4 L1047.9,148.2 L1048.0,147.9 L1048.1,147.6 L1048.2,147.4 L1048.3,147.1 L1048.4,146.8 L1048.5,146.5 L1048.6,146.2 L1048.7,146.0 L1048.8,145.7 L1048.9,145.4 L1049.0,145.1 L1049.1,144.8 L1049.2,144.6 L1049.3,144.3 L1049.4,144.0 L1049.5,143.8 L1049.6,143.5 L1049.7,143.2 L1049.8,143.0 L1049.9,142.7 L1050.0,142.5 L1050.1,142.3 L1050.2,142.0 L1050.3,141.8 L1050.4,141.6 L1050.5,141.4 L1050.6,141.2 L1050.7,141.0 L1050.8,140.8 L1050.9,140.6 L1051.0,140.5 L1051.1,140.3 L1051.2,140.2 L1051.3,140.0 L1051.4,139.9 L1051.5,139.8 L1051.6,139.7 L1051.7,139.6 L1051.8,139.5 L1051.8,139.5 L1051.9,139.6 L1052.0,139.7 L1052.1,139.8 L1052.2,140.0 L1052.3,140.1 L1052.4,140.2 L1052.5,140.4 L1052.6,140.5 L1052.7,140.7 L1052.8,140.9 L1052.9,141.1 L1053.0,141.3 L1053.1,141.5 L1053.2,141.7 L1053.3,141.9 L1053.4,142.1 L1053.5,142.3 L1053.6,142.6 L1053.7,142.8 L1053.8,143.1 L1053.9,143.3 L1054.0,143.6 L1054.1,143.8 L1054.2,144.1 L1054.3,144.4 L1054.4,144.7 L1054.5,144.9 L1054.6,145.2 L1054.7,145.5 L1054.8,145.8 L1054.9,146.1 L1055.0,146.3 L1055.1,146.6 L1055.2,146.9 L1055.3,147.2 L1055.4,147.4 L1055.5,147.7 L1055.6,148.0 L1055.7,148.3 L1055.8,148.5 L1055.9,148.8 L1056.0,149.0 L1056.1,149.3 L1056.2,149.5 L1056.3,149.8 L1056.4,150.0 L1056.5,150.2 L1056.6,150.4 L1056.7,150.6 L1056.8,150.8 L1056.9,151.0 L1057.0,151.2 L1057.1,151.4 L1057.2,151.5 L1057.3,151.7 L1057.4,151.8 L1057.5,152.0 L1057.6,152.1 L1057.7,152.2 L1057.8,152.3 L1057.9,152.4 L1058.0,152.5 L1058.0,152.4 L1058.1,152.4 L1058.2,152.3 L1058.3,152.2 L1058.4,152.1 L1058.5,151.9 L1058.6,151.8 L1058.7,151.7 L1058.8,151.5 L1058.9,151.4 L1059.0,151.2 L1059.1,151.0 L1059.2,150.9 L1059.3,150.7 L1059.4,150.5 L1059.5,150.3 L1059.6,150.1 L1059.7,149.9 L1059.8,149.7 L1059.9,149.4 L1060.0,149.2 L1060.1,149.0 L1060.2,148.8 L1060.3,148.5 L1060.4,148.3 L1060.5,148.0 L1060.6,147.8 L1060.7,147.5 L1060.8,147.3 L1060.9,147.0 L1061.0,146.8 L1061.1,146.5 L1061.2,146.3 L1061.3,146.0 L1061.4,145.8 L1061.5,145.5 L1061.6,145.3 L1061.7,145.0 L1061.8,144.8 L1061.9,144.5 L1062.0,144.3 L1062.1,144.1 L1062.2,143.8 L1062.3,143.6 L1062.4,143.4 L1062.5,143.2 L1062.6,143.0 L1062.7,142.8 L1062.8,142.6 L1062.9,142.4 L1063.0,142.2 L1063.1,142.1 L1063.2,141.9 L1063.3,141.7 L1063.4,141.6 L1063.5,141.4 L1063.6,141.3 L1063.7,141.2 L1063.8,141.1 L1063.9,141.0 L1064.0,140.9 L1064.1,140.8 L1064.2,140.8 L1064.2,140.8 L1064.3,140.9 L1064.4,141.0 L1064.5,141.1 L1064.6,141.2 L1064.7,141.3 L1064.8,141.4 L1064.9,141.5 L1065.0,141.7 L1065.1,141.8 L1065.2,142.0 L1065.3,142.1 L1065.4,142.3 L1065.5,142.5 L1065.6,142.7 L1065.7,142.9 L1065.8,143.0 L1065.9,143.2 L1066.0,143.5 L1066.1,143.7 L1066.2,143.9 L1066.3,144.1 L1066.4,144.3 L1066.5,144.6 L1066.6,144.8 L1066.7,145.0 L1066.8,145.3 L1066.9,145.5 L1067.0,145.7 L1067.1,146.0 L1067.2,146.2 L1067.3,146.5 L1067.4,146.7 L1067.5,147.0 L1067.6,147.2 L1067.7,147.4 L1067.8,147.7 L1067.9,147.9 L1068.0,148.1 L1068.1,148.4 L1068.2,148.6 L1068.3,148.8 L1068.4,149.0 L1068.5,149.3 L1068.6,149.5 L1068.7,149.7 L1068.8,149.9 L1068.9,150.1 L1069.0,150.2 L1069.1,150.4 L1069.2,150.6 L1069.3,150.7 L1069.4,150.9 L1069.5,151.0 L1069.6,151.2 L1069.7,151.3 L1069.8,151.4 L1069.9,151.6 L1070.0,151.7 L1070.1,151.8 L1070.2,151.9 L1070.3,151.9 L1070.3,152.0 L1070.4,151.9 L1070.5,151.9 L1070.6,151.8 L1070.7,151.7 L1070.8,151.6 L1070.9,151.5 L1071.0,151.4 L1071.1,151.2 L1071.2,151.1 L1071.3,151.0 L1071.4,150.8 L1071.5,150.7 L1071.6,150.5 L1071.7,150.3 L1071.8,150.2 L1071.9,150.0 L1072.0,149.8 L1072.1,149.6 L1072.2,149.4 L1072.3,149.2 L1072.4,149.0 L1072.5,148.8 L1072.6,148.6 L1072.7,148.4 L1072.8,148.2 L1072.9,147.9 L1073.0,147.7 L1073.1,147.5 L1073.2,147.3 L1073.3,147.1 L1073.4,146.8 L1073.5,146.6 L1073.6,146.4 L1073.7,146.1 L1073.8,145.9 L1073.9,145.7 L1074.0,145.5 L1074.1,145.3 L1074.2,145.0 L1074.3,144.8 L1074.4,144.6 L1074.5,144.4 L1074.6,144.2 L1074.7,144.0 L1074.8,143.8 L1074.9,143.6 L1075.0,143.4 L1075.1,143.3 L1075.2,143.1 L1075.3,142.9 L1075.4,142.8 L1075.5,142.6 L1075.6,142.5 L1075.7,142.3 L1075.8,142.2 L1075.9,142.1 L1076.0,142.0 L1076.1,141.9 L1076.2,141.8 L1076.3,141.7 L1076.4,141.6 L1076.5,141.5 L1076.5,141.5 L1076.6,141.5 L1076.7,141.6 L1076.8,141.7 L1076.9,141.8 L1077.0,141.9 L1077.1,141.9 L1077.2,142.1 L1077.3,142.2 L1077.4,142.3 L1077.5,142.4 L1077.6,142.5 L1077.7,142.7 L1077.8,142.8 L1077.9,143.0 L1078.0,143.1 L1078.1,143.3 L1078.2,143.4 L1078.3,143.6 L1078.4,143.8 L1078.5,143.9 L1078.6,144.1 L1078.7,144.3 L1078.8,144.5 L1078.9,144.7 L1079.0,144.9 L1079.1,145.1 L1079.2,145.3 L1079.3,145.5 L1079.4,145.7 L1079.5,145.9 L1079.6,146.1 L1079.7,146.3 L1079.8,146.5 L1079.9,146.7 L1080.0,146.9 L1080.1,147.1 L1080.2,147.2 L1080.3,147.4 L1080.4,147.6 L1080.5,147.8 L1080.6,148.0 L1080.7,148.2 L1080.8,148.4 L1080.9,148.5 L1081.0,148.7 L1081.1,148.9 L1081.2,149.0 L1081.3,149.2 L1081.4,149.3 L1081.5,149.5 L1081.6,149.6 L1081.7,149.8 L1081.8,149.9 L1081.9,150.0 L1082.0,150.1 L1082.1,150.2 L1082.2,150.3 L1082.3,150.4 L1082.4,150.5 L1082.5,150.6 L1082.6,150.7 L1082.7,150.7 L1082.7,150.7 L1082.8,150.7 L1082.9,150.6 L1083.0,150.6 L1083.1,150.5 L1083.2,150.4 L1083.3,150.3 L1083.4,150.2 L1083.5,150.2 L1083.6,150.1 L1083.7,150.0 L1083.8,149.8 L1083.9,149.7 L1084.0,149.6 L1084.1,149.5 L1084.2,149.4 L1084.3,149.2 L1084.4,149.1 L1084.5,148.9 L1084.6,148.8 L1084.7,148.7 L1084.8,148.5 L1084.9,148.3 L1085.0,148.2 L1085.1,148.0 L1085.2,147.9 L1085.3,147.7 L1085.4,147.5 L1085.5,147.4 L1085.6,147.2 L1085.7,147.0 L1085.8,146.9 L1085.9,146.7 L1086.0,146.5 L1086.1,146.3 L1086.2,146.2 L1086.3,146.0 L1086.4,145.8 L1086.5,145.7 L1086.6,145.5 L1086.7,145.3 L1086.8,145.2 L1086.9,145.0 L1087.0,144.8 L1087.1,144.7 L1087.2,144.5 L1087.3,144.4 L1087.4,144.2 L1087.5,144.1 L1087.6,144.0 L1087.7,143.8 L1087.8,143.7 L1087.9,143.6 L1088.0,143.5 L1088.1,143.4 L1088.2,143.2 L1088.3,143.1 L1088.4,143.0 L1088.5,143.0 L1088.6,142.9 L1088.7,142.8 L1088.8,142.7 L1088.9,142.6 L1089.0,142.6 L1089.1,142.5 L1089.2,142.5 L1089.2,142.5 L1089.3,142.6 L1089.4,142.6 L1089.5,142.7 L1089.6,142.7 L1089.7,142.8 L1089.8,142.9 L1089.9,142.9 L1090.0,143.0 L1090.1,143.1 L1090.2,143.2 L1090.3,143.3 L1090.4,143.4 L1090.5,143.5 L1090.6,143.6 L1090.7,143.7 L1090.8,143.8 L1090.9,144.0 L1091.0,144.1 L1091.1,144.2 L1091.2,144.3 L1091.3,144.5 L1091.4,144.6 L1091.5,144.7 L1091.6,144.9 L1091.7,145.0 L1091.8,145.2 L1091.9,145.3 L1092.0,145.4 L1092.1,145.6 L1092.2,145.7 L1092.3,145.9 L1092.4,146.0 L1092.5,146.1 L1092.6,146.3 L1092.7,146.4 L1092.8,146.6 L1092.9,146.7 L1093.0,146.8 L1093.1,147.0 L1093.2,147.1 L1093.3,147.2 L1093.4,147.3 L1093.5,147.4 L1093.6,147.6 L1093.7,147.7 L1093.8,147.8 L1093.9,147.9 L1094.0,148.0 L1094.1,148.1 L1094.2,148.2 L1094.3,148.2 L1094.4,148.3 L1094.5,148.4 L1094.6,148.5 L1094.7,148.5 L1094.8,148.6 L1094.9,148.7 L1095.0,148.7 L1095.1,148.8 L1095.1,148.8 L1095.2,148.7 L1095.3,148.7 L1095.4,148.6 L1095.5,148.6 L1095.6,148.5 L1095.7,148.5 L1095.8,148.4 L1095.9,148.3 L1096.0,148.3 L1096.1,148.2 L1096.2,148.1 L1096.3,148.0 L1096.4,147.9 L1096.5,147.8 L1096.6,147.8 L1096.7,147.7 L1096.8,147.6 L1096.9,147.5 L1097.0,147.4 L1097.1,147.3 L1097.2,147.1 L1097.3,147.0 L1097.4,146.9 L1097.5,146.8 L1097.6,146.7 L1097.7,146.6 L1097.8,146.5 L1097.9,146.3 L1098.0,146.2 L1098.1,146.1 L1098.2,146.0 L1098.3,145.9 L1098.4,145.7 L1098.5,145.6 L1098.6,145.5 L1098.7,145.4 L1098.8,145.3 L1098.9,145.2 L1099.0,145.0 L1099.1,144.9 L1099.2,144.8 L1099.3,144.7 L1099.4,144.6 L1099.5,144.5 L1099.6,144.4 L1099.7,144.3 L1099.8,144.2 L1099.9,144.1 L1100.0,144.0 L1100.1,143.9 L1100.2,143.9 L1100.3,143.8 L1100.4,143.7 L1100.5,143.6 L1100.6,143.6 L1100.7,143.5 L1100.8,143.5 L1100.9,143.4 L1101.0,143.3 L1101.1,143.3 L1101.2,143.3 L1101.3,143.2 L1101.3,143.2 L1101.4,143.3 L1101.5,143.3 L1101.6,143.3 L1101.7,143.3 L1101.8,143.4 L1101.9,143.4 L1102.0,143.5 L1102.1,143.5 L1102.2,143.6 L1102.3,143.6 L1102.4,143.7 L1102.5,143.8 L1102.6,143.8 L1102.7,143.8 L1102.8,143.9 L1102.9,143.9 L1103.0,144.0 L1103.1,144.0 L1103.2,144.0 M452.1,171.3 L452.2,173.7 L452.3,176.1 L452.4,178.0 L452.5,179.9 L452.6,181.7 L452.7,183.5 L452.8,185.3 L452.9,187.1 L453.0,188.9 L453.1,190.6 L453.2,192.4 L453.3,194.2 L453.4,196.0 L453.5,197.8 L453.6,199.3 L453.7,200.6 L453.8,201.6 L453.8,203.1 L453.9,200.6 L454.0,199.3 L454.1,197.8 L454.2,196.0 L454.3,194.2 L454.4,192.4 L454.5,190.6 L454.6,188.9 L454.7,187.1 L454.8,185.3 L454.9,183.5 L455.0,181.7 L455.1,179.9 L455.2,177.9 L455.3,175.8 L455.4,173.0 L455.6,170.0 L455.7,167.0 L455.9,163.9 L456.0,160.7 L456.1,157.6 L456.3,154.5 L456.4,151.3 L456.6,148.2 L456.7,145.0 L456.8,141.8 L456.9,138.6 L457.0,135.4 L457.1,132.3 L457.2,129.1 L457.3,125.9 L457.4,122.7 L457.5,119.5 L457.6,116.3 L457.7,113.2 L457.8,110.0 L457.9,106.8 L458.0,103.6 L458.1,100.4 L458.2,97.2 L458.3,94.1 L458.4,91.0 L458.5,88.4 L458.6,86.2 L458.7,82.0 L458.7,85.3 L458.8,87.3 L458.9,89.8 L459.0,92.7 L459.1,96.0 L459.2,99.3 L459.3,102.6 L459.4,105.8 L459.5,108.8 L459.6,111.5 L459.7,113.6 L459.8,114.0 L459.9,114.1 L460.0,114.0 L460.1,113.6 L460.2,113.3 L460.3,113.2 L460.4,114.4 L460.5,116.7 L460.6,121.1 L460.7,132.1 L460.8,143.3 L460.9,147.5 L460.9,151.7 L461.0,154.9 L461.1,157.0 L461.1,159.2 L461.2,161.3 L461.3,163.5 L461.3,165.6 L461.4,167.8 L461.5,169.9 L461.6,172.2 L461.6,174.5 L461.7,176.9 L461.8,180.0 L461.9,183.2 L462.0,186.5 L462.1,189.8 L462.2,193.2 L462.3,196.6 L462.4,199.9 L462.5,203.3 L462.6,206.6 L462.7,210.0 L462.8,213.4 L462.9,216.7 L463.0,219.6 L463.1,222.0 L463.2,223.9 L463.2,226.8 L463.3,222.0 L463.4,219.6 L463.5,216.7 L463.6,213.4 L463.7,210.0 L463.8,206.6 L463.9,203.3 L464.0,199.9 L464.1,196.6 L464.2,193.2 L464.3,189.8 L464.4,186.5 L464.5,183.1 L464.6,179.7 L464.7,176.4 L464.8,173.0 L465.0,169.6 L465.1,166.2 L465.3,162.8 L465.4,159.3 L465.6,155.9 L465.7,152.6 L465.9,149.2 L466.0,146.0 L466.1,142.9 L466.2,139.7 L466.3,136.6 L466.4,133.5 L466.5,130.4 L466.6,127.3 L466.7,124.2 L466.8,121.1 L466.9,118.0 L467.0,114.9 L467.1,111.8 L467.2,108.7 L467.3,105.6 L467.4,102.5 L467.5,99.4 L467.6,96.6 L467.7,94.2 L467.8,92.3 L467.8,89.0 L467.9,93.0 L468.0,95.2 L468.1,97.9 L468.2,101.0 L468.3,104.3 L468.4,107.6 L468.5,110.9 L468.6,114.0 L468.7,116.9 L468.8,119.5 L468.9,120.7 L469.0,121.0 L469.1,121.0 L469.2,120.8 L469.3,120.4 L469.4,120.1 L469.5,120.0 L469.6,120.2 L469.7,120.7 L469.8,123.1 L469.9,126.6 L470.0,130.5 L470.1,134.7 L470.2,138.9 L470.3,142.8 L470.4,146.6 L470.5,149.2 L470.5,151.4 L470.6,153.4 L470.7,155.2 L470.8,156.9 L470.8,158.7 L470.9,160.5 L471.0,162.2 L471.1,164.0 L471.1,165.8 L471.2,167.6 L471.3,169.3 L471.4,171.1 L471.4,173.0 L471.5,175.0 L471.6,177.1 L471.7,180.2 L471.8,183.4 L471.9,186.7 L472.0,190.1 L472.1,193.5 L472.2,197.0 L472.3,200.4 L472.4,203.8 L472.5,207.2 L472.6,210.7 L472.7,214.1 L472.8,217.5 L472.9,220.5 L473.0,222.9 L473.1,224.9 L473.1,227.8 L473.2,222.9 L473.3,220.5 L473.4,217.5 L473.5,214.1 L473.6,210.7 L473.7,207.2 L473.8,203.8 L473.9,200.4 L474.0,197.0 L474.1,193.5 L474.2,190.1 L474.3,186.7 L474.4,183.3 L474.5,179.8 L474.6,176.4 L474.7,173.0 L474.9,169.6 L475.0,166.2 L475.2,162.8 L475.3,159.3 L475.5,155.9 L475.6,152.5 L475.8,149.1 L475.9,145.6 L476.0,142.2 L476.1,138.7 L476.2,135.3 L476.3,131.8 L476.4,128.3 L476.5,124.9 L476.6,121.4 L476.7,118.0 L476.8,114.5 L476.9,111.0 L477.0,107.6 L477.1,104.1 L477.2,100.6 L477.3,97.2 L477.4,93.7 L477.5,90.5 L477.6,87.9 L477.7,85.7 L477.7,82.0 L477.8,86.1 L477.9,88.3 L478.0,90.9 L478.1,94.0 L478.2,97.3 L478.3,100.6 L478.4,103.9 L478.5,107.1 L478.6,109.9 L478.7,112.6 L478.8,113.8 L478.9,114.0 L479.0,114.1 L479.1,113.8 L479.2,113.5 L479.3,113.2 L479.4,113.3 L479.5,114.1 L479.6,115.7 L479.7,121.2 L479.8,128.8 L479.9,136.5 L480.0,144.4 L480.1,148.5 L480.1,151.6 L480.2,154.2 L480.3,156.3 L480.3,158.3 L480.4,160.3 L480.5,162.3 L480.6,164.3 L480.6,166.3 L480.7,168.4 L480.8,170.4 L480.9,172.5 L480.9,174.7 L481.0,177.0 L481.1,180.2 L481.2,183.5 L481.3,186.9 L481.4,190.4 L481.5,193.9 L481.6,197.4 L481.7,200.9 L481.8,204.3 L481.9,207.8 L482.0,211.3 L482.1,214.8 L482.2,218.3 L482.3,221.3 L482.4,223.8 L482.5,225.8 L482.5,228.8 L482.6,223.8 L482.7,221.3 L482.8,218.3 L482.9,214.8 L483.0,211.3 L483.1,207.8 L483.2,204.3 L483.3,200.9 L483.4,197.4 L483.5,193.9 L483.6,190.4 L483.7,186.9 L483.8,183.4 L483.9,180.0 L484.0,176.6 L484.1,173.4 L484.3,170.2 L484.4,167.0 L484.6,163.9 L484.7,160.8 L484.8,157.7 L485.0,154.6 L485.1,151.5 L485.3,148.5 L485.4,145.6 L485.5,142.8 L485.6,139.9 L485.7,137.1 L485.8,134.4 L485.9,131.6 L486.0,128.8 L486.1,126.0 L486.2,123.2 L486.3,120.4 L486.4,117.6 L486.5,114.8 L486.6,112.0 L486.7,109.2 L486.8,106.4 L486.9,103.6 L487.0,100.9 L487.1,98.1 L487.2,95.8 L487.3,93.9 L487.4,90.0 L487.4,92.8 L487.5,94.8 L487.6,97.3 L487.7,100.2 L487.8,103.5 L487.9,106.8 L488.0,110.1 L488.1,113.4 L488.2,116.4 L488.3,119.1 L488.4,121.4 L488.5,121.9 L488.6,122.0 L488.7,121.9 L488.8,121.6 L488.9,121.3 L489.0,121.0 L489.1,120.9 L489.2,121.0 L489.3,121.6 L489.4,123.8 L489.5,126.3 L489.6,129.0 L489.7,131.9 L489.8,134.8 L489.9,137.7 L490.0,140.6 L490.1,143.4 L490.2,146.1 L490.3,148.4 L490.3,150.3 L490.4,152.0 L490.5,153.7 L490.6,155.3 L490.7,156.8 L490.7,158.4 L490.8,160.0 L490.9,161.6 L491.0,163.2 L491.1,164.8 L491.1,166.4 L491.2,168.0 L491.3,169.5 L491.4,171.1 L491.4,172.9 L491.5,174.9 L491.6,177.1 L491.7,180.8 L491.8,185.3 L491.9,190.0 L492.0,194.9 L492.1,199.9 L492.2,205.0 L492.3,210.0 L492.4,215.0 L492.5,220.0 L492.6,225.1 L492.7,229.6 L492.8,233.4 L492.9,236.5 L492.9,241.7 L493.0,235.4 L493.1,232.0 L493.2,227.9 L493.3,223.1 L493.4,218.1 L493.5,213.1 L493.6,208.0 L493.7,203.0 L493.8,198.0 L493.9,193.0 L494.0,188.0 L494.1,182.9 L494.2,178.0 L494.3,173.0 L494.5,168.1 L494.7,163.3 L494.8,158.4 L495.0,153.5 L495.2,148.6 L495.3,143.6 L495.4,138.6 L495.5,133.6 L495.6,128.5 L495.7,123.5 L495.8,118.5 L495.9,113.4 L496.0,108.4 L496.1,103.4 L496.2,98.3 L496.3,93.6 L496.4,89.5 L496.5,86.0 L496.5,80.8 L496.6,85.2 L496.7,87.0 L496.8,89.4 L496.9,92.4 L497.0,95.7 L497.1,99.0 L497.2,102.3 L497.3,105.5 L497.4,108.4 L497.5,111.0 L497.6,112.5 L497.7,112.8 L497.8,112.8 L497.9,112.6 L498.0,112.3 L498.1,112.0 L498.2,111.7 L498.3,111.7 L498.4,111.9 L498.5,113.1 L498.6,115.2 L498.7,117.5 L498.8,120.0 L498.9,122.6 L499.0,125.3 L499.1,127.9 L499.2,130.5 L499.3,133.1 L499.4,135.8 L499.5,138.4 L499.6,141.0 L499.7,143.5 L499.8,145.9 L499.9,148.2 L500.0,149.8 L500.0,151.3 L500.1,152.8 L500.2,154.1 L500.3,155.5 L500.4,156.9 L500.4,158.2 L500.5,159.6 L500.6,161.0 L500.7,162.4 L500.8,163.7 L500.9,165.1 L500.9,166.5 L501.0,167.8 L501.1,169.2 L501.2,170.6 L501.3,171.9 L501.3,173.5 L501.4,175.3 L501.5,177.4 L501.6,181.1 L501.7,185.5 L501.8,190.1 L501.9,195.0 L502.0,200.0 L502.1,204.9 L502.2,209.9 L502.3,214.8 L502.4,219.8 L502.5,224.7 L502.6,229.2 L502.7,233.0 L502.8,236.0 L502.8,241.2 L502.9,235.0 L503.0,231.7 L503.1,227.7 L503.2,222.9 L503.3,218.0 L503.4,213.0 L503.5,208.1 L503.6,203.1 L503.7,198.1 L503.8,193.2 L503.9,188.3 L504.0,183.4 L504.1,178.5 L504.2,173.9 L504.4,169.5 L504.6,165.1 L504.7,160.8 L504.9,156.4 L505.0,152.1 L505.2,147.8 L505.3,143.4 L505.4,139.0 L505.5,134.6 L505.6,130.2 L505.7,125.8 L505.8,121.4 L505.9,117.0 L506.0,112.7 L506.1,108.3 L506.2,103.9 L506.3,99.5 L506.4,95.1 L506.5,91.3 L506.6,88.0 L506.7,82.0 L506.7,85.4 L506.8,87.1 L506.9,89.3 L507.0,92.0 L507.1,95.3 L507.2,98.6 L507.3,101.9 L507.4,105.2 L507.5,108.3 L507.6,111.0 L507.7,113.5 L507.8,113.9 L507.9,114.1 L508.0,114.0 L508.1,113.7 L508.2,113.4 L508.3,113.0 L508.4,112.9 L508.5,113.0 L508.6,113.3 L508.7,115.3 L508.8,117.4 L508.9,119.7 L509.0,122.3 L509.1,124.8 L509.2,127.4 L509.3,129.9 L509.4,132.4 L509.5,135.0 L509.6,137.5 L509.7,140.1 L509.8,142.6 L509.9,145.0 L510.0,147.3 L510.1,149.1 L510.1,150.6 L510.2,152.1 L510.3,153.5 L510.4,154.9 L510.5,156.3 L510.6,157.6 L510.6,159.0 L510.7,160.4 L510.8,161.7 L510.9,163.1 L511.0,164.5 L511.0,165.9 L511.1,167.2 L511.2,168.6 L511.3,170.0 L511.4,171.3 L511.4,172.8 L511.5,174.8 L511.6,177.2 L511.7,181.0 L511.8,187.3 L511.9,194.1 L512.0,201.3 L512.1,208.9 L512.2,216.4 L512.3,223.9 L512.4,231.5 L512.5,238.3 L512.6,244.0 L512.7,248.7 L512.7,256.5 L512.8,247.2 L512.9,242.1 L513.0,236.0 L513.1,228.9 L513.2,221.3 L513.3,213.8 L513.4,206.3 L513.5,198.7 L513.6,191.4 L513.7,184.4 L513.8,177.6 L513.9,172.6 L514.1,167.8 L514.2,163.2 L514.3,158.9 L514.4,154.6 L514.5,150.3 L514.6,146.0 L514.7,141.7 L514.8,137.4 L514.9,133.1 L515.0,128.8 L515.1,124.5 L515.2,120.2 L515.3,115.9 L515.4,111.7 L515.5,107.4 L515.5,103.1 L515.6,98.8 L515.7,94.7 L515.8,91.0 L515.9,87.7 L516.0,83.8 M452.1,171.3 L452.2,173.7 L452.3,176.1 L452.4,178.0 L452.5,179.9 L452.6,181.7 L452.7,183.5 L452.8,185.3 L452.9,187.1 L453.0,188.9 L453.1,190.6 L453.2,192.4 L453.3,194.2 L453.4,196.0 L453.5,197.8 L453.6,199.3 L453.7,200.6 L453.8,201.6 L453.8,203.1 L453.9,200.6 L454.0,199.3 L454.1,197.8 L454.2,196.0 L454.3,194.2 L454.4,192.4 L454.5,190.6 L454.6,188.9 L454.7,187.1 L454.8,185.3 L454.9,183.5 L455.0,181.7 L455.1,179.9 L455.2,177.9 L455.3,175.8 L455.4,173.0 L455.4,170.0 L455.5,167.0 L455.5,163.9 L455.6,160.7 L455.7,157.6 L455.7,154.5 L455.8,151.3 L455.8,148.2 L455.9,145.0 L456.0,141.8 L456.1,138.6 L456.2,135.4 L456.3,132.3 L456.4,129.1 L456.5,125.9 L456.6,122.7 L456.7,119.5 L456.8,116.3 L456.9,113.2 L457.0,110.0 L457.1,106.8 L457.2,103.6 L457.3,100.4 L457.4,97.2 L457.5,94.1 L457.6,91.0 L457.7,88.4 L457.8,86.2 L457.9,82.0 L457.9,85.3 L458.0,87.3 L458.1,89.8 L458.2,92.7 L458.3,96.0 L458.4,99.3 L458.5,102.6 L458.6,105.8 L458.7,108.8 L458.8,111.5 L458.9,113.6 L459.0,114.0 L459.1,114.1 L459.2,114.0 L459.3,113.6 L459.4,113.3 L459.5,113.2 L459.6,114.4 L459.7,116.7 L459.8,121.1 L459.9,132.1 L460.0,143.3 L460.1,147.5 L460.3,151.7 L460.4,154.9 L460.5,157.0 L460.7,159.2 L460.8,161.3 L460.9,163.5 L461.1,165.6 L461.2,167.8 L461.3,169.9 L461.4,172.2 L461.6,174.5 L461.7,176.9 L461.8,180.0 L461.9,183.2 L462.0,186.5 L462.1,189.8 L462.2,193.2 L462.3,196.6 L462.4,199.9 L462.5,203.3 L462.6,206.6 L462.7,210.0 L462.8,213.4 L462.9,216.7 L463.0,219.6 L463.1,222.0 L463.2,223.9 L463.2,226.8 L463.3,222.0 L463.4,219.6 L463.5,216.7 L463.6,213.4 L463.7,210.0 L463.8,206.6 L463.9,203.3 L464.0,199.9 L464.1,196.6 L464.2,193.2 L464.3,189.8 L464.4,186.5 L464.5,183.1 L464.6,179.7 L464.7,176.4 L464.8,173.0 L464.8,169.6 L464.9,166.2 L464.9,162.8 L465.0,159.3 L465.0,155.9 L465.1,152.6 L465.1,149.2 L465.2,146.0 L465.3,142.9 L465.4,139.7 L465.5,136.6 L465.6,133.5 L465.7,130.4 L465.8,127.3 L465.9,124.2 L466.0,121.1 L466.1,118.0 L466.2,114.9 L466.3,111.8 L466.4,108.7 L466.5,105.6 L466.6,102.5 L466.7,99.4 L466.8,96.6 L466.9,94.2 L467.0,92.3 L467.0,89.0 L467.1,93.0 L467.2,95.2 L467.3,97.9 L467.4,101.0 L467.5,104.3 L467.6,107.6 L467.7,110.9 L467.8,114.0 L467.9,116.9 L468.0,119.5 L468.1,120.7 L468.2,121.0 L468.3,121.0 L468.4,120.8 L468.5,120.4 L468.6,120.1 L468.7,120.0 L468.8,120.2 L468.9,120.7 L469.0,123.1 L469.1,126.6 L469.2,130.5 L469.3,134.7 L469.4,138.9 L469.5,142.8 L469.6,146.6 L469.7,149.2 L469.9,151.4 L470.0,153.4 L470.1,155.2 L470.2,156.9 L470.4,158.7 L470.5,160.5 L470.6,162.2 L470.7,164.0 L470.9,165.8 L471.0,167.6 L471.1,169.3 L471.2,171.1 L471.4,173.0 L471.5,175.0 L471.6,177.1 L471.7,180.2 L471.8,183.4 L471.9,186.7 L472.0,190.1 L472.1,193.5 L472.2,197.0 L472.3,200.4 L472.4,203.8 L472.5,207.2 L472.6,210.7 L472.7,214.1 L472.8,217.5 L472.9,220.5 L473.0,222.9 L473.1,224.9 L473.1,227.8 L473.2,222.9 L473.3,220.5 L473.4,217.5 L473.5,214.1 L473.6,210.7 L473.7,207.2 L473.8,203.8 L473.9,200.4 L474.0,197.0 L474.1,193.5 L474.2,190.1 L474.3,186.7 L474.4,183.3 L474.5,179.8 L474.6,176.4 L474.7,173.0 L474.7,169.6 L474.8,166.2 L474.8,162.8 L474.9,159.3 L474.9,155.9 L475.0,152.5 L475.0,149.1 L475.1,145.6 L475.2,142.2 L475.3,138.7 L475.4,135.3 L475.5,131.8 L475.6,128.3 L475.7,124.9 L475.8,121.4 L475.9,118.0 L476.0,114.5 L476.1,111.0 L476.2,107.6 L476.3,104.1 L476.4,100.6 L476.5,97.2 L476.6,93.7 L476.7,90.5 L476.8,87.9 L476.9,85.7 L476.9,82.0 L477.0,86.1 L477.1,88.3 L477.2,90.9 L477.3,94.0 L477.4,97.3 L477.5,100.6 L477.6,103.9 L477.7,107.1 L477.8,109.9 L477.9,112.6 L478.0,113.8 L478.1,114.0 L478.2,114.1 L478.3,113.8 L478.4,113.5 L478.5,113.2 L478.6,113.3 L478.7,114.1 L478.8,115.7 L478.9,121.2 L479.0,128.8 L479.1,136.5 L479.2,144.4 L479.3,148.5 L479.5,151.6 L479.6,154.2 L479.7,156.3 L479.9,158.3 L480.0,160.3 L480.1,162.3 L480.2,164.3 L480.4,166.3 L480.5,168.4 L480.6,170.4 L480.7,172.5 L480.9,174.7 L481.0,177.0 L481.1,180.2 L481.2,183.5 L481.3,186.9 L481.4,190.4 L481.5,193.9 L481.6,197.4 L481.7,200.9 L481.8,204.3 L481.9,207.8 L482.0,211.3 L482.1,214.8 L482.2,218.3 L482.3,221.3 L482.4,223.8 L482.5,225.8 L482.5,228.8 L482.6,223.8 L482.7,221.3 L482.8,218.3 L482.9,214.8 L483.0,211.3 L483.1,207.8 L483.2,204.3 L483.3,200.9 L483.4,197.4 L483.5,193.9 L483.6,190.4 L483.7,186.9 L483.8,183.4 L483.9,180.0 L484.0,176.6 L484.1,173.4 L484.1,170.2 L484.2,167.0 L484.2,163.9 L484.3,160.8 L484.4,157.7 L484.4,154.6 L484.5,151.5 L484.5,148.5 L484.6,145.6 L484.7,142.8 L484.8,139.9 L484.9,137.1 L485.0,134.4 L485.1,131.6 L485.2,128.8 L485.3,126.0 L485.4,123.2 L485.5,120.4 L485.6,117.6 L485.7,114.8 L485.8,112.0 L485.9,109.2 L486.0,106.4 L486.1,103.6 L486.2,100.9 L486.3,98.1 L486.4,95.8 L486.5,93.9 L486.6,90.0 L486.6,92.8 L486.7,94.8 L486.8,97.3 L486.9,100.2 L487.0,103.5 L487.1,106.8 L487.2,110.1 L487.3,113.4 L487.4,116.4 L487.5,119.1 L487.6,121.4 L487.7,121.9 L487.8,122.0 L487.9,121.9 L488.0,121.6 L488.1,121.3 L488.2,121.0 L488.3,120.9 L488.4,121.0 L488.5,121.6 L488.6,123.8 L488.7,126.3 L488.8,129.0 L488.9,131.9 L489.0,134.8 L489.1,137.7 L489.2,140.6 L489.3,143.4 L489.4,146.1 L489.5,148.4 L489.7,150.3 L489.8,152.0 L489.9,153.7 L490.0,155.3 L490.1,156.8 L490.3,158.4 L490.4,160.0 L490.5,161.6 L490.6,163.2 L490.7,164.8 L490.9,166.4 L491.0,168.0 L491.1,169.5 L491.2,171.1 L491.4,172.9 L491.5,174.9 L491.6,177.1 L491.7,180.8 L491.8,185.3 L491.9,190.0 L492.0,194.9 L492.1,199.9 L492.2,205.0 L492.3,210.0 L492.4,215.0 L492.5,220.0 L492.6,225.1 L492.7,229.6 L492.8,233.4 L492.9,236.5 L492.9,241.7 L493.0,235.4 L493.1,232.0 L493.2,227.9 L493.3,223.1 L493.4,218.1 L493.5,213.1 L493.6,208.0 L493.7,203.0 L493.8,198.0 L493.9,193.0 L494.0,188.0 L494.1,182.9 L494.2,178.0 L494.3,173.0 L494.3,168.1 L494.3,163.3 L494.4,158.4 L494.4,153.5 L494.4,148.6 L494.5,143.6 L494.6,138.6 L494.7,133.6 L494.8,128.5 L494.9,123.5 L495.0,118.5 L495.1,113.4 L495.2,108.4 L495.3,103.4 L495.4,98.3 L495.5,93.6 L495.6,89.5 L495.7,86.0 L495.7,80.8 L495.8,85.2 L495.9,87.0 L496.0,89.4 L496.1,92.4 L496.2,95.7 L496.3,99.0 L496.4,102.3 L496.5,105.5 L496.6,108.4 L496.7,111.0 L496.8,112.5 L496.9,112.8 L497.0,112.8 L497.1,112.6 L497.2,112.3 L497.3,112.0 L497.4,111.7 L497.5,111.7 L497.6,111.9 L497.7,113.1 L497.8,115.2 L497.9,117.5 L498.0,120.0 L498.1,122.6 L498.2,125.3 L498.3,127.9 L498.4,130.5 L498.5,133.1 L498.6,135.8 L498.7,138.4 L498.8,141.0 L498.9,143.5 L499.0,145.9 L499.1,148.2 L499.2,149.8 L499.4,151.3 L499.5,152.8 L499.6,154.1 L499.7,155.5 L499.8,156.9 L500.0,158.2 L500.1,159.6 L500.2,161.0 L500.3,162.4 L500.4,163.7 L500.5,165.1 L500.7,166.5 L500.8,167.8 L500.9,169.2 L501.0,170.6 L501.1,171.9 L501.3,173.5 L501.4,175.3 L501.5,177.4 L501.6,181.1 L501.7,185.5 L501.8,190.1 L501.9,195.0 L502.0,200.0 L502.1,204.9 L502.2,209.9 L502.3,214.8 L502.4,219.8 L502.5,224.7 L502.6,229.2 L502.7,233.0 L502.8,236.0 L502.8,241.2 L502.9,235.0 L503.0,231.7 L503.1,227.7 L503.2,222.9 L503.3,218.0 L503.4,213.0 L503.5,208.1 L503.6,203.1 L503.7,198.1 L503.8,193.2 L503.9,188.3 L504.0,183.4 L504.1,178.5 L504.2,173.9 L504.2,169.5 L504.2,165.1 L504.3,160.8 L504.3,156.4 L504.4,152.1 L504.4,147.8 L504.5,143.4 L504.6,139.0 L504.7,134.6 L504.8,130.2 L504.9,125.8 L505.0,121.4 L505.1,117.0 L505.2,112.7 L505.3,108.3 L505.4,103.9 L505.5,99.5 L505.6,95.1 L505.7,91.3 L505.8,88.0 L505.9,82.0 L505.9,85.4 L506.0,87.1 L506.1,89.3 L506.2,92.0 L506.3,95.3 L506.4,98.6 L506.5,101.9 L506.6,105.2 L506.7,108.3 L506.8,111.0 L506.9,113.5 L507.0,113.9 L507.1,114.1 L507.2,114.0 L507.3,113.7 L507.4,113.4 L507.5,113.0 L507.6,112.9 L507.7,113.0 L507.8,113.3 L507.9,115.3 L508.0,117.4 L508.1,119.7 L508.2,122.3 L508.3,124.8 L508.4,127.4 L508.5,129.9 L508.6,132.4 L508.7,135.0 L508.8,137.5 L508.9,140.1 L509.0,142.6 L509.1,145.0 L509.2,147.3 L509.3,149.1 L509.5,150.6 L509.6,152.1 L509.7,153.5 L509.8,154.9 L509.9,156.3 L510.0,157.6 L510.2,159.0 L510.3,160.4 L510.4,161.7 L510.5,163.1 L510.6,164.5 L510.8,165.9 L510.9,167.2 L511.0,168.6 L511.1,170.0 L511.2,171.3 L511.4,172.8 L511.5,174.8 L511.6,177.2 L511.7,181.0 L511.8,187.3 L511.9,194.1 L512.0,201.3 L512.1,208.9 L512.2,216.4 L512.3,223.9 L512.4,231.5 L512.5,238.3 L512.6,244.0 L512.7,248.7 L512.7,256.5 L512.8,247.2 L512.9,242.1 L513.0,236.0 L513.1,228.9 L513.2,221.3 L513.3,213.8 L513.4,206.3 L513.5,198.7 L513.6,191.4 L513.7,184.4 L513.8,177.6 L513.9,172.6 L513.9,167.8 L514.0,163.2 L514.1,158.9 L514.2,154.6 L514.3,150.3 L514.4,146.0 L514.5,141.7 L514.6,137.4 L514.7,133.1 L514.8,128.8 L514.9,124.5 L515.0,120.2 L515.1,115.9 L515.2,111.7 L515.3,107.4 L515.5,103.1 L515.6,98.8 L515.7,94.7 L515.8,91.0 L515.9,87.7 L515.9,83.8" stroke="#0072bd" stroke-width="3.0" fill="none" stroke-linejoin="round" stroke-linecap="round"/></svg>
<div class="t xt" style="left:21.0px;top:353.7px">0</div><div class="t xt" style="left:142.1px;top:353.7px">0.05</div><div class="t xt" style="left:263.2px;top:353.7px">0.1</div><div class="t xt" style="left:384.3px;top:353.7px">0.15</div><div class="t xt" style="left:505.4px;top:353.7px">0.2</div><div class="t xt" style="left:626.6px;top:353.7px">0.25</div><div class="t xt" style="left:747.7px;top:353.7px">0.3</div><div class="t xt" style="left:868.8px;top:353.7px">0.35</div><div class="t xt" style="left:989.9px;top:353.7px">0.4</div><div class="t xt" style="left:1111.0px;top:353.7px">0.45</div><div class="t yt" style="left:0;top:15.0px">0.3</div><div class="t yt" style="left:0;top:55.1px">0.2</div><div class="t yt" style="left:0;top:95.2px">0.1</div><div class="t yt" style="left:0;top:135.4px">0</div><div class="t yt" style="left:0;top:175.5px">-0.1</div><div class="t yt" style="left:0;top:215.6px">-0.2</div><div class="t yt" style="left:0;top:255.8px">-0.3</div><div class="t yt" style="left:0;top:295.9px">-0.4</div><div class="t yt" style="left:0;top:336.0px">-0.5</div>
<div id="title">JOH-001-035-0006</div>
<div id="xlab">Time (s)</div>
<div id="ylab">Amplitude</div>
</body></html>
